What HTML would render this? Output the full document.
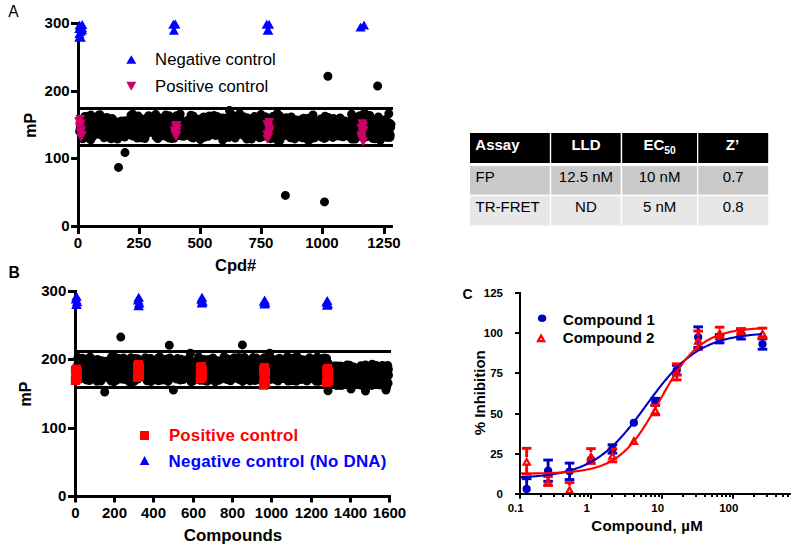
<!DOCTYPE html>
<html><head><meta charset="utf-8"><title>Figure</title>
<style>
html,body{margin:0;padding:0;background:#fff;}
svg{display:block;font-family:'Liberation Sans',Arial,sans-serif;}
</style></head>
<body>
<svg width="798" height="549" viewBox="0 0 798 549">
<rect width="798" height="549" fill="#fff"/>
<text x="8.20" y="16.80" font-size="15.6" font-weight="normal" fill="#000" text-anchor="start" >A</text>
<line x1="78.50" y1="22.00" x2="78.50" y2="228.00" stroke="#000" stroke-width="3"/>
<line x1="77.00" y1="226.50" x2="393.00" y2="226.50" stroke="#000" stroke-width="3"/>
<line x1="71.00" y1="226.50" x2="78.50" y2="226.50" stroke="#000" stroke-width="3"/>
<text x="69.60" y="231.00" font-size="15" font-weight="bold" fill="#000" text-anchor="end" >0</text>
<line x1="71.00" y1="158.50" x2="78.50" y2="158.50" stroke="#000" stroke-width="3"/>
<text x="69.60" y="163.00" font-size="15" font-weight="bold" fill="#000" text-anchor="end" >100</text>
<line x1="71.00" y1="91.50" x2="78.50" y2="91.50" stroke="#000" stroke-width="3"/>
<text x="69.60" y="96.00" font-size="15" font-weight="bold" fill="#000" text-anchor="end" >200</text>
<line x1="71.00" y1="23.50" x2="78.50" y2="23.50" stroke="#000" stroke-width="3"/>
<text x="69.60" y="28.00" font-size="15" font-weight="bold" fill="#000" text-anchor="end" >300</text>
<line x1="78.50" y1="226.50" x2="78.50" y2="234.00" stroke="#000" stroke-width="3"/>
<text x="77.90" y="248.10" font-size="15" font-weight="bold" fill="#000" text-anchor="middle" >0</text>
<line x1="139.50" y1="226.50" x2="139.50" y2="234.00" stroke="#000" stroke-width="3"/>
<text x="138.90" y="248.10" font-size="15" font-weight="bold" fill="#000" text-anchor="middle" >250</text>
<line x1="200.50" y1="226.50" x2="200.50" y2="234.00" stroke="#000" stroke-width="3"/>
<text x="199.90" y="248.10" font-size="15" font-weight="bold" fill="#000" text-anchor="middle" >500</text>
<line x1="261.50" y1="226.50" x2="261.50" y2="234.00" stroke="#000" stroke-width="3"/>
<text x="260.90" y="248.10" font-size="15" font-weight="bold" fill="#000" text-anchor="middle" >750</text>
<line x1="322.50" y1="226.50" x2="322.50" y2="234.00" stroke="#000" stroke-width="3"/>
<text x="321.90" y="248.10" font-size="15" font-weight="bold" fill="#000" text-anchor="middle" >1000</text>
<line x1="384.50" y1="226.50" x2="384.50" y2="234.00" stroke="#000" stroke-width="3"/>
<text x="383.90" y="248.10" font-size="15" font-weight="bold" fill="#000" text-anchor="middle" >1250</text>
<text x="235.60" y="270.60" font-size="16.5" font-weight="bold" fill="#000" text-anchor="middle" >Cpd#</text>
<text x="36.00" y="125.20" font-size="16" font-weight="bold" fill="#000" text-anchor="middle" transform="rotate(-90 36.0 125.2)">mP</text>
<path d="M76.8,130.3a4.5,4.5 0 1,0 9.0,0a4.5,4.5 0 1,0 -9.0,0M77.0,130.3a4.5,4.5 0 1,0 9.0,0a4.5,4.5 0 1,0 -9.0,0M77.3,120.6a4.5,4.5 0 1,0 9.0,0a4.5,4.5 0 1,0 -9.0,0M77.5,123.5a4.5,4.5 0 1,0 9.0,0a4.5,4.5 0 1,0 -9.0,0M77.6,130.4a4.5,4.5 0 1,0 9.0,0a4.5,4.5 0 1,0 -9.0,0M77.8,122.3a4.5,4.5 0 1,0 9.0,0a4.5,4.5 0 1,0 -9.0,0M78.1,122.2a4.5,4.5 0 1,0 9.0,0a4.5,4.5 0 1,0 -9.0,0M78.3,138.8a4.5,4.5 0 1,0 9.0,0a4.5,4.5 0 1,0 -9.0,0M78.7,122.5a4.5,4.5 0 1,0 9.0,0a4.5,4.5 0 1,0 -9.0,0M78.9,121.6a4.5,4.5 0 1,0 9.0,0a4.5,4.5 0 1,0 -9.0,0M79.0,131.2a4.5,4.5 0 1,0 9.0,0a4.5,4.5 0 1,0 -9.0,0M79.4,128.5a4.5,4.5 0 1,0 9.0,0a4.5,4.5 0 1,0 -9.0,0M79.6,123.2a4.5,4.5 0 1,0 9.0,0a4.5,4.5 0 1,0 -9.0,0M79.9,135.3a4.5,4.5 0 1,0 9.0,0a4.5,4.5 0 1,0 -9.0,0M80.1,129.8a4.5,4.5 0 1,0 9.0,0a4.5,4.5 0 1,0 -9.0,0M80.3,116.4a4.5,4.5 0 1,0 9.0,0a4.5,4.5 0 1,0 -9.0,0M80.6,124.5a4.5,4.5 0 1,0 9.0,0a4.5,4.5 0 1,0 -9.0,0M80.9,122.2a4.5,4.5 0 1,0 9.0,0a4.5,4.5 0 1,0 -9.0,0M81.0,116.5a4.5,4.5 0 1,0 9.0,0a4.5,4.5 0 1,0 -9.0,0M81.3,132.6a4.5,4.5 0 1,0 9.0,0a4.5,4.5 0 1,0 -9.0,0M81.6,136.9a4.5,4.5 0 1,0 9.0,0a4.5,4.5 0 1,0 -9.0,0M81.9,129.3a4.5,4.5 0 1,0 9.0,0a4.5,4.5 0 1,0 -9.0,0M82.1,131.1a4.5,4.5 0 1,0 9.0,0a4.5,4.5 0 1,0 -9.0,0M82.4,122.5a4.5,4.5 0 1,0 9.0,0a4.5,4.5 0 1,0 -9.0,0M82.6,120.0a4.5,4.5 0 1,0 9.0,0a4.5,4.5 0 1,0 -9.0,0M82.9,123.1a4.5,4.5 0 1,0 9.0,0a4.5,4.5 0 1,0 -9.0,0M83.2,116.6a4.5,4.5 0 1,0 9.0,0a4.5,4.5 0 1,0 -9.0,0M83.2,128.5a4.5,4.5 0 1,0 9.0,0a4.5,4.5 0 1,0 -9.0,0M83.6,129.3a4.5,4.5 0 1,0 9.0,0a4.5,4.5 0 1,0 -9.0,0M83.8,121.6a4.5,4.5 0 1,0 9.0,0a4.5,4.5 0 1,0 -9.0,0M84.1,134.5a4.5,4.5 0 1,0 9.0,0a4.5,4.5 0 1,0 -9.0,0M84.2,127.9a4.5,4.5 0 1,0 9.0,0a4.5,4.5 0 1,0 -9.0,0M84.4,138.0a4.5,4.5 0 1,0 9.0,0a4.5,4.5 0 1,0 -9.0,0M84.7,131.1a4.5,4.5 0 1,0 9.0,0a4.5,4.5 0 1,0 -9.0,0M85.0,115.8a4.5,4.5 0 1,0 9.0,0a4.5,4.5 0 1,0 -9.0,0M85.2,135.8a4.5,4.5 0 1,0 9.0,0a4.5,4.5 0 1,0 -9.0,0M85.5,122.4a4.5,4.5 0 1,0 9.0,0a4.5,4.5 0 1,0 -9.0,0M85.8,130.5a4.5,4.5 0 1,0 9.0,0a4.5,4.5 0 1,0 -9.0,0M86.0,122.5a4.5,4.5 0 1,0 9.0,0a4.5,4.5 0 1,0 -9.0,0M86.2,139.9a4.5,4.5 0 1,0 9.0,0a4.5,4.5 0 1,0 -9.0,0M86.4,115.1a4.5,4.5 0 1,0 9.0,0a4.5,4.5 0 1,0 -9.0,0M86.7,127.4a4.5,4.5 0 1,0 9.0,0a4.5,4.5 0 1,0 -9.0,0M87.0,131.9a4.5,4.5 0 1,0 9.0,0a4.5,4.5 0 1,0 -9.0,0M87.3,126.7a4.5,4.5 0 1,0 9.0,0a4.5,4.5 0 1,0 -9.0,0M87.5,127.4a4.5,4.5 0 1,0 9.0,0a4.5,4.5 0 1,0 -9.0,0M87.7,119.8a4.5,4.5 0 1,0 9.0,0a4.5,4.5 0 1,0 -9.0,0M88.0,117.1a4.5,4.5 0 1,0 9.0,0a4.5,4.5 0 1,0 -9.0,0M88.3,125.9a4.5,4.5 0 1,0 9.0,0a4.5,4.5 0 1,0 -9.0,0M88.4,136.6a4.5,4.5 0 1,0 9.0,0a4.5,4.5 0 1,0 -9.0,0M88.8,119.6a4.5,4.5 0 1,0 9.0,0a4.5,4.5 0 1,0 -9.0,0M89.0,121.3a4.5,4.5 0 1,0 9.0,0a4.5,4.5 0 1,0 -9.0,0M89.1,131.2a4.5,4.5 0 1,0 9.0,0a4.5,4.5 0 1,0 -9.0,0M89.5,129.2a4.5,4.5 0 1,0 9.0,0a4.5,4.5 0 1,0 -9.0,0M89.6,127.8a4.5,4.5 0 1,0 9.0,0a4.5,4.5 0 1,0 -9.0,0M89.9,125.6a4.5,4.5 0 1,0 9.0,0a4.5,4.5 0 1,0 -9.0,0M90.1,128.7a4.5,4.5 0 1,0 9.0,0a4.5,4.5 0 1,0 -9.0,0M90.3,132.1a4.5,4.5 0 1,0 9.0,0a4.5,4.5 0 1,0 -9.0,0M90.6,130.8a4.5,4.5 0 1,0 9.0,0a4.5,4.5 0 1,0 -9.0,0M91.0,123.8a4.5,4.5 0 1,0 9.0,0a4.5,4.5 0 1,0 -9.0,0M91.1,124.2a4.5,4.5 0 1,0 9.0,0a4.5,4.5 0 1,0 -9.0,0M91.4,124.4a4.5,4.5 0 1,0 9.0,0a4.5,4.5 0 1,0 -9.0,0M91.7,129.5a4.5,4.5 0 1,0 9.0,0a4.5,4.5 0 1,0 -9.0,0M92.0,118.9a4.5,4.5 0 1,0 9.0,0a4.5,4.5 0 1,0 -9.0,0M92.0,128.5a4.5,4.5 0 1,0 9.0,0a4.5,4.5 0 1,0 -9.0,0M92.3,123.8a4.5,4.5 0 1,0 9.0,0a4.5,4.5 0 1,0 -9.0,0M92.7,131.4a4.5,4.5 0 1,0 9.0,0a4.5,4.5 0 1,0 -9.0,0M92.8,129.3a4.5,4.5 0 1,0 9.0,0a4.5,4.5 0 1,0 -9.0,0M93.1,132.1a4.5,4.5 0 1,0 9.0,0a4.5,4.5 0 1,0 -9.0,0M93.3,133.8a4.5,4.5 0 1,0 9.0,0a4.5,4.5 0 1,0 -9.0,0M93.6,124.9a4.5,4.5 0 1,0 9.0,0a4.5,4.5 0 1,0 -9.0,0M93.9,126.3a4.5,4.5 0 1,0 9.0,0a4.5,4.5 0 1,0 -9.0,0M94.0,133.5a4.5,4.5 0 1,0 9.0,0a4.5,4.5 0 1,0 -9.0,0M94.4,114.9a4.5,4.5 0 1,0 9.0,0a4.5,4.5 0 1,0 -9.0,0M94.6,124.3a4.5,4.5 0 1,0 9.0,0a4.5,4.5 0 1,0 -9.0,0M94.8,134.4a4.5,4.5 0 1,0 9.0,0a4.5,4.5 0 1,0 -9.0,0M95.2,131.3a4.5,4.5 0 1,0 9.0,0a4.5,4.5 0 1,0 -9.0,0M95.4,114.7a4.5,4.5 0 1,0 9.0,0a4.5,4.5 0 1,0 -9.0,0M95.5,120.3a4.5,4.5 0 1,0 9.0,0a4.5,4.5 0 1,0 -9.0,0M95.7,126.1a4.5,4.5 0 1,0 9.0,0a4.5,4.5 0 1,0 -9.0,0M96.0,125.8a4.5,4.5 0 1,0 9.0,0a4.5,4.5 0 1,0 -9.0,0M96.4,132.1a4.5,4.5 0 1,0 9.0,0a4.5,4.5 0 1,0 -9.0,0M96.7,132.2a4.5,4.5 0 1,0 9.0,0a4.5,4.5 0 1,0 -9.0,0M96.9,133.2a4.5,4.5 0 1,0 9.0,0a4.5,4.5 0 1,0 -9.0,0M97.0,124.9a4.5,4.5 0 1,0 9.0,0a4.5,4.5 0 1,0 -9.0,0M97.2,128.4a4.5,4.5 0 1,0 9.0,0a4.5,4.5 0 1,0 -9.0,0M97.6,131.3a4.5,4.5 0 1,0 9.0,0a4.5,4.5 0 1,0 -9.0,0M97.9,131.1a4.5,4.5 0 1,0 9.0,0a4.5,4.5 0 1,0 -9.0,0M98.1,120.1a4.5,4.5 0 1,0 9.0,0a4.5,4.5 0 1,0 -9.0,0M98.4,135.7a4.5,4.5 0 1,0 9.0,0a4.5,4.5 0 1,0 -9.0,0M98.6,132.0a4.5,4.5 0 1,0 9.0,0a4.5,4.5 0 1,0 -9.0,0M98.8,126.8a4.5,4.5 0 1,0 9.0,0a4.5,4.5 0 1,0 -9.0,0M98.9,118.8a4.5,4.5 0 1,0 9.0,0a4.5,4.5 0 1,0 -9.0,0M99.3,120.6a4.5,4.5 0 1,0 9.0,0a4.5,4.5 0 1,0 -9.0,0M99.6,137.7a4.5,4.5 0 1,0 9.0,0a4.5,4.5 0 1,0 -9.0,0M99.7,136.6a4.5,4.5 0 1,0 9.0,0a4.5,4.5 0 1,0 -9.0,0M100.1,128.6a4.5,4.5 0 1,0 9.0,0a4.5,4.5 0 1,0 -9.0,0M100.2,130.0a4.5,4.5 0 1,0 9.0,0a4.5,4.5 0 1,0 -9.0,0M100.6,128.2a4.5,4.5 0 1,0 9.0,0a4.5,4.5 0 1,0 -9.0,0M100.8,123.1a4.5,4.5 0 1,0 9.0,0a4.5,4.5 0 1,0 -9.0,0M101.1,123.2a4.5,4.5 0 1,0 9.0,0a4.5,4.5 0 1,0 -9.0,0M101.2,121.4a4.5,4.5 0 1,0 9.0,0a4.5,4.5 0 1,0 -9.0,0M101.4,128.5a4.5,4.5 0 1,0 9.0,0a4.5,4.5 0 1,0 -9.0,0M101.8,124.1a4.5,4.5 0 1,0 9.0,0a4.5,4.5 0 1,0 -9.0,0M101.9,135.9a4.5,4.5 0 1,0 9.0,0a4.5,4.5 0 1,0 -9.0,0M102.1,117.4a4.5,4.5 0 1,0 9.0,0a4.5,4.5 0 1,0 -9.0,0M102.4,125.4a4.5,4.5 0 1,0 9.0,0a4.5,4.5 0 1,0 -9.0,0M102.7,131.8a4.5,4.5 0 1,0 9.0,0a4.5,4.5 0 1,0 -9.0,0M102.9,123.6a4.5,4.5 0 1,0 9.0,0a4.5,4.5 0 1,0 -9.0,0M103.3,128.6a4.5,4.5 0 1,0 9.0,0a4.5,4.5 0 1,0 -9.0,0M103.4,117.9a4.5,4.5 0 1,0 9.0,0a4.5,4.5 0 1,0 -9.0,0M103.8,129.2a4.5,4.5 0 1,0 9.0,0a4.5,4.5 0 1,0 -9.0,0M103.9,134.0a4.5,4.5 0 1,0 9.0,0a4.5,4.5 0 1,0 -9.0,0M104.2,122.7a4.5,4.5 0 1,0 9.0,0a4.5,4.5 0 1,0 -9.0,0M104.4,134.3a4.5,4.5 0 1,0 9.0,0a4.5,4.5 0 1,0 -9.0,0M104.6,127.7a4.5,4.5 0 1,0 9.0,0a4.5,4.5 0 1,0 -9.0,0M104.8,128.1a4.5,4.5 0 1,0 9.0,0a4.5,4.5 0 1,0 -9.0,0M105.1,122.7a4.5,4.5 0 1,0 9.0,0a4.5,4.5 0 1,0 -9.0,0M105.5,121.0a4.5,4.5 0 1,0 9.0,0a4.5,4.5 0 1,0 -9.0,0M105.6,124.6a4.5,4.5 0 1,0 9.0,0a4.5,4.5 0 1,0 -9.0,0M105.9,127.5a4.5,4.5 0 1,0 9.0,0a4.5,4.5 0 1,0 -9.0,0M106.1,123.6a4.5,4.5 0 1,0 9.0,0a4.5,4.5 0 1,0 -9.0,0M106.3,124.8a4.5,4.5 0 1,0 9.0,0a4.5,4.5 0 1,0 -9.0,0M106.6,138.7a4.5,4.5 0 1,0 9.0,0a4.5,4.5 0 1,0 -9.0,0M106.9,127.8a4.5,4.5 0 1,0 9.0,0a4.5,4.5 0 1,0 -9.0,0M107.1,120.5a4.5,4.5 0 1,0 9.0,0a4.5,4.5 0 1,0 -9.0,0M107.4,121.4a4.5,4.5 0 1,0 9.0,0a4.5,4.5 0 1,0 -9.0,0M107.7,118.5a4.5,4.5 0 1,0 9.0,0a4.5,4.5 0 1,0 -9.0,0M107.8,129.3a4.5,4.5 0 1,0 9.0,0a4.5,4.5 0 1,0 -9.0,0M108.2,122.3a4.5,4.5 0 1,0 9.0,0a4.5,4.5 0 1,0 -9.0,0M108.4,126.3a4.5,4.5 0 1,0 9.0,0a4.5,4.5 0 1,0 -9.0,0M108.7,135.7a4.5,4.5 0 1,0 9.0,0a4.5,4.5 0 1,0 -9.0,0M108.9,129.1a4.5,4.5 0 1,0 9.0,0a4.5,4.5 0 1,0 -9.0,0M109.1,129.5a4.5,4.5 0 1,0 9.0,0a4.5,4.5 0 1,0 -9.0,0M109.2,127.0a4.5,4.5 0 1,0 9.0,0a4.5,4.5 0 1,0 -9.0,0M109.6,129.5a4.5,4.5 0 1,0 9.0,0a4.5,4.5 0 1,0 -9.0,0M109.9,130.0a4.5,4.5 0 1,0 9.0,0a4.5,4.5 0 1,0 -9.0,0M110.1,124.4a4.5,4.5 0 1,0 9.0,0a4.5,4.5 0 1,0 -9.0,0M110.3,135.8a4.5,4.5 0 1,0 9.0,0a4.5,4.5 0 1,0 -9.0,0M110.7,138.1a4.5,4.5 0 1,0 9.0,0a4.5,4.5 0 1,0 -9.0,0M110.7,133.5a4.5,4.5 0 1,0 9.0,0a4.5,4.5 0 1,0 -9.0,0M111.0,124.7a4.5,4.5 0 1,0 9.0,0a4.5,4.5 0 1,0 -9.0,0M111.4,128.9a4.5,4.5 0 1,0 9.0,0a4.5,4.5 0 1,0 -9.0,0M111.5,123.2a4.5,4.5 0 1,0 9.0,0a4.5,4.5 0 1,0 -9.0,0M111.8,124.3a4.5,4.5 0 1,0 9.0,0a4.5,4.5 0 1,0 -9.0,0M112.0,130.7a4.5,4.5 0 1,0 9.0,0a4.5,4.5 0 1,0 -9.0,0M112.3,135.6a4.5,4.5 0 1,0 9.0,0a4.5,4.5 0 1,0 -9.0,0M112.5,127.9a4.5,4.5 0 1,0 9.0,0a4.5,4.5 0 1,0 -9.0,0M112.6,122.0a4.5,4.5 0 1,0 9.0,0a4.5,4.5 0 1,0 -9.0,0M113.0,135.3a4.5,4.5 0 1,0 9.0,0a4.5,4.5 0 1,0 -9.0,0M113.1,139.1a4.5,4.5 0 1,0 9.0,0a4.5,4.5 0 1,0 -9.0,0M113.6,125.6a4.5,4.5 0 1,0 9.0,0a4.5,4.5 0 1,0 -9.0,0M113.6,126.6a4.5,4.5 0 1,0 9.0,0a4.5,4.5 0 1,0 -9.0,0M114.1,128.8a4.5,4.5 0 1,0 9.0,0a4.5,4.5 0 1,0 -9.0,0M114.2,131.8a4.5,4.5 0 1,0 9.0,0a4.5,4.5 0 1,0 -9.0,0M114.6,132.1a4.5,4.5 0 1,0 9.0,0a4.5,4.5 0 1,0 -9.0,0M114.8,126.6a4.5,4.5 0 1,0 9.0,0a4.5,4.5 0 1,0 -9.0,0M115.1,130.8a4.5,4.5 0 1,0 9.0,0a4.5,4.5 0 1,0 -9.0,0M115.2,125.9a4.5,4.5 0 1,0 9.0,0a4.5,4.5 0 1,0 -9.0,0M115.3,123.9a4.5,4.5 0 1,0 9.0,0a4.5,4.5 0 1,0 -9.0,0M115.7,124.4a4.5,4.5 0 1,0 9.0,0a4.5,4.5 0 1,0 -9.0,0M116.1,128.0a4.5,4.5 0 1,0 9.0,0a4.5,4.5 0 1,0 -9.0,0M116.2,127.7a4.5,4.5 0 1,0 9.0,0a4.5,4.5 0 1,0 -9.0,0M116.5,124.0a4.5,4.5 0 1,0 9.0,0a4.5,4.5 0 1,0 -9.0,0M116.6,131.8a4.5,4.5 0 1,0 9.0,0a4.5,4.5 0 1,0 -9.0,0M116.9,121.0a4.5,4.5 0 1,0 9.0,0a4.5,4.5 0 1,0 -9.0,0M117.2,131.8a4.5,4.5 0 1,0 9.0,0a4.5,4.5 0 1,0 -9.0,0M117.3,124.3a4.5,4.5 0 1,0 9.0,0a4.5,4.5 0 1,0 -9.0,0M117.7,127.0a4.5,4.5 0 1,0 9.0,0a4.5,4.5 0 1,0 -9.0,0M117.8,130.2a4.5,4.5 0 1,0 9.0,0a4.5,4.5 0 1,0 -9.0,0M118.0,128.6a4.5,4.5 0 1,0 9.0,0a4.5,4.5 0 1,0 -9.0,0M118.4,132.6a4.5,4.5 0 1,0 9.0,0a4.5,4.5 0 1,0 -9.0,0M118.7,124.8a4.5,4.5 0 1,0 9.0,0a4.5,4.5 0 1,0 -9.0,0M118.8,134.8a4.5,4.5 0 1,0 9.0,0a4.5,4.5 0 1,0 -9.0,0M119.1,132.1a4.5,4.5 0 1,0 9.0,0a4.5,4.5 0 1,0 -9.0,0M119.3,127.4a4.5,4.5 0 1,0 9.0,0a4.5,4.5 0 1,0 -9.0,0M119.7,122.5a4.5,4.5 0 1,0 9.0,0a4.5,4.5 0 1,0 -9.0,0M119.9,125.4a4.5,4.5 0 1,0 9.0,0a4.5,4.5 0 1,0 -9.0,0M120.2,137.0a4.5,4.5 0 1,0 9.0,0a4.5,4.5 0 1,0 -9.0,0M120.3,134.8a4.5,4.5 0 1,0 9.0,0a4.5,4.5 0 1,0 -9.0,0M120.6,130.3a4.5,4.5 0 1,0 9.0,0a4.5,4.5 0 1,0 -9.0,0M120.9,120.8a4.5,4.5 0 1,0 9.0,0a4.5,4.5 0 1,0 -9.0,0M121.1,133.2a4.5,4.5 0 1,0 9.0,0a4.5,4.5 0 1,0 -9.0,0M121.4,126.1a4.5,4.5 0 1,0 9.0,0a4.5,4.5 0 1,0 -9.0,0M121.6,122.1a4.5,4.5 0 1,0 9.0,0a4.5,4.5 0 1,0 -9.0,0M121.8,121.4a4.5,4.5 0 1,0 9.0,0a4.5,4.5 0 1,0 -9.0,0M122.0,128.6a4.5,4.5 0 1,0 9.0,0a4.5,4.5 0 1,0 -9.0,0M122.4,128.8a4.5,4.5 0 1,0 9.0,0a4.5,4.5 0 1,0 -9.0,0M122.5,128.3a4.5,4.5 0 1,0 9.0,0a4.5,4.5 0 1,0 -9.0,0M122.9,129.3a4.5,4.5 0 1,0 9.0,0a4.5,4.5 0 1,0 -9.0,0M123.2,124.1a4.5,4.5 0 1,0 9.0,0a4.5,4.5 0 1,0 -9.0,0M123.2,121.8a4.5,4.5 0 1,0 9.0,0a4.5,4.5 0 1,0 -9.0,0M123.5,122.8a4.5,4.5 0 1,0 9.0,0a4.5,4.5 0 1,0 -9.0,0M123.8,127.8a4.5,4.5 0 1,0 9.0,0a4.5,4.5 0 1,0 -9.0,0M124.0,122.3a4.5,4.5 0 1,0 9.0,0a4.5,4.5 0 1,0 -9.0,0M124.3,127.4a4.5,4.5 0 1,0 9.0,0a4.5,4.5 0 1,0 -9.0,0M124.5,126.6a4.5,4.5 0 1,0 9.0,0a4.5,4.5 0 1,0 -9.0,0M124.8,127.1a4.5,4.5 0 1,0 9.0,0a4.5,4.5 0 1,0 -9.0,0M125.0,122.1a4.5,4.5 0 1,0 9.0,0a4.5,4.5 0 1,0 -9.0,0M125.3,126.7a4.5,4.5 0 1,0 9.0,0a4.5,4.5 0 1,0 -9.0,0M125.4,126.5a4.5,4.5 0 1,0 9.0,0a4.5,4.5 0 1,0 -9.0,0M125.7,129.8a4.5,4.5 0 1,0 9.0,0a4.5,4.5 0 1,0 -9.0,0M125.9,132.7a4.5,4.5 0 1,0 9.0,0a4.5,4.5 0 1,0 -9.0,0M126.2,127.6a4.5,4.5 0 1,0 9.0,0a4.5,4.5 0 1,0 -9.0,0M126.5,115.3a4.5,4.5 0 1,0 9.0,0a4.5,4.5 0 1,0 -9.0,0M126.8,124.7a4.5,4.5 0 1,0 9.0,0a4.5,4.5 0 1,0 -9.0,0M127.0,131.8a4.5,4.5 0 1,0 9.0,0a4.5,4.5 0 1,0 -9.0,0M127.2,122.0a4.5,4.5 0 1,0 9.0,0a4.5,4.5 0 1,0 -9.0,0M127.6,133.4a4.5,4.5 0 1,0 9.0,0a4.5,4.5 0 1,0 -9.0,0M127.8,135.9a4.5,4.5 0 1,0 9.0,0a4.5,4.5 0 1,0 -9.0,0M127.9,134.3a4.5,4.5 0 1,0 9.0,0a4.5,4.5 0 1,0 -9.0,0M128.2,114.1a4.5,4.5 0 1,0 9.0,0a4.5,4.5 0 1,0 -9.0,0M128.5,128.3a4.5,4.5 0 1,0 9.0,0a4.5,4.5 0 1,0 -9.0,0M128.7,123.3a4.5,4.5 0 1,0 9.0,0a4.5,4.5 0 1,0 -9.0,0M129.0,133.2a4.5,4.5 0 1,0 9.0,0a4.5,4.5 0 1,0 -9.0,0M129.3,115.9a4.5,4.5 0 1,0 9.0,0a4.5,4.5 0 1,0 -9.0,0M129.5,135.1a4.5,4.5 0 1,0 9.0,0a4.5,4.5 0 1,0 -9.0,0M129.7,120.2a4.5,4.5 0 1,0 9.0,0a4.5,4.5 0 1,0 -9.0,0M129.9,130.5a4.5,4.5 0 1,0 9.0,0a4.5,4.5 0 1,0 -9.0,0M130.1,127.5a4.5,4.5 0 1,0 9.0,0a4.5,4.5 0 1,0 -9.0,0M130.3,131.4a4.5,4.5 0 1,0 9.0,0a4.5,4.5 0 1,0 -9.0,0M130.7,119.1a4.5,4.5 0 1,0 9.0,0a4.5,4.5 0 1,0 -9.0,0M130.9,123.4a4.5,4.5 0 1,0 9.0,0a4.5,4.5 0 1,0 -9.0,0M131.0,119.4a4.5,4.5 0 1,0 9.0,0a4.5,4.5 0 1,0 -9.0,0M131.5,126.7a4.5,4.5 0 1,0 9.0,0a4.5,4.5 0 1,0 -9.0,0M131.7,118.5a4.5,4.5 0 1,0 9.0,0a4.5,4.5 0 1,0 -9.0,0M131.9,137.3a4.5,4.5 0 1,0 9.0,0a4.5,4.5 0 1,0 -9.0,0M132.1,131.4a4.5,4.5 0 1,0 9.0,0a4.5,4.5 0 1,0 -9.0,0M132.3,125.7a4.5,4.5 0 1,0 9.0,0a4.5,4.5 0 1,0 -9.0,0M132.6,138.1a4.5,4.5 0 1,0 9.0,0a4.5,4.5 0 1,0 -9.0,0M132.9,134.9a4.5,4.5 0 1,0 9.0,0a4.5,4.5 0 1,0 -9.0,0M133.1,125.6a4.5,4.5 0 1,0 9.0,0a4.5,4.5 0 1,0 -9.0,0M133.4,122.0a4.5,4.5 0 1,0 9.0,0a4.5,4.5 0 1,0 -9.0,0M133.6,115.9a4.5,4.5 0 1,0 9.0,0a4.5,4.5 0 1,0 -9.0,0M133.9,130.3a4.5,4.5 0 1,0 9.0,0a4.5,4.5 0 1,0 -9.0,0M134.0,128.6a4.5,4.5 0 1,0 9.0,0a4.5,4.5 0 1,0 -9.0,0M134.4,123.8a4.5,4.5 0 1,0 9.0,0a4.5,4.5 0 1,0 -9.0,0M134.5,135.3a4.5,4.5 0 1,0 9.0,0a4.5,4.5 0 1,0 -9.0,0M134.7,125.6a4.5,4.5 0 1,0 9.0,0a4.5,4.5 0 1,0 -9.0,0M135.1,137.2a4.5,4.5 0 1,0 9.0,0a4.5,4.5 0 1,0 -9.0,0M135.4,124.7a4.5,4.5 0 1,0 9.0,0a4.5,4.5 0 1,0 -9.0,0M135.6,135.0a4.5,4.5 0 1,0 9.0,0a4.5,4.5 0 1,0 -9.0,0M135.8,137.7a4.5,4.5 0 1,0 9.0,0a4.5,4.5 0 1,0 -9.0,0M136.0,136.8a4.5,4.5 0 1,0 9.0,0a4.5,4.5 0 1,0 -9.0,0M136.4,128.0a4.5,4.5 0 1,0 9.0,0a4.5,4.5 0 1,0 -9.0,0M136.5,126.3a4.5,4.5 0 1,0 9.0,0a4.5,4.5 0 1,0 -9.0,0M136.9,134.3a4.5,4.5 0 1,0 9.0,0a4.5,4.5 0 1,0 -9.0,0M137.0,125.3a4.5,4.5 0 1,0 9.0,0a4.5,4.5 0 1,0 -9.0,0M137.2,131.3a4.5,4.5 0 1,0 9.0,0a4.5,4.5 0 1,0 -9.0,0M137.6,125.2a4.5,4.5 0 1,0 9.0,0a4.5,4.5 0 1,0 -9.0,0M137.7,124.2a4.5,4.5 0 1,0 9.0,0a4.5,4.5 0 1,0 -9.0,0M137.9,130.4a4.5,4.5 0 1,0 9.0,0a4.5,4.5 0 1,0 -9.0,0M138.4,119.3a4.5,4.5 0 1,0 9.0,0a4.5,4.5 0 1,0 -9.0,0M138.6,128.5a4.5,4.5 0 1,0 9.0,0a4.5,4.5 0 1,0 -9.0,0M138.8,127.4a4.5,4.5 0 1,0 9.0,0a4.5,4.5 0 1,0 -9.0,0M139.0,126.9a4.5,4.5 0 1,0 9.0,0a4.5,4.5 0 1,0 -9.0,0M139.2,125.6a4.5,4.5 0 1,0 9.0,0a4.5,4.5 0 1,0 -9.0,0M139.5,130.5a4.5,4.5 0 1,0 9.0,0a4.5,4.5 0 1,0 -9.0,0M139.7,127.0a4.5,4.5 0 1,0 9.0,0a4.5,4.5 0 1,0 -9.0,0M140.1,126.5a4.5,4.5 0 1,0 9.0,0a4.5,4.5 0 1,0 -9.0,0M140.3,138.5a4.5,4.5 0 1,0 9.0,0a4.5,4.5 0 1,0 -9.0,0M140.5,137.7a4.5,4.5 0 1,0 9.0,0a4.5,4.5 0 1,0 -9.0,0M140.8,125.1a4.5,4.5 0 1,0 9.0,0a4.5,4.5 0 1,0 -9.0,0M140.9,133.3a4.5,4.5 0 1,0 9.0,0a4.5,4.5 0 1,0 -9.0,0M141.3,121.2a4.5,4.5 0 1,0 9.0,0a4.5,4.5 0 1,0 -9.0,0M141.4,123.3a4.5,4.5 0 1,0 9.0,0a4.5,4.5 0 1,0 -9.0,0M141.7,129.9a4.5,4.5 0 1,0 9.0,0a4.5,4.5 0 1,0 -9.0,0M142.0,127.8a4.5,4.5 0 1,0 9.0,0a4.5,4.5 0 1,0 -9.0,0M142.1,131.7a4.5,4.5 0 1,0 9.0,0a4.5,4.5 0 1,0 -9.0,0M142.4,124.7a4.5,4.5 0 1,0 9.0,0a4.5,4.5 0 1,0 -9.0,0M142.7,129.3a4.5,4.5 0 1,0 9.0,0a4.5,4.5 0 1,0 -9.0,0M143.0,133.1a4.5,4.5 0 1,0 9.0,0a4.5,4.5 0 1,0 -9.0,0M143.3,130.6a4.5,4.5 0 1,0 9.0,0a4.5,4.5 0 1,0 -9.0,0M143.5,117.7a4.5,4.5 0 1,0 9.0,0a4.5,4.5 0 1,0 -9.0,0M143.8,116.2a4.5,4.5 0 1,0 9.0,0a4.5,4.5 0 1,0 -9.0,0M143.8,123.4a4.5,4.5 0 1,0 9.0,0a4.5,4.5 0 1,0 -9.0,0M144.2,115.7a4.5,4.5 0 1,0 9.0,0a4.5,4.5 0 1,0 -9.0,0M144.4,130.4a4.5,4.5 0 1,0 9.0,0a4.5,4.5 0 1,0 -9.0,0M144.6,131.6a4.5,4.5 0 1,0 9.0,0a4.5,4.5 0 1,0 -9.0,0M144.8,120.5a4.5,4.5 0 1,0 9.0,0a4.5,4.5 0 1,0 -9.0,0M145.1,127.9a4.5,4.5 0 1,0 9.0,0a4.5,4.5 0 1,0 -9.0,0M145.4,132.2a4.5,4.5 0 1,0 9.0,0a4.5,4.5 0 1,0 -9.0,0M145.7,126.0a4.5,4.5 0 1,0 9.0,0a4.5,4.5 0 1,0 -9.0,0M145.8,120.2a4.5,4.5 0 1,0 9.0,0a4.5,4.5 0 1,0 -9.0,0M146.0,124.3a4.5,4.5 0 1,0 9.0,0a4.5,4.5 0 1,0 -9.0,0M146.3,130.8a4.5,4.5 0 1,0 9.0,0a4.5,4.5 0 1,0 -9.0,0M146.6,129.7a4.5,4.5 0 1,0 9.0,0a4.5,4.5 0 1,0 -9.0,0M147.0,123.1a4.5,4.5 0 1,0 9.0,0a4.5,4.5 0 1,0 -9.0,0M147.0,128.0a4.5,4.5 0 1,0 9.0,0a4.5,4.5 0 1,0 -9.0,0M147.3,125.1a4.5,4.5 0 1,0 9.0,0a4.5,4.5 0 1,0 -9.0,0M147.5,129.4a4.5,4.5 0 1,0 9.0,0a4.5,4.5 0 1,0 -9.0,0M147.8,120.6a4.5,4.5 0 1,0 9.0,0a4.5,4.5 0 1,0 -9.0,0M148.2,120.6a4.5,4.5 0 1,0 9.0,0a4.5,4.5 0 1,0 -9.0,0M148.3,130.6a4.5,4.5 0 1,0 9.0,0a4.5,4.5 0 1,0 -9.0,0M148.5,125.5a4.5,4.5 0 1,0 9.0,0a4.5,4.5 0 1,0 -9.0,0M148.8,128.9a4.5,4.5 0 1,0 9.0,0a4.5,4.5 0 1,0 -9.0,0M149.2,132.6a4.5,4.5 0 1,0 9.0,0a4.5,4.5 0 1,0 -9.0,0M149.3,132.7a4.5,4.5 0 1,0 9.0,0a4.5,4.5 0 1,0 -9.0,0M149.7,128.0a4.5,4.5 0 1,0 9.0,0a4.5,4.5 0 1,0 -9.0,0M149.7,132.2a4.5,4.5 0 1,0 9.0,0a4.5,4.5 0 1,0 -9.0,0M150.0,132.6a4.5,4.5 0 1,0 9.0,0a4.5,4.5 0 1,0 -9.0,0M150.4,127.8a4.5,4.5 0 1,0 9.0,0a4.5,4.5 0 1,0 -9.0,0M150.4,125.7a4.5,4.5 0 1,0 9.0,0a4.5,4.5 0 1,0 -9.0,0M150.8,133.1a4.5,4.5 0 1,0 9.0,0a4.5,4.5 0 1,0 -9.0,0M151.1,122.0a4.5,4.5 0 1,0 9.0,0a4.5,4.5 0 1,0 -9.0,0M151.2,114.4a4.5,4.5 0 1,0 9.0,0a4.5,4.5 0 1,0 -9.0,0M151.6,136.9a4.5,4.5 0 1,0 9.0,0a4.5,4.5 0 1,0 -9.0,0M151.9,132.0a4.5,4.5 0 1,0 9.0,0a4.5,4.5 0 1,0 -9.0,0M151.9,125.9a4.5,4.5 0 1,0 9.0,0a4.5,4.5 0 1,0 -9.0,0M152.2,116.3a4.5,4.5 0 1,0 9.0,0a4.5,4.5 0 1,0 -9.0,0M152.6,125.3a4.5,4.5 0 1,0 9.0,0a4.5,4.5 0 1,0 -9.0,0M152.8,119.6a4.5,4.5 0 1,0 9.0,0a4.5,4.5 0 1,0 -9.0,0M153.0,117.3a4.5,4.5 0 1,0 9.0,0a4.5,4.5 0 1,0 -9.0,0M153.3,138.6a4.5,4.5 0 1,0 9.0,0a4.5,4.5 0 1,0 -9.0,0M153.4,129.8a4.5,4.5 0 1,0 9.0,0a4.5,4.5 0 1,0 -9.0,0M153.8,123.2a4.5,4.5 0 1,0 9.0,0a4.5,4.5 0 1,0 -9.0,0M153.9,122.1a4.5,4.5 0 1,0 9.0,0a4.5,4.5 0 1,0 -9.0,0M154.2,119.7a4.5,4.5 0 1,0 9.0,0a4.5,4.5 0 1,0 -9.0,0M154.4,118.6a4.5,4.5 0 1,0 9.0,0a4.5,4.5 0 1,0 -9.0,0M154.6,117.7a4.5,4.5 0 1,0 9.0,0a4.5,4.5 0 1,0 -9.0,0M154.9,125.4a4.5,4.5 0 1,0 9.0,0a4.5,4.5 0 1,0 -9.0,0M155.1,126.0a4.5,4.5 0 1,0 9.0,0a4.5,4.5 0 1,0 -9.0,0M155.4,126.2a4.5,4.5 0 1,0 9.0,0a4.5,4.5 0 1,0 -9.0,0M155.7,136.5a4.5,4.5 0 1,0 9.0,0a4.5,4.5 0 1,0 -9.0,0M156.0,124.2a4.5,4.5 0 1,0 9.0,0a4.5,4.5 0 1,0 -9.0,0M156.2,127.3a4.5,4.5 0 1,0 9.0,0a4.5,4.5 0 1,0 -9.0,0M156.5,132.0a4.5,4.5 0 1,0 9.0,0a4.5,4.5 0 1,0 -9.0,0M156.7,126.3a4.5,4.5 0 1,0 9.0,0a4.5,4.5 0 1,0 -9.0,0M156.9,128.2a4.5,4.5 0 1,0 9.0,0a4.5,4.5 0 1,0 -9.0,0M157.2,122.1a4.5,4.5 0 1,0 9.0,0a4.5,4.5 0 1,0 -9.0,0M157.5,129.4a4.5,4.5 0 1,0 9.0,0a4.5,4.5 0 1,0 -9.0,0M157.8,127.1a4.5,4.5 0 1,0 9.0,0a4.5,4.5 0 1,0 -9.0,0M157.9,128.6a4.5,4.5 0 1,0 9.0,0a4.5,4.5 0 1,0 -9.0,0M158.1,124.9a4.5,4.5 0 1,0 9.0,0a4.5,4.5 0 1,0 -9.0,0M158.5,122.6a4.5,4.5 0 1,0 9.0,0a4.5,4.5 0 1,0 -9.0,0M158.7,122.1a4.5,4.5 0 1,0 9.0,0a4.5,4.5 0 1,0 -9.0,0M159.0,126.7a4.5,4.5 0 1,0 9.0,0a4.5,4.5 0 1,0 -9.0,0M159.1,129.0a4.5,4.5 0 1,0 9.0,0a4.5,4.5 0 1,0 -9.0,0M159.3,122.2a4.5,4.5 0 1,0 9.0,0a4.5,4.5 0 1,0 -9.0,0M159.7,122.0a4.5,4.5 0 1,0 9.0,0a4.5,4.5 0 1,0 -9.0,0M159.9,128.7a4.5,4.5 0 1,0 9.0,0a4.5,4.5 0 1,0 -9.0,0M160.1,131.4a4.5,4.5 0 1,0 9.0,0a4.5,4.5 0 1,0 -9.0,0M160.4,130.5a4.5,4.5 0 1,0 9.0,0a4.5,4.5 0 1,0 -9.0,0M160.6,125.6a4.5,4.5 0 1,0 9.0,0a4.5,4.5 0 1,0 -9.0,0M160.8,130.6a4.5,4.5 0 1,0 9.0,0a4.5,4.5 0 1,0 -9.0,0M161.0,126.2a4.5,4.5 0 1,0 9.0,0a4.5,4.5 0 1,0 -9.0,0M161.2,115.1a4.5,4.5 0 1,0 9.0,0a4.5,4.5 0 1,0 -9.0,0M161.7,136.1a4.5,4.5 0 1,0 9.0,0a4.5,4.5 0 1,0 -9.0,0M161.9,126.5a4.5,4.5 0 1,0 9.0,0a4.5,4.5 0 1,0 -9.0,0M162.0,133.3a4.5,4.5 0 1,0 9.0,0a4.5,4.5 0 1,0 -9.0,0M162.4,136.9a4.5,4.5 0 1,0 9.0,0a4.5,4.5 0 1,0 -9.0,0M162.5,128.9a4.5,4.5 0 1,0 9.0,0a4.5,4.5 0 1,0 -9.0,0M162.8,124.7a4.5,4.5 0 1,0 9.0,0a4.5,4.5 0 1,0 -9.0,0M162.9,130.5a4.5,4.5 0 1,0 9.0,0a4.5,4.5 0 1,0 -9.0,0M163.2,116.4a4.5,4.5 0 1,0 9.0,0a4.5,4.5 0 1,0 -9.0,0M163.5,131.5a4.5,4.5 0 1,0 9.0,0a4.5,4.5 0 1,0 -9.0,0M163.8,125.7a4.5,4.5 0 1,0 9.0,0a4.5,4.5 0 1,0 -9.0,0M164.1,130.1a4.5,4.5 0 1,0 9.0,0a4.5,4.5 0 1,0 -9.0,0M164.2,120.1a4.5,4.5 0 1,0 9.0,0a4.5,4.5 0 1,0 -9.0,0M164.5,115.8a4.5,4.5 0 1,0 9.0,0a4.5,4.5 0 1,0 -9.0,0M164.7,138.1a4.5,4.5 0 1,0 9.0,0a4.5,4.5 0 1,0 -9.0,0M165.0,128.2a4.5,4.5 0 1,0 9.0,0a4.5,4.5 0 1,0 -9.0,0M165.2,125.8a4.5,4.5 0 1,0 9.0,0a4.5,4.5 0 1,0 -9.0,0M165.6,127.0a4.5,4.5 0 1,0 9.0,0a4.5,4.5 0 1,0 -9.0,0M165.6,124.8a4.5,4.5 0 1,0 9.0,0a4.5,4.5 0 1,0 -9.0,0M165.9,131.5a4.5,4.5 0 1,0 9.0,0a4.5,4.5 0 1,0 -9.0,0M166.3,124.2a4.5,4.5 0 1,0 9.0,0a4.5,4.5 0 1,0 -9.0,0M166.6,123.8a4.5,4.5 0 1,0 9.0,0a4.5,4.5 0 1,0 -9.0,0M166.8,131.5a4.5,4.5 0 1,0 9.0,0a4.5,4.5 0 1,0 -9.0,0M167.0,126.0a4.5,4.5 0 1,0 9.0,0a4.5,4.5 0 1,0 -9.0,0M167.2,137.9a4.5,4.5 0 1,0 9.0,0a4.5,4.5 0 1,0 -9.0,0M167.4,138.5a4.5,4.5 0 1,0 9.0,0a4.5,4.5 0 1,0 -9.0,0M167.8,127.1a4.5,4.5 0 1,0 9.0,0a4.5,4.5 0 1,0 -9.0,0M168.0,128.3a4.5,4.5 0 1,0 9.0,0a4.5,4.5 0 1,0 -9.0,0M168.1,126.3a4.5,4.5 0 1,0 9.0,0a4.5,4.5 0 1,0 -9.0,0M168.4,122.1a4.5,4.5 0 1,0 9.0,0a4.5,4.5 0 1,0 -9.0,0M168.7,126.8a4.5,4.5 0 1,0 9.0,0a4.5,4.5 0 1,0 -9.0,0M168.9,134.2a4.5,4.5 0 1,0 9.0,0a4.5,4.5 0 1,0 -9.0,0M169.3,132.0a4.5,4.5 0 1,0 9.0,0a4.5,4.5 0 1,0 -9.0,0M169.5,138.3a4.5,4.5 0 1,0 9.0,0a4.5,4.5 0 1,0 -9.0,0M169.8,128.2a4.5,4.5 0 1,0 9.0,0a4.5,4.5 0 1,0 -9.0,0M169.9,117.3a4.5,4.5 0 1,0 9.0,0a4.5,4.5 0 1,0 -9.0,0M170.1,118.9a4.5,4.5 0 1,0 9.0,0a4.5,4.5 0 1,0 -9.0,0M170.3,136.1a4.5,4.5 0 1,0 9.0,0a4.5,4.5 0 1,0 -9.0,0M170.6,126.9a4.5,4.5 0 1,0 9.0,0a4.5,4.5 0 1,0 -9.0,0M170.8,121.5a4.5,4.5 0 1,0 9.0,0a4.5,4.5 0 1,0 -9.0,0M171.0,120.9a4.5,4.5 0 1,0 9.0,0a4.5,4.5 0 1,0 -9.0,0M171.5,124.8a4.5,4.5 0 1,0 9.0,0a4.5,4.5 0 1,0 -9.0,0M171.7,132.3a4.5,4.5 0 1,0 9.0,0a4.5,4.5 0 1,0 -9.0,0M171.8,126.4a4.5,4.5 0 1,0 9.0,0a4.5,4.5 0 1,0 -9.0,0M172.0,115.8a4.5,4.5 0 1,0 9.0,0a4.5,4.5 0 1,0 -9.0,0M172.4,126.9a4.5,4.5 0 1,0 9.0,0a4.5,4.5 0 1,0 -9.0,0M172.6,118.4a4.5,4.5 0 1,0 9.0,0a4.5,4.5 0 1,0 -9.0,0M172.9,131.7a4.5,4.5 0 1,0 9.0,0a4.5,4.5 0 1,0 -9.0,0M173.2,132.7a4.5,4.5 0 1,0 9.0,0a4.5,4.5 0 1,0 -9.0,0M173.3,118.3a4.5,4.5 0 1,0 9.0,0a4.5,4.5 0 1,0 -9.0,0M173.7,124.3a4.5,4.5 0 1,0 9.0,0a4.5,4.5 0 1,0 -9.0,0M173.8,135.5a4.5,4.5 0 1,0 9.0,0a4.5,4.5 0 1,0 -9.0,0M174.2,128.5a4.5,4.5 0 1,0 9.0,0a4.5,4.5 0 1,0 -9.0,0M174.3,131.8a4.5,4.5 0 1,0 9.0,0a4.5,4.5 0 1,0 -9.0,0M174.5,133.7a4.5,4.5 0 1,0 9.0,0a4.5,4.5 0 1,0 -9.0,0M174.8,120.7a4.5,4.5 0 1,0 9.0,0a4.5,4.5 0 1,0 -9.0,0M175.1,135.1a4.5,4.5 0 1,0 9.0,0a4.5,4.5 0 1,0 -9.0,0M175.3,126.4a4.5,4.5 0 1,0 9.0,0a4.5,4.5 0 1,0 -9.0,0M175.6,114.5a4.5,4.5 0 1,0 9.0,0a4.5,4.5 0 1,0 -9.0,0M175.7,114.0a4.5,4.5 0 1,0 9.0,0a4.5,4.5 0 1,0 -9.0,0M176.1,128.8a4.5,4.5 0 1,0 9.0,0a4.5,4.5 0 1,0 -9.0,0M176.4,132.5a4.5,4.5 0 1,0 9.0,0a4.5,4.5 0 1,0 -9.0,0M176.5,128.3a4.5,4.5 0 1,0 9.0,0a4.5,4.5 0 1,0 -9.0,0M176.7,135.9a4.5,4.5 0 1,0 9.0,0a4.5,4.5 0 1,0 -9.0,0M177.1,125.2a4.5,4.5 0 1,0 9.0,0a4.5,4.5 0 1,0 -9.0,0M177.3,131.9a4.5,4.5 0 1,0 9.0,0a4.5,4.5 0 1,0 -9.0,0M177.5,121.1a4.5,4.5 0 1,0 9.0,0a4.5,4.5 0 1,0 -9.0,0M177.8,129.9a4.5,4.5 0 1,0 9.0,0a4.5,4.5 0 1,0 -9.0,0M178.0,125.7a4.5,4.5 0 1,0 9.0,0a4.5,4.5 0 1,0 -9.0,0M178.3,128.2a4.5,4.5 0 1,0 9.0,0a4.5,4.5 0 1,0 -9.0,0M178.4,133.4a4.5,4.5 0 1,0 9.0,0a4.5,4.5 0 1,0 -9.0,0M178.7,126.5a4.5,4.5 0 1,0 9.0,0a4.5,4.5 0 1,0 -9.0,0M179.0,136.3a4.5,4.5 0 1,0 9.0,0a4.5,4.5 0 1,0 -9.0,0M179.2,133.0a4.5,4.5 0 1,0 9.0,0a4.5,4.5 0 1,0 -9.0,0M179.5,127.2a4.5,4.5 0 1,0 9.0,0a4.5,4.5 0 1,0 -9.0,0M179.7,125.0a4.5,4.5 0 1,0 9.0,0a4.5,4.5 0 1,0 -9.0,0M180.1,131.2a4.5,4.5 0 1,0 9.0,0a4.5,4.5 0 1,0 -9.0,0M180.2,129.8a4.5,4.5 0 1,0 9.0,0a4.5,4.5 0 1,0 -9.0,0M180.5,128.1a4.5,4.5 0 1,0 9.0,0a4.5,4.5 0 1,0 -9.0,0M180.7,124.8a4.5,4.5 0 1,0 9.0,0a4.5,4.5 0 1,0 -9.0,0M180.9,124.5a4.5,4.5 0 1,0 9.0,0a4.5,4.5 0 1,0 -9.0,0M181.3,122.0a4.5,4.5 0 1,0 9.0,0a4.5,4.5 0 1,0 -9.0,0M181.4,129.9a4.5,4.5 0 1,0 9.0,0a4.5,4.5 0 1,0 -9.0,0M181.8,123.3a4.5,4.5 0 1,0 9.0,0a4.5,4.5 0 1,0 -9.0,0M181.9,135.2a4.5,4.5 0 1,0 9.0,0a4.5,4.5 0 1,0 -9.0,0M182.2,123.8a4.5,4.5 0 1,0 9.0,0a4.5,4.5 0 1,0 -9.0,0M182.5,130.3a4.5,4.5 0 1,0 9.0,0a4.5,4.5 0 1,0 -9.0,0M182.6,127.4a4.5,4.5 0 1,0 9.0,0a4.5,4.5 0 1,0 -9.0,0M182.9,129.9a4.5,4.5 0 1,0 9.0,0a4.5,4.5 0 1,0 -9.0,0M183.3,120.3a4.5,4.5 0 1,0 9.0,0a4.5,4.5 0 1,0 -9.0,0M183.4,127.4a4.5,4.5 0 1,0 9.0,0a4.5,4.5 0 1,0 -9.0,0M183.7,127.8a4.5,4.5 0 1,0 9.0,0a4.5,4.5 0 1,0 -9.0,0M183.9,129.4a4.5,4.5 0 1,0 9.0,0a4.5,4.5 0 1,0 -9.0,0M184.2,125.2a4.5,4.5 0 1,0 9.0,0a4.5,4.5 0 1,0 -9.0,0M184.4,122.9a4.5,4.5 0 1,0 9.0,0a4.5,4.5 0 1,0 -9.0,0M184.6,126.7a4.5,4.5 0 1,0 9.0,0a4.5,4.5 0 1,0 -9.0,0M184.9,129.8a4.5,4.5 0 1,0 9.0,0a4.5,4.5 0 1,0 -9.0,0M185.1,125.3a4.5,4.5 0 1,0 9.0,0a4.5,4.5 0 1,0 -9.0,0M185.5,131.3a4.5,4.5 0 1,0 9.0,0a4.5,4.5 0 1,0 -9.0,0M185.5,125.8a4.5,4.5 0 1,0 9.0,0a4.5,4.5 0 1,0 -9.0,0M186.0,134.7a4.5,4.5 0 1,0 9.0,0a4.5,4.5 0 1,0 -9.0,0M186.0,125.6a4.5,4.5 0 1,0 9.0,0a4.5,4.5 0 1,0 -9.0,0M186.5,115.2a4.5,4.5 0 1,0 9.0,0a4.5,4.5 0 1,0 -9.0,0M186.6,136.6a4.5,4.5 0 1,0 9.0,0a4.5,4.5 0 1,0 -9.0,0M186.9,133.4a4.5,4.5 0 1,0 9.0,0a4.5,4.5 0 1,0 -9.0,0M187.0,137.2a4.5,4.5 0 1,0 9.0,0a4.5,4.5 0 1,0 -9.0,0M187.3,134.3a4.5,4.5 0 1,0 9.0,0a4.5,4.5 0 1,0 -9.0,0M187.5,116.0a4.5,4.5 0 1,0 9.0,0a4.5,4.5 0 1,0 -9.0,0M187.8,120.0a4.5,4.5 0 1,0 9.0,0a4.5,4.5 0 1,0 -9.0,0M188.1,131.8a4.5,4.5 0 1,0 9.0,0a4.5,4.5 0 1,0 -9.0,0M188.2,127.0a4.5,4.5 0 1,0 9.0,0a4.5,4.5 0 1,0 -9.0,0M188.7,138.0a4.5,4.5 0 1,0 9.0,0a4.5,4.5 0 1,0 -9.0,0M188.7,115.9a4.5,4.5 0 1,0 9.0,0a4.5,4.5 0 1,0 -9.0,0M189.0,122.3a4.5,4.5 0 1,0 9.0,0a4.5,4.5 0 1,0 -9.0,0M189.4,133.8a4.5,4.5 0 1,0 9.0,0a4.5,4.5 0 1,0 -9.0,0M189.6,133.2a4.5,4.5 0 1,0 9.0,0a4.5,4.5 0 1,0 -9.0,0M189.8,124.3a4.5,4.5 0 1,0 9.0,0a4.5,4.5 0 1,0 -9.0,0M190.1,133.7a4.5,4.5 0 1,0 9.0,0a4.5,4.5 0 1,0 -9.0,0M190.3,122.7a4.5,4.5 0 1,0 9.0,0a4.5,4.5 0 1,0 -9.0,0M190.5,120.4a4.5,4.5 0 1,0 9.0,0a4.5,4.5 0 1,0 -9.0,0M190.7,120.8a4.5,4.5 0 1,0 9.0,0a4.5,4.5 0 1,0 -9.0,0M191.0,121.3a4.5,4.5 0 1,0 9.0,0a4.5,4.5 0 1,0 -9.0,0M191.3,128.3a4.5,4.5 0 1,0 9.0,0a4.5,4.5 0 1,0 -9.0,0M191.4,119.2a4.5,4.5 0 1,0 9.0,0a4.5,4.5 0 1,0 -9.0,0M191.8,129.7a4.5,4.5 0 1,0 9.0,0a4.5,4.5 0 1,0 -9.0,0M192.0,129.1a4.5,4.5 0 1,0 9.0,0a4.5,4.5 0 1,0 -9.0,0M192.2,119.0a4.5,4.5 0 1,0 9.0,0a4.5,4.5 0 1,0 -9.0,0M192.4,129.8a4.5,4.5 0 1,0 9.0,0a4.5,4.5 0 1,0 -9.0,0M192.8,136.7a4.5,4.5 0 1,0 9.0,0a4.5,4.5 0 1,0 -9.0,0M193.1,132.4a4.5,4.5 0 1,0 9.0,0a4.5,4.5 0 1,0 -9.0,0M193.2,134.6a4.5,4.5 0 1,0 9.0,0a4.5,4.5 0 1,0 -9.0,0M193.5,129.6a4.5,4.5 0 1,0 9.0,0a4.5,4.5 0 1,0 -9.0,0M193.8,135.9a4.5,4.5 0 1,0 9.0,0a4.5,4.5 0 1,0 -9.0,0M194.1,137.2a4.5,4.5 0 1,0 9.0,0a4.5,4.5 0 1,0 -9.0,0M194.3,128.6a4.5,4.5 0 1,0 9.0,0a4.5,4.5 0 1,0 -9.0,0M194.6,122.6a4.5,4.5 0 1,0 9.0,0a4.5,4.5 0 1,0 -9.0,0M194.7,122.6a4.5,4.5 0 1,0 9.0,0a4.5,4.5 0 1,0 -9.0,0M194.9,130.7a4.5,4.5 0 1,0 9.0,0a4.5,4.5 0 1,0 -9.0,0M195.1,119.8a4.5,4.5 0 1,0 9.0,0a4.5,4.5 0 1,0 -9.0,0M195.4,136.3a4.5,4.5 0 1,0 9.0,0a4.5,4.5 0 1,0 -9.0,0M195.8,124.8a4.5,4.5 0 1,0 9.0,0a4.5,4.5 0 1,0 -9.0,0M195.8,139.5a4.5,4.5 0 1,0 9.0,0a4.5,4.5 0 1,0 -9.0,0M196.2,131.0a4.5,4.5 0 1,0 9.0,0a4.5,4.5 0 1,0 -9.0,0M196.4,124.5a4.5,4.5 0 1,0 9.0,0a4.5,4.5 0 1,0 -9.0,0M196.7,126.0a4.5,4.5 0 1,0 9.0,0a4.5,4.5 0 1,0 -9.0,0M196.8,128.5a4.5,4.5 0 1,0 9.0,0a4.5,4.5 0 1,0 -9.0,0M197.1,136.5a4.5,4.5 0 1,0 9.0,0a4.5,4.5 0 1,0 -9.0,0M197.5,122.7a4.5,4.5 0 1,0 9.0,0a4.5,4.5 0 1,0 -9.0,0M197.6,127.6a4.5,4.5 0 1,0 9.0,0a4.5,4.5 0 1,0 -9.0,0M197.9,123.4a4.5,4.5 0 1,0 9.0,0a4.5,4.5 0 1,0 -9.0,0M198.2,117.8a4.5,4.5 0 1,0 9.0,0a4.5,4.5 0 1,0 -9.0,0M198.4,137.8a4.5,4.5 0 1,0 9.0,0a4.5,4.5 0 1,0 -9.0,0M198.7,129.2a4.5,4.5 0 1,0 9.0,0a4.5,4.5 0 1,0 -9.0,0M199.0,124.6a4.5,4.5 0 1,0 9.0,0a4.5,4.5 0 1,0 -9.0,0M199.2,116.9a4.5,4.5 0 1,0 9.0,0a4.5,4.5 0 1,0 -9.0,0M199.3,134.5a4.5,4.5 0 1,0 9.0,0a4.5,4.5 0 1,0 -9.0,0M199.7,121.0a4.5,4.5 0 1,0 9.0,0a4.5,4.5 0 1,0 -9.0,0M199.9,123.7a4.5,4.5 0 1,0 9.0,0a4.5,4.5 0 1,0 -9.0,0M200.1,131.9a4.5,4.5 0 1,0 9.0,0a4.5,4.5 0 1,0 -9.0,0M200.2,137.1a4.5,4.5 0 1,0 9.0,0a4.5,4.5 0 1,0 -9.0,0M200.7,126.6a4.5,4.5 0 1,0 9.0,0a4.5,4.5 0 1,0 -9.0,0M201.0,136.8a4.5,4.5 0 1,0 9.0,0a4.5,4.5 0 1,0 -9.0,0M201.1,123.7a4.5,4.5 0 1,0 9.0,0a4.5,4.5 0 1,0 -9.0,0M201.2,121.6a4.5,4.5 0 1,0 9.0,0a4.5,4.5 0 1,0 -9.0,0M201.5,132.5a4.5,4.5 0 1,0 9.0,0a4.5,4.5 0 1,0 -9.0,0M201.8,134.6a4.5,4.5 0 1,0 9.0,0a4.5,4.5 0 1,0 -9.0,0M202.1,129.8a4.5,4.5 0 1,0 9.0,0a4.5,4.5 0 1,0 -9.0,0M202.2,124.5a4.5,4.5 0 1,0 9.0,0a4.5,4.5 0 1,0 -9.0,0M202.6,127.3a4.5,4.5 0 1,0 9.0,0a4.5,4.5 0 1,0 -9.0,0M202.8,126.9a4.5,4.5 0 1,0 9.0,0a4.5,4.5 0 1,0 -9.0,0M203.0,123.7a4.5,4.5 0 1,0 9.0,0a4.5,4.5 0 1,0 -9.0,0M203.3,130.7a4.5,4.5 0 1,0 9.0,0a4.5,4.5 0 1,0 -9.0,0M203.6,129.6a4.5,4.5 0 1,0 9.0,0a4.5,4.5 0 1,0 -9.0,0M203.8,136.2a4.5,4.5 0 1,0 9.0,0a4.5,4.5 0 1,0 -9.0,0M203.9,131.6a4.5,4.5 0 1,0 9.0,0a4.5,4.5 0 1,0 -9.0,0M204.2,124.8a4.5,4.5 0 1,0 9.0,0a4.5,4.5 0 1,0 -9.0,0M204.4,117.6a4.5,4.5 0 1,0 9.0,0a4.5,4.5 0 1,0 -9.0,0M204.8,116.0a4.5,4.5 0 1,0 9.0,0a4.5,4.5 0 1,0 -9.0,0M205.0,126.7a4.5,4.5 0 1,0 9.0,0a4.5,4.5 0 1,0 -9.0,0M205.3,127.9a4.5,4.5 0 1,0 9.0,0a4.5,4.5 0 1,0 -9.0,0M205.5,120.9a4.5,4.5 0 1,0 9.0,0a4.5,4.5 0 1,0 -9.0,0M205.7,134.9a4.5,4.5 0 1,0 9.0,0a4.5,4.5 0 1,0 -9.0,0M206.1,126.3a4.5,4.5 0 1,0 9.0,0a4.5,4.5 0 1,0 -9.0,0M206.3,121.5a4.5,4.5 0 1,0 9.0,0a4.5,4.5 0 1,0 -9.0,0M206.4,119.8a4.5,4.5 0 1,0 9.0,0a4.5,4.5 0 1,0 -9.0,0M206.7,125.4a4.5,4.5 0 1,0 9.0,0a4.5,4.5 0 1,0 -9.0,0M206.9,127.0a4.5,4.5 0 1,0 9.0,0a4.5,4.5 0 1,0 -9.0,0M207.2,125.7a4.5,4.5 0 1,0 9.0,0a4.5,4.5 0 1,0 -9.0,0M207.6,129.7a4.5,4.5 0 1,0 9.0,0a4.5,4.5 0 1,0 -9.0,0M207.7,130.4a4.5,4.5 0 1,0 9.0,0a4.5,4.5 0 1,0 -9.0,0M208.0,118.7a4.5,4.5 0 1,0 9.0,0a4.5,4.5 0 1,0 -9.0,0M208.1,116.8a4.5,4.5 0 1,0 9.0,0a4.5,4.5 0 1,0 -9.0,0M208.4,126.1a4.5,4.5 0 1,0 9.0,0a4.5,4.5 0 1,0 -9.0,0M208.8,128.9a4.5,4.5 0 1,0 9.0,0a4.5,4.5 0 1,0 -9.0,0M209.0,126.6a4.5,4.5 0 1,0 9.0,0a4.5,4.5 0 1,0 -9.0,0M209.3,126.0a4.5,4.5 0 1,0 9.0,0a4.5,4.5 0 1,0 -9.0,0M209.5,115.6a4.5,4.5 0 1,0 9.0,0a4.5,4.5 0 1,0 -9.0,0M209.7,129.3a4.5,4.5 0 1,0 9.0,0a4.5,4.5 0 1,0 -9.0,0M209.9,130.8a4.5,4.5 0 1,0 9.0,0a4.5,4.5 0 1,0 -9.0,0M210.1,129.9a4.5,4.5 0 1,0 9.0,0a4.5,4.5 0 1,0 -9.0,0M210.4,126.8a4.5,4.5 0 1,0 9.0,0a4.5,4.5 0 1,0 -9.0,0M210.7,116.0a4.5,4.5 0 1,0 9.0,0a4.5,4.5 0 1,0 -9.0,0M211.0,125.9a4.5,4.5 0 1,0 9.0,0a4.5,4.5 0 1,0 -9.0,0M211.1,135.6a4.5,4.5 0 1,0 9.0,0a4.5,4.5 0 1,0 -9.0,0M211.5,121.4a4.5,4.5 0 1,0 9.0,0a4.5,4.5 0 1,0 -9.0,0M211.7,126.0a4.5,4.5 0 1,0 9.0,0a4.5,4.5 0 1,0 -9.0,0M212.0,129.8a4.5,4.5 0 1,0 9.0,0a4.5,4.5 0 1,0 -9.0,0M212.0,126.5a4.5,4.5 0 1,0 9.0,0a4.5,4.5 0 1,0 -9.0,0M212.4,131.9a4.5,4.5 0 1,0 9.0,0a4.5,4.5 0 1,0 -9.0,0M212.7,126.6a4.5,4.5 0 1,0 9.0,0a4.5,4.5 0 1,0 -9.0,0M213.0,120.6a4.5,4.5 0 1,0 9.0,0a4.5,4.5 0 1,0 -9.0,0M213.1,127.8a4.5,4.5 0 1,0 9.0,0a4.5,4.5 0 1,0 -9.0,0M213.4,123.2a4.5,4.5 0 1,0 9.0,0a4.5,4.5 0 1,0 -9.0,0M213.7,117.1a4.5,4.5 0 1,0 9.0,0a4.5,4.5 0 1,0 -9.0,0M213.8,132.6a4.5,4.5 0 1,0 9.0,0a4.5,4.5 0 1,0 -9.0,0M214.2,117.6a4.5,4.5 0 1,0 9.0,0a4.5,4.5 0 1,0 -9.0,0M214.3,125.4a4.5,4.5 0 1,0 9.0,0a4.5,4.5 0 1,0 -9.0,0M214.5,117.8a4.5,4.5 0 1,0 9.0,0a4.5,4.5 0 1,0 -9.0,0M214.8,124.8a4.5,4.5 0 1,0 9.0,0a4.5,4.5 0 1,0 -9.0,0M215.2,124.8a4.5,4.5 0 1,0 9.0,0a4.5,4.5 0 1,0 -9.0,0M215.2,130.1a4.5,4.5 0 1,0 9.0,0a4.5,4.5 0 1,0 -9.0,0M215.7,127.4a4.5,4.5 0 1,0 9.0,0a4.5,4.5 0 1,0 -9.0,0M215.8,127.9a4.5,4.5 0 1,0 9.0,0a4.5,4.5 0 1,0 -9.0,0M215.9,128.1a4.5,4.5 0 1,0 9.0,0a4.5,4.5 0 1,0 -9.0,0M216.3,119.6a4.5,4.5 0 1,0 9.0,0a4.5,4.5 0 1,0 -9.0,0M216.6,118.7a4.5,4.5 0 1,0 9.0,0a4.5,4.5 0 1,0 -9.0,0M216.7,121.2a4.5,4.5 0 1,0 9.0,0a4.5,4.5 0 1,0 -9.0,0M217.1,123.2a4.5,4.5 0 1,0 9.0,0a4.5,4.5 0 1,0 -9.0,0M217.4,128.8a4.5,4.5 0 1,0 9.0,0a4.5,4.5 0 1,0 -9.0,0M217.6,125.2a4.5,4.5 0 1,0 9.0,0a4.5,4.5 0 1,0 -9.0,0M217.9,129.9a4.5,4.5 0 1,0 9.0,0a4.5,4.5 0 1,0 -9.0,0M217.9,125.7a4.5,4.5 0 1,0 9.0,0a4.5,4.5 0 1,0 -9.0,0M218.2,140.1a4.5,4.5 0 1,0 9.0,0a4.5,4.5 0 1,0 -9.0,0M218.6,129.7a4.5,4.5 0 1,0 9.0,0a4.5,4.5 0 1,0 -9.0,0M218.8,131.3a4.5,4.5 0 1,0 9.0,0a4.5,4.5 0 1,0 -9.0,0M218.9,118.0a4.5,4.5 0 1,0 9.0,0a4.5,4.5 0 1,0 -9.0,0M219.1,136.4a4.5,4.5 0 1,0 9.0,0a4.5,4.5 0 1,0 -9.0,0M219.4,133.6a4.5,4.5 0 1,0 9.0,0a4.5,4.5 0 1,0 -9.0,0M219.7,125.5a4.5,4.5 0 1,0 9.0,0a4.5,4.5 0 1,0 -9.0,0M219.9,127.5a4.5,4.5 0 1,0 9.0,0a4.5,4.5 0 1,0 -9.0,0M220.2,125.4a4.5,4.5 0 1,0 9.0,0a4.5,4.5 0 1,0 -9.0,0M220.4,120.2a4.5,4.5 0 1,0 9.0,0a4.5,4.5 0 1,0 -9.0,0M220.8,126.5a4.5,4.5 0 1,0 9.0,0a4.5,4.5 0 1,0 -9.0,0M221.0,133.9a4.5,4.5 0 1,0 9.0,0a4.5,4.5 0 1,0 -9.0,0M221.2,128.2a4.5,4.5 0 1,0 9.0,0a4.5,4.5 0 1,0 -9.0,0M221.5,120.6a4.5,4.5 0 1,0 9.0,0a4.5,4.5 0 1,0 -9.0,0M221.7,135.8a4.5,4.5 0 1,0 9.0,0a4.5,4.5 0 1,0 -9.0,0M221.9,128.8a4.5,4.5 0 1,0 9.0,0a4.5,4.5 0 1,0 -9.0,0M222.3,124.5a4.5,4.5 0 1,0 9.0,0a4.5,4.5 0 1,0 -9.0,0M222.4,131.5a4.5,4.5 0 1,0 9.0,0a4.5,4.5 0 1,0 -9.0,0M222.7,126.8a4.5,4.5 0 1,0 9.0,0a4.5,4.5 0 1,0 -9.0,0M223.0,134.9a4.5,4.5 0 1,0 9.0,0a4.5,4.5 0 1,0 -9.0,0M223.2,127.0a4.5,4.5 0 1,0 9.0,0a4.5,4.5 0 1,0 -9.0,0M223.5,130.1a4.5,4.5 0 1,0 9.0,0a4.5,4.5 0 1,0 -9.0,0M223.6,134.3a4.5,4.5 0 1,0 9.0,0a4.5,4.5 0 1,0 -9.0,0M224.0,125.7a4.5,4.5 0 1,0 9.0,0a4.5,4.5 0 1,0 -9.0,0M224.1,129.2a4.5,4.5 0 1,0 9.0,0a4.5,4.5 0 1,0 -9.0,0M224.4,137.4a4.5,4.5 0 1,0 9.0,0a4.5,4.5 0 1,0 -9.0,0M224.5,124.9a4.5,4.5 0 1,0 9.0,0a4.5,4.5 0 1,0 -9.0,0M225.0,124.6a4.5,4.5 0 1,0 9.0,0a4.5,4.5 0 1,0 -9.0,0M225.2,129.1a4.5,4.5 0 1,0 9.0,0a4.5,4.5 0 1,0 -9.0,0M225.3,117.2a4.5,4.5 0 1,0 9.0,0a4.5,4.5 0 1,0 -9.0,0M225.6,115.2a4.5,4.5 0 1,0 9.0,0a4.5,4.5 0 1,0 -9.0,0M225.8,135.9a4.5,4.5 0 1,0 9.0,0a4.5,4.5 0 1,0 -9.0,0M226.2,131.5a4.5,4.5 0 1,0 9.0,0a4.5,4.5 0 1,0 -9.0,0M226.3,127.5a4.5,4.5 0 1,0 9.0,0a4.5,4.5 0 1,0 -9.0,0M226.7,120.0a4.5,4.5 0 1,0 9.0,0a4.5,4.5 0 1,0 -9.0,0M226.9,126.7a4.5,4.5 0 1,0 9.0,0a4.5,4.5 0 1,0 -9.0,0M227.0,118.4a4.5,4.5 0 1,0 9.0,0a4.5,4.5 0 1,0 -9.0,0M227.4,128.9a4.5,4.5 0 1,0 9.0,0a4.5,4.5 0 1,0 -9.0,0M227.6,122.9a4.5,4.5 0 1,0 9.0,0a4.5,4.5 0 1,0 -9.0,0M227.8,121.6a4.5,4.5 0 1,0 9.0,0a4.5,4.5 0 1,0 -9.0,0M228.0,132.5a4.5,4.5 0 1,0 9.0,0a4.5,4.5 0 1,0 -9.0,0M228.4,118.2a4.5,4.5 0 1,0 9.0,0a4.5,4.5 0 1,0 -9.0,0M228.5,115.6a4.5,4.5 0 1,0 9.0,0a4.5,4.5 0 1,0 -9.0,0M228.8,131.3a4.5,4.5 0 1,0 9.0,0a4.5,4.5 0 1,0 -9.0,0M229.0,130.2a4.5,4.5 0 1,0 9.0,0a4.5,4.5 0 1,0 -9.0,0M229.2,128.9a4.5,4.5 0 1,0 9.0,0a4.5,4.5 0 1,0 -9.0,0M229.6,132.3a4.5,4.5 0 1,0 9.0,0a4.5,4.5 0 1,0 -9.0,0M229.9,129.1a4.5,4.5 0 1,0 9.0,0a4.5,4.5 0 1,0 -9.0,0M230.0,130.2a4.5,4.5 0 1,0 9.0,0a4.5,4.5 0 1,0 -9.0,0M230.2,122.7a4.5,4.5 0 1,0 9.0,0a4.5,4.5 0 1,0 -9.0,0M230.5,126.2a4.5,4.5 0 1,0 9.0,0a4.5,4.5 0 1,0 -9.0,0M230.7,138.0a4.5,4.5 0 1,0 9.0,0a4.5,4.5 0 1,0 -9.0,0M230.9,125.0a4.5,4.5 0 1,0 9.0,0a4.5,4.5 0 1,0 -9.0,0M231.4,132.3a4.5,4.5 0 1,0 9.0,0a4.5,4.5 0 1,0 -9.0,0M231.6,130.9a4.5,4.5 0 1,0 9.0,0a4.5,4.5 0 1,0 -9.0,0M231.8,126.0a4.5,4.5 0 1,0 9.0,0a4.5,4.5 0 1,0 -9.0,0M231.9,119.4a4.5,4.5 0 1,0 9.0,0a4.5,4.5 0 1,0 -9.0,0M232.3,130.5a4.5,4.5 0 1,0 9.0,0a4.5,4.5 0 1,0 -9.0,0M232.5,129.8a4.5,4.5 0 1,0 9.0,0a4.5,4.5 0 1,0 -9.0,0M232.6,116.8a4.5,4.5 0 1,0 9.0,0a4.5,4.5 0 1,0 -9.0,0M233.0,134.1a4.5,4.5 0 1,0 9.0,0a4.5,4.5 0 1,0 -9.0,0M233.2,121.5a4.5,4.5 0 1,0 9.0,0a4.5,4.5 0 1,0 -9.0,0M233.4,121.0a4.5,4.5 0 1,0 9.0,0a4.5,4.5 0 1,0 -9.0,0M233.7,117.3a4.5,4.5 0 1,0 9.0,0a4.5,4.5 0 1,0 -9.0,0M234.1,133.3a4.5,4.5 0 1,0 9.0,0a4.5,4.5 0 1,0 -9.0,0M234.2,116.4a4.5,4.5 0 1,0 9.0,0a4.5,4.5 0 1,0 -9.0,0M234.4,121.6a4.5,4.5 0 1,0 9.0,0a4.5,4.5 0 1,0 -9.0,0M234.6,124.3a4.5,4.5 0 1,0 9.0,0a4.5,4.5 0 1,0 -9.0,0M235.0,122.6a4.5,4.5 0 1,0 9.0,0a4.5,4.5 0 1,0 -9.0,0M235.2,113.8a4.5,4.5 0 1,0 9.0,0a4.5,4.5 0 1,0 -9.0,0M235.5,121.0a4.5,4.5 0 1,0 9.0,0a4.5,4.5 0 1,0 -9.0,0M235.7,128.5a4.5,4.5 0 1,0 9.0,0a4.5,4.5 0 1,0 -9.0,0M235.8,116.1a4.5,4.5 0 1,0 9.0,0a4.5,4.5 0 1,0 -9.0,0M236.2,132.7a4.5,4.5 0 1,0 9.0,0a4.5,4.5 0 1,0 -9.0,0M236.5,126.8a4.5,4.5 0 1,0 9.0,0a4.5,4.5 0 1,0 -9.0,0M236.7,134.1a4.5,4.5 0 1,0 9.0,0a4.5,4.5 0 1,0 -9.0,0M236.9,118.0a4.5,4.5 0 1,0 9.0,0a4.5,4.5 0 1,0 -9.0,0M237.3,132.5a4.5,4.5 0 1,0 9.0,0a4.5,4.5 0 1,0 -9.0,0M237.3,119.9a4.5,4.5 0 1,0 9.0,0a4.5,4.5 0 1,0 -9.0,0M237.6,116.8a4.5,4.5 0 1,0 9.0,0a4.5,4.5 0 1,0 -9.0,0M237.9,128.7a4.5,4.5 0 1,0 9.0,0a4.5,4.5 0 1,0 -9.0,0M238.1,126.5a4.5,4.5 0 1,0 9.0,0a4.5,4.5 0 1,0 -9.0,0M238.3,130.1a4.5,4.5 0 1,0 9.0,0a4.5,4.5 0 1,0 -9.0,0M238.6,134.2a4.5,4.5 0 1,0 9.0,0a4.5,4.5 0 1,0 -9.0,0M238.9,132.2a4.5,4.5 0 1,0 9.0,0a4.5,4.5 0 1,0 -9.0,0M239.2,116.8a4.5,4.5 0 1,0 9.0,0a4.5,4.5 0 1,0 -9.0,0M239.4,126.0a4.5,4.5 0 1,0 9.0,0a4.5,4.5 0 1,0 -9.0,0M239.6,135.9a4.5,4.5 0 1,0 9.0,0a4.5,4.5 0 1,0 -9.0,0M239.8,124.0a4.5,4.5 0 1,0 9.0,0a4.5,4.5 0 1,0 -9.0,0M240.2,120.4a4.5,4.5 0 1,0 9.0,0a4.5,4.5 0 1,0 -9.0,0M240.3,133.3a4.5,4.5 0 1,0 9.0,0a4.5,4.5 0 1,0 -9.0,0M240.5,126.2a4.5,4.5 0 1,0 9.0,0a4.5,4.5 0 1,0 -9.0,0M240.8,125.9a4.5,4.5 0 1,0 9.0,0a4.5,4.5 0 1,0 -9.0,0M241.1,127.5a4.5,4.5 0 1,0 9.0,0a4.5,4.5 0 1,0 -9.0,0M241.3,124.7a4.5,4.5 0 1,0 9.0,0a4.5,4.5 0 1,0 -9.0,0M241.5,120.6a4.5,4.5 0 1,0 9.0,0a4.5,4.5 0 1,0 -9.0,0M241.7,125.9a4.5,4.5 0 1,0 9.0,0a4.5,4.5 0 1,0 -9.0,0M242.1,129.2a4.5,4.5 0 1,0 9.0,0a4.5,4.5 0 1,0 -9.0,0M242.3,139.1a4.5,4.5 0 1,0 9.0,0a4.5,4.5 0 1,0 -9.0,0M242.5,135.1a4.5,4.5 0 1,0 9.0,0a4.5,4.5 0 1,0 -9.0,0M242.9,135.6a4.5,4.5 0 1,0 9.0,0a4.5,4.5 0 1,0 -9.0,0M243.1,118.0a4.5,4.5 0 1,0 9.0,0a4.5,4.5 0 1,0 -9.0,0M243.2,128.5a4.5,4.5 0 1,0 9.0,0a4.5,4.5 0 1,0 -9.0,0M243.6,120.8a4.5,4.5 0 1,0 9.0,0a4.5,4.5 0 1,0 -9.0,0M243.9,134.8a4.5,4.5 0 1,0 9.0,0a4.5,4.5 0 1,0 -9.0,0M244.1,121.1a4.5,4.5 0 1,0 9.0,0a4.5,4.5 0 1,0 -9.0,0M244.3,128.0a4.5,4.5 0 1,0 9.0,0a4.5,4.5 0 1,0 -9.0,0M244.4,130.1a4.5,4.5 0 1,0 9.0,0a4.5,4.5 0 1,0 -9.0,0M244.8,121.1a4.5,4.5 0 1,0 9.0,0a4.5,4.5 0 1,0 -9.0,0M244.9,123.0a4.5,4.5 0 1,0 9.0,0a4.5,4.5 0 1,0 -9.0,0M245.2,130.6a4.5,4.5 0 1,0 9.0,0a4.5,4.5 0 1,0 -9.0,0M245.4,138.0a4.5,4.5 0 1,0 9.0,0a4.5,4.5 0 1,0 -9.0,0M245.7,127.0a4.5,4.5 0 1,0 9.0,0a4.5,4.5 0 1,0 -9.0,0M245.9,124.2a4.5,4.5 0 1,0 9.0,0a4.5,4.5 0 1,0 -9.0,0M246.2,134.4a4.5,4.5 0 1,0 9.0,0a4.5,4.5 0 1,0 -9.0,0M246.5,123.2a4.5,4.5 0 1,0 9.0,0a4.5,4.5 0 1,0 -9.0,0M246.8,121.2a4.5,4.5 0 1,0 9.0,0a4.5,4.5 0 1,0 -9.0,0M247.1,139.1a4.5,4.5 0 1,0 9.0,0a4.5,4.5 0 1,0 -9.0,0M247.3,131.4a4.5,4.5 0 1,0 9.0,0a4.5,4.5 0 1,0 -9.0,0M247.5,135.2a4.5,4.5 0 1,0 9.0,0a4.5,4.5 0 1,0 -9.0,0M247.7,137.0a4.5,4.5 0 1,0 9.0,0a4.5,4.5 0 1,0 -9.0,0M247.8,128.0a4.5,4.5 0 1,0 9.0,0a4.5,4.5 0 1,0 -9.0,0M248.2,126.8a4.5,4.5 0 1,0 9.0,0a4.5,4.5 0 1,0 -9.0,0M248.4,130.0a4.5,4.5 0 1,0 9.0,0a4.5,4.5 0 1,0 -9.0,0M248.6,127.9a4.5,4.5 0 1,0 9.0,0a4.5,4.5 0 1,0 -9.0,0M248.8,120.4a4.5,4.5 0 1,0 9.0,0a4.5,4.5 0 1,0 -9.0,0M249.3,127.9a4.5,4.5 0 1,0 9.0,0a4.5,4.5 0 1,0 -9.0,0M249.5,122.7a4.5,4.5 0 1,0 9.0,0a4.5,4.5 0 1,0 -9.0,0M249.7,128.8a4.5,4.5 0 1,0 9.0,0a4.5,4.5 0 1,0 -9.0,0M250.0,116.6a4.5,4.5 0 1,0 9.0,0a4.5,4.5 0 1,0 -9.0,0M250.2,129.3a4.5,4.5 0 1,0 9.0,0a4.5,4.5 0 1,0 -9.0,0M250.5,122.9a4.5,4.5 0 1,0 9.0,0a4.5,4.5 0 1,0 -9.0,0M250.7,126.4a4.5,4.5 0 1,0 9.0,0a4.5,4.5 0 1,0 -9.0,0M251.0,119.3a4.5,4.5 0 1,0 9.0,0a4.5,4.5 0 1,0 -9.0,0M251.2,126.3a4.5,4.5 0 1,0 9.0,0a4.5,4.5 0 1,0 -9.0,0M251.3,131.9a4.5,4.5 0 1,0 9.0,0a4.5,4.5 0 1,0 -9.0,0M251.6,134.1a4.5,4.5 0 1,0 9.0,0a4.5,4.5 0 1,0 -9.0,0M251.8,129.6a4.5,4.5 0 1,0 9.0,0a4.5,4.5 0 1,0 -9.0,0M252.1,118.1a4.5,4.5 0 1,0 9.0,0a4.5,4.5 0 1,0 -9.0,0M252.5,126.9a4.5,4.5 0 1,0 9.0,0a4.5,4.5 0 1,0 -9.0,0M252.5,131.0a4.5,4.5 0 1,0 9.0,0a4.5,4.5 0 1,0 -9.0,0M252.9,120.2a4.5,4.5 0 1,0 9.0,0a4.5,4.5 0 1,0 -9.0,0M253.1,130.5a4.5,4.5 0 1,0 9.0,0a4.5,4.5 0 1,0 -9.0,0M253.3,121.1a4.5,4.5 0 1,0 9.0,0a4.5,4.5 0 1,0 -9.0,0M253.7,135.7a4.5,4.5 0 1,0 9.0,0a4.5,4.5 0 1,0 -9.0,0M253.9,131.3a4.5,4.5 0 1,0 9.0,0a4.5,4.5 0 1,0 -9.0,0M254.0,118.6a4.5,4.5 0 1,0 9.0,0a4.5,4.5 0 1,0 -9.0,0M254.4,120.1a4.5,4.5 0 1,0 9.0,0a4.5,4.5 0 1,0 -9.0,0M254.5,135.1a4.5,4.5 0 1,0 9.0,0a4.5,4.5 0 1,0 -9.0,0M254.8,125.8a4.5,4.5 0 1,0 9.0,0a4.5,4.5 0 1,0 -9.0,0M255.2,137.7a4.5,4.5 0 1,0 9.0,0a4.5,4.5 0 1,0 -9.0,0M255.3,129.2a4.5,4.5 0 1,0 9.0,0a4.5,4.5 0 1,0 -9.0,0M255.5,131.1a4.5,4.5 0 1,0 9.0,0a4.5,4.5 0 1,0 -9.0,0M255.8,121.7a4.5,4.5 0 1,0 9.0,0a4.5,4.5 0 1,0 -9.0,0M256.1,127.4a4.5,4.5 0 1,0 9.0,0a4.5,4.5 0 1,0 -9.0,0M256.3,122.0a4.5,4.5 0 1,0 9.0,0a4.5,4.5 0 1,0 -9.0,0M256.5,114.4a4.5,4.5 0 1,0 9.0,0a4.5,4.5 0 1,0 -9.0,0M256.7,122.4a4.5,4.5 0 1,0 9.0,0a4.5,4.5 0 1,0 -9.0,0M257.1,120.0a4.5,4.5 0 1,0 9.0,0a4.5,4.5 0 1,0 -9.0,0M257.2,131.5a4.5,4.5 0 1,0 9.0,0a4.5,4.5 0 1,0 -9.0,0M257.5,136.9a4.5,4.5 0 1,0 9.0,0a4.5,4.5 0 1,0 -9.0,0M257.8,125.2a4.5,4.5 0 1,0 9.0,0a4.5,4.5 0 1,0 -9.0,0M258.0,124.4a4.5,4.5 0 1,0 9.0,0a4.5,4.5 0 1,0 -9.0,0M258.3,132.2a4.5,4.5 0 1,0 9.0,0a4.5,4.5 0 1,0 -9.0,0M258.5,127.2a4.5,4.5 0 1,0 9.0,0a4.5,4.5 0 1,0 -9.0,0M258.8,124.8a4.5,4.5 0 1,0 9.0,0a4.5,4.5 0 1,0 -9.0,0M259.1,124.7a4.5,4.5 0 1,0 9.0,0a4.5,4.5 0 1,0 -9.0,0M259.2,126.2a4.5,4.5 0 1,0 9.0,0a4.5,4.5 0 1,0 -9.0,0M259.4,132.6a4.5,4.5 0 1,0 9.0,0a4.5,4.5 0 1,0 -9.0,0M259.8,120.1a4.5,4.5 0 1,0 9.0,0a4.5,4.5 0 1,0 -9.0,0M260.1,116.5a4.5,4.5 0 1,0 9.0,0a4.5,4.5 0 1,0 -9.0,0M260.2,119.5a4.5,4.5 0 1,0 9.0,0a4.5,4.5 0 1,0 -9.0,0M260.5,120.2a4.5,4.5 0 1,0 9.0,0a4.5,4.5 0 1,0 -9.0,0M260.7,124.8a4.5,4.5 0 1,0 9.0,0a4.5,4.5 0 1,0 -9.0,0M261.0,122.4a4.5,4.5 0 1,0 9.0,0a4.5,4.5 0 1,0 -9.0,0M261.2,127.1a4.5,4.5 0 1,0 9.0,0a4.5,4.5 0 1,0 -9.0,0M261.4,123.6a4.5,4.5 0 1,0 9.0,0a4.5,4.5 0 1,0 -9.0,0M261.6,129.2a4.5,4.5 0 1,0 9.0,0a4.5,4.5 0 1,0 -9.0,0M262.0,118.0a4.5,4.5 0 1,0 9.0,0a4.5,4.5 0 1,0 -9.0,0M262.3,136.4a4.5,4.5 0 1,0 9.0,0a4.5,4.5 0 1,0 -9.0,0M262.4,126.5a4.5,4.5 0 1,0 9.0,0a4.5,4.5 0 1,0 -9.0,0M262.7,132.7a4.5,4.5 0 1,0 9.0,0a4.5,4.5 0 1,0 -9.0,0M262.9,117.7a4.5,4.5 0 1,0 9.0,0a4.5,4.5 0 1,0 -9.0,0M263.3,131.0a4.5,4.5 0 1,0 9.0,0a4.5,4.5 0 1,0 -9.0,0M263.3,125.0a4.5,4.5 0 1,0 9.0,0a4.5,4.5 0 1,0 -9.0,0M263.6,126.0a4.5,4.5 0 1,0 9.0,0a4.5,4.5 0 1,0 -9.0,0M264.0,119.7a4.5,4.5 0 1,0 9.0,0a4.5,4.5 0 1,0 -9.0,0M264.1,133.7a4.5,4.5 0 1,0 9.0,0a4.5,4.5 0 1,0 -9.0,0M264.4,127.4a4.5,4.5 0 1,0 9.0,0a4.5,4.5 0 1,0 -9.0,0M264.7,134.7a4.5,4.5 0 1,0 9.0,0a4.5,4.5 0 1,0 -9.0,0M264.9,125.8a4.5,4.5 0 1,0 9.0,0a4.5,4.5 0 1,0 -9.0,0M265.0,123.8a4.5,4.5 0 1,0 9.0,0a4.5,4.5 0 1,0 -9.0,0M265.3,123.0a4.5,4.5 0 1,0 9.0,0a4.5,4.5 0 1,0 -9.0,0M265.5,137.4a4.5,4.5 0 1,0 9.0,0a4.5,4.5 0 1,0 -9.0,0M265.8,127.1a4.5,4.5 0 1,0 9.0,0a4.5,4.5 0 1,0 -9.0,0M266.2,138.8a4.5,4.5 0 1,0 9.0,0a4.5,4.5 0 1,0 -9.0,0M266.3,134.2a4.5,4.5 0 1,0 9.0,0a4.5,4.5 0 1,0 -9.0,0M266.5,125.8a4.5,4.5 0 1,0 9.0,0a4.5,4.5 0 1,0 -9.0,0M266.9,121.7a4.5,4.5 0 1,0 9.0,0a4.5,4.5 0 1,0 -9.0,0M267.0,138.3a4.5,4.5 0 1,0 9.0,0a4.5,4.5 0 1,0 -9.0,0M267.4,130.5a4.5,4.5 0 1,0 9.0,0a4.5,4.5 0 1,0 -9.0,0M267.7,126.4a4.5,4.5 0 1,0 9.0,0a4.5,4.5 0 1,0 -9.0,0M267.9,123.9a4.5,4.5 0 1,0 9.0,0a4.5,4.5 0 1,0 -9.0,0M268.1,130.8a4.5,4.5 0 1,0 9.0,0a4.5,4.5 0 1,0 -9.0,0M268.3,137.6a4.5,4.5 0 1,0 9.0,0a4.5,4.5 0 1,0 -9.0,0M268.4,124.3a4.5,4.5 0 1,0 9.0,0a4.5,4.5 0 1,0 -9.0,0M268.7,119.3a4.5,4.5 0 1,0 9.0,0a4.5,4.5 0 1,0 -9.0,0M268.9,116.3a4.5,4.5 0 1,0 9.0,0a4.5,4.5 0 1,0 -9.0,0M269.3,126.3a4.5,4.5 0 1,0 9.0,0a4.5,4.5 0 1,0 -9.0,0M269.6,122.6a4.5,4.5 0 1,0 9.0,0a4.5,4.5 0 1,0 -9.0,0M269.8,133.0a4.5,4.5 0 1,0 9.0,0a4.5,4.5 0 1,0 -9.0,0M270.1,129.3a4.5,4.5 0 1,0 9.0,0a4.5,4.5 0 1,0 -9.0,0M270.3,125.1a4.5,4.5 0 1,0 9.0,0a4.5,4.5 0 1,0 -9.0,0M270.6,123.3a4.5,4.5 0 1,0 9.0,0a4.5,4.5 0 1,0 -9.0,0M270.7,120.7a4.5,4.5 0 1,0 9.0,0a4.5,4.5 0 1,0 -9.0,0M271.0,119.0a4.5,4.5 0 1,0 9.0,0a4.5,4.5 0 1,0 -9.0,0M271.2,130.6a4.5,4.5 0 1,0 9.0,0a4.5,4.5 0 1,0 -9.0,0M271.6,121.5a4.5,4.5 0 1,0 9.0,0a4.5,4.5 0 1,0 -9.0,0M271.6,124.4a4.5,4.5 0 1,0 9.0,0a4.5,4.5 0 1,0 -9.0,0M272.1,123.0a4.5,4.5 0 1,0 9.0,0a4.5,4.5 0 1,0 -9.0,0M272.2,114.2a4.5,4.5 0 1,0 9.0,0a4.5,4.5 0 1,0 -9.0,0M272.5,139.9a4.5,4.5 0 1,0 9.0,0a4.5,4.5 0 1,0 -9.0,0M272.8,124.9a4.5,4.5 0 1,0 9.0,0a4.5,4.5 0 1,0 -9.0,0M272.9,113.6a4.5,4.5 0 1,0 9.0,0a4.5,4.5 0 1,0 -9.0,0M273.2,133.2a4.5,4.5 0 1,0 9.0,0a4.5,4.5 0 1,0 -9.0,0M273.5,114.8a4.5,4.5 0 1,0 9.0,0a4.5,4.5 0 1,0 -9.0,0M273.8,117.9a4.5,4.5 0 1,0 9.0,0a4.5,4.5 0 1,0 -9.0,0M273.9,132.3a4.5,4.5 0 1,0 9.0,0a4.5,4.5 0 1,0 -9.0,0M274.2,126.9a4.5,4.5 0 1,0 9.0,0a4.5,4.5 0 1,0 -9.0,0M274.5,132.7a4.5,4.5 0 1,0 9.0,0a4.5,4.5 0 1,0 -9.0,0M274.6,133.2a4.5,4.5 0 1,0 9.0,0a4.5,4.5 0 1,0 -9.0,0M275.0,115.7a4.5,4.5 0 1,0 9.0,0a4.5,4.5 0 1,0 -9.0,0M275.2,124.8a4.5,4.5 0 1,0 9.0,0a4.5,4.5 0 1,0 -9.0,0M275.5,140.3a4.5,4.5 0 1,0 9.0,0a4.5,4.5 0 1,0 -9.0,0M275.7,132.3a4.5,4.5 0 1,0 9.0,0a4.5,4.5 0 1,0 -9.0,0M275.8,123.5a4.5,4.5 0 1,0 9.0,0a4.5,4.5 0 1,0 -9.0,0M276.2,128.2a4.5,4.5 0 1,0 9.0,0a4.5,4.5 0 1,0 -9.0,0M276.5,122.3a4.5,4.5 0 1,0 9.0,0a4.5,4.5 0 1,0 -9.0,0M276.8,127.8a4.5,4.5 0 1,0 9.0,0a4.5,4.5 0 1,0 -9.0,0M276.9,136.3a4.5,4.5 0 1,0 9.0,0a4.5,4.5 0 1,0 -9.0,0M277.1,128.2a4.5,4.5 0 1,0 9.0,0a4.5,4.5 0 1,0 -9.0,0M277.5,132.0a4.5,4.5 0 1,0 9.0,0a4.5,4.5 0 1,0 -9.0,0M277.7,123.9a4.5,4.5 0 1,0 9.0,0a4.5,4.5 0 1,0 -9.0,0M278.0,127.6a4.5,4.5 0 1,0 9.0,0a4.5,4.5 0 1,0 -9.0,0M278.2,127.8a4.5,4.5 0 1,0 9.0,0a4.5,4.5 0 1,0 -9.0,0M278.5,136.0a4.5,4.5 0 1,0 9.0,0a4.5,4.5 0 1,0 -9.0,0M278.7,118.9a4.5,4.5 0 1,0 9.0,0a4.5,4.5 0 1,0 -9.0,0M278.9,125.7a4.5,4.5 0 1,0 9.0,0a4.5,4.5 0 1,0 -9.0,0M279.0,128.4a4.5,4.5 0 1,0 9.0,0a4.5,4.5 0 1,0 -9.0,0M279.4,130.9a4.5,4.5 0 1,0 9.0,0a4.5,4.5 0 1,0 -9.0,0M279.6,120.3a4.5,4.5 0 1,0 9.0,0a4.5,4.5 0 1,0 -9.0,0M279.9,124.0a4.5,4.5 0 1,0 9.0,0a4.5,4.5 0 1,0 -9.0,0M280.0,133.4a4.5,4.5 0 1,0 9.0,0a4.5,4.5 0 1,0 -9.0,0M280.3,134.6a4.5,4.5 0 1,0 9.0,0a4.5,4.5 0 1,0 -9.0,0M280.7,132.9a4.5,4.5 0 1,0 9.0,0a4.5,4.5 0 1,0 -9.0,0M280.7,121.5a4.5,4.5 0 1,0 9.0,0a4.5,4.5 0 1,0 -9.0,0M281.1,123.1a4.5,4.5 0 1,0 9.0,0a4.5,4.5 0 1,0 -9.0,0M281.2,131.3a4.5,4.5 0 1,0 9.0,0a4.5,4.5 0 1,0 -9.0,0M281.7,117.8a4.5,4.5 0 1,0 9.0,0a4.5,4.5 0 1,0 -9.0,0M281.8,127.6a4.5,4.5 0 1,0 9.0,0a4.5,4.5 0 1,0 -9.0,0M282.1,134.4a4.5,4.5 0 1,0 9.0,0a4.5,4.5 0 1,0 -9.0,0M282.4,134.3a4.5,4.5 0 1,0 9.0,0a4.5,4.5 0 1,0 -9.0,0M282.5,131.4a4.5,4.5 0 1,0 9.0,0a4.5,4.5 0 1,0 -9.0,0M282.7,127.9a4.5,4.5 0 1,0 9.0,0a4.5,4.5 0 1,0 -9.0,0M282.9,135.3a4.5,4.5 0 1,0 9.0,0a4.5,4.5 0 1,0 -9.0,0M283.4,129.6a4.5,4.5 0 1,0 9.0,0a4.5,4.5 0 1,0 -9.0,0M283.5,121.8a4.5,4.5 0 1,0 9.0,0a4.5,4.5 0 1,0 -9.0,0M283.7,121.1a4.5,4.5 0 1,0 9.0,0a4.5,4.5 0 1,0 -9.0,0M283.9,122.7a4.5,4.5 0 1,0 9.0,0a4.5,4.5 0 1,0 -9.0,0M284.4,126.4a4.5,4.5 0 1,0 9.0,0a4.5,4.5 0 1,0 -9.0,0M284.5,135.8a4.5,4.5 0 1,0 9.0,0a4.5,4.5 0 1,0 -9.0,0M284.9,123.4a4.5,4.5 0 1,0 9.0,0a4.5,4.5 0 1,0 -9.0,0M285.0,120.7a4.5,4.5 0 1,0 9.0,0a4.5,4.5 0 1,0 -9.0,0M285.2,122.2a4.5,4.5 0 1,0 9.0,0a4.5,4.5 0 1,0 -9.0,0M285.4,132.0a4.5,4.5 0 1,0 9.0,0a4.5,4.5 0 1,0 -9.0,0M285.7,128.1a4.5,4.5 0 1,0 9.0,0a4.5,4.5 0 1,0 -9.0,0M286.1,137.8a4.5,4.5 0 1,0 9.0,0a4.5,4.5 0 1,0 -9.0,0M286.1,119.3a4.5,4.5 0 1,0 9.0,0a4.5,4.5 0 1,0 -9.0,0M286.5,124.3a4.5,4.5 0 1,0 9.0,0a4.5,4.5 0 1,0 -9.0,0M286.8,117.0a4.5,4.5 0 1,0 9.0,0a4.5,4.5 0 1,0 -9.0,0M286.9,134.0a4.5,4.5 0 1,0 9.0,0a4.5,4.5 0 1,0 -9.0,0M287.3,136.1a4.5,4.5 0 1,0 9.0,0a4.5,4.5 0 1,0 -9.0,0M287.5,124.0a4.5,4.5 0 1,0 9.0,0a4.5,4.5 0 1,0 -9.0,0M287.8,135.7a4.5,4.5 0 1,0 9.0,0a4.5,4.5 0 1,0 -9.0,0M287.8,124.4a4.5,4.5 0 1,0 9.0,0a4.5,4.5 0 1,0 -9.0,0M288.1,131.6a4.5,4.5 0 1,0 9.0,0a4.5,4.5 0 1,0 -9.0,0M288.4,129.3a4.5,4.5 0 1,0 9.0,0a4.5,4.5 0 1,0 -9.0,0M288.6,131.3a4.5,4.5 0 1,0 9.0,0a4.5,4.5 0 1,0 -9.0,0M289.0,137.9a4.5,4.5 0 1,0 9.0,0a4.5,4.5 0 1,0 -9.0,0M289.1,127.7a4.5,4.5 0 1,0 9.0,0a4.5,4.5 0 1,0 -9.0,0M289.3,131.2a4.5,4.5 0 1,0 9.0,0a4.5,4.5 0 1,0 -9.0,0M289.8,124.6a4.5,4.5 0 1,0 9.0,0a4.5,4.5 0 1,0 -9.0,0M290.0,129.7a4.5,4.5 0 1,0 9.0,0a4.5,4.5 0 1,0 -9.0,0M290.1,124.3a4.5,4.5 0 1,0 9.0,0a4.5,4.5 0 1,0 -9.0,0M290.3,138.9a4.5,4.5 0 1,0 9.0,0a4.5,4.5 0 1,0 -9.0,0M290.7,121.0a4.5,4.5 0 1,0 9.0,0a4.5,4.5 0 1,0 -9.0,0M290.9,119.8a4.5,4.5 0 1,0 9.0,0a4.5,4.5 0 1,0 -9.0,0M291.1,137.8a4.5,4.5 0 1,0 9.0,0a4.5,4.5 0 1,0 -9.0,0M291.4,129.9a4.5,4.5 0 1,0 9.0,0a4.5,4.5 0 1,0 -9.0,0M291.5,130.7a4.5,4.5 0 1,0 9.0,0a4.5,4.5 0 1,0 -9.0,0M291.9,123.1a4.5,4.5 0 1,0 9.0,0a4.5,4.5 0 1,0 -9.0,0M292.2,125.5a4.5,4.5 0 1,0 9.0,0a4.5,4.5 0 1,0 -9.0,0M292.3,123.3a4.5,4.5 0 1,0 9.0,0a4.5,4.5 0 1,0 -9.0,0M292.6,128.9a4.5,4.5 0 1,0 9.0,0a4.5,4.5 0 1,0 -9.0,0M292.9,124.7a4.5,4.5 0 1,0 9.0,0a4.5,4.5 0 1,0 -9.0,0M293.1,130.5a4.5,4.5 0 1,0 9.0,0a4.5,4.5 0 1,0 -9.0,0M293.3,129.6a4.5,4.5 0 1,0 9.0,0a4.5,4.5 0 1,0 -9.0,0M293.7,124.8a4.5,4.5 0 1,0 9.0,0a4.5,4.5 0 1,0 -9.0,0M293.7,135.0a4.5,4.5 0 1,0 9.0,0a4.5,4.5 0 1,0 -9.0,0M294.0,120.4a4.5,4.5 0 1,0 9.0,0a4.5,4.5 0 1,0 -9.0,0M294.3,125.6a4.5,4.5 0 1,0 9.0,0a4.5,4.5 0 1,0 -9.0,0M294.5,132.1a4.5,4.5 0 1,0 9.0,0a4.5,4.5 0 1,0 -9.0,0M294.8,125.4a4.5,4.5 0 1,0 9.0,0a4.5,4.5 0 1,0 -9.0,0M295.2,131.5a4.5,4.5 0 1,0 9.0,0a4.5,4.5 0 1,0 -9.0,0M295.4,130.1a4.5,4.5 0 1,0 9.0,0a4.5,4.5 0 1,0 -9.0,0M295.4,125.9a4.5,4.5 0 1,0 9.0,0a4.5,4.5 0 1,0 -9.0,0M295.9,121.0a4.5,4.5 0 1,0 9.0,0a4.5,4.5 0 1,0 -9.0,0M295.9,129.0a4.5,4.5 0 1,0 9.0,0a4.5,4.5 0 1,0 -9.0,0M296.2,120.8a4.5,4.5 0 1,0 9.0,0a4.5,4.5 0 1,0 -9.0,0M296.4,131.0a4.5,4.5 0 1,0 9.0,0a4.5,4.5 0 1,0 -9.0,0M296.7,119.4a4.5,4.5 0 1,0 9.0,0a4.5,4.5 0 1,0 -9.0,0M297.0,131.0a4.5,4.5 0 1,0 9.0,0a4.5,4.5 0 1,0 -9.0,0M297.3,124.2a4.5,4.5 0 1,0 9.0,0a4.5,4.5 0 1,0 -9.0,0M297.4,131.9a4.5,4.5 0 1,0 9.0,0a4.5,4.5 0 1,0 -9.0,0M297.8,137.7a4.5,4.5 0 1,0 9.0,0a4.5,4.5 0 1,0 -9.0,0M297.9,129.4a4.5,4.5 0 1,0 9.0,0a4.5,4.5 0 1,0 -9.0,0M298.3,128.2a4.5,4.5 0 1,0 9.0,0a4.5,4.5 0 1,0 -9.0,0M298.5,126.1a4.5,4.5 0 1,0 9.0,0a4.5,4.5 0 1,0 -9.0,0M298.8,131.5a4.5,4.5 0 1,0 9.0,0a4.5,4.5 0 1,0 -9.0,0M299.0,130.3a4.5,4.5 0 1,0 9.0,0a4.5,4.5 0 1,0 -9.0,0M299.2,118.2a4.5,4.5 0 1,0 9.0,0a4.5,4.5 0 1,0 -9.0,0M299.4,126.0a4.5,4.5 0 1,0 9.0,0a4.5,4.5 0 1,0 -9.0,0M299.8,119.7a4.5,4.5 0 1,0 9.0,0a4.5,4.5 0 1,0 -9.0,0M299.9,129.2a4.5,4.5 0 1,0 9.0,0a4.5,4.5 0 1,0 -9.0,0M300.3,120.9a4.5,4.5 0 1,0 9.0,0a4.5,4.5 0 1,0 -9.0,0M300.5,125.6a4.5,4.5 0 1,0 9.0,0a4.5,4.5 0 1,0 -9.0,0M300.8,126.9a4.5,4.5 0 1,0 9.0,0a4.5,4.5 0 1,0 -9.0,0M300.9,130.6a4.5,4.5 0 1,0 9.0,0a4.5,4.5 0 1,0 -9.0,0M301.1,122.8a4.5,4.5 0 1,0 9.0,0a4.5,4.5 0 1,0 -9.0,0M301.5,124.0a4.5,4.5 0 1,0 9.0,0a4.5,4.5 0 1,0 -9.0,0M301.7,129.9a4.5,4.5 0 1,0 9.0,0a4.5,4.5 0 1,0 -9.0,0M302.0,135.3a4.5,4.5 0 1,0 9.0,0a4.5,4.5 0 1,0 -9.0,0M302.2,127.0a4.5,4.5 0 1,0 9.0,0a4.5,4.5 0 1,0 -9.0,0M302.4,134.8a4.5,4.5 0 1,0 9.0,0a4.5,4.5 0 1,0 -9.0,0M302.7,134.4a4.5,4.5 0 1,0 9.0,0a4.5,4.5 0 1,0 -9.0,0M303.0,122.0a4.5,4.5 0 1,0 9.0,0a4.5,4.5 0 1,0 -9.0,0M303.1,136.8a4.5,4.5 0 1,0 9.0,0a4.5,4.5 0 1,0 -9.0,0M303.5,140.0a4.5,4.5 0 1,0 9.0,0a4.5,4.5 0 1,0 -9.0,0M303.8,132.1a4.5,4.5 0 1,0 9.0,0a4.5,4.5 0 1,0 -9.0,0M303.9,118.2a4.5,4.5 0 1,0 9.0,0a4.5,4.5 0 1,0 -9.0,0M304.1,126.1a4.5,4.5 0 1,0 9.0,0a4.5,4.5 0 1,0 -9.0,0M304.3,131.7a4.5,4.5 0 1,0 9.0,0a4.5,4.5 0 1,0 -9.0,0M304.6,125.8a4.5,4.5 0 1,0 9.0,0a4.5,4.5 0 1,0 -9.0,0M304.8,126.8a4.5,4.5 0 1,0 9.0,0a4.5,4.5 0 1,0 -9.0,0M305.0,139.7a4.5,4.5 0 1,0 9.0,0a4.5,4.5 0 1,0 -9.0,0M305.3,125.3a4.5,4.5 0 1,0 9.0,0a4.5,4.5 0 1,0 -9.0,0M305.5,122.4a4.5,4.5 0 1,0 9.0,0a4.5,4.5 0 1,0 -9.0,0M305.9,119.2a4.5,4.5 0 1,0 9.0,0a4.5,4.5 0 1,0 -9.0,0M306.2,122.9a4.5,4.5 0 1,0 9.0,0a4.5,4.5 0 1,0 -9.0,0M306.2,134.4a4.5,4.5 0 1,0 9.0,0a4.5,4.5 0 1,0 -9.0,0M306.5,118.7a4.5,4.5 0 1,0 9.0,0a4.5,4.5 0 1,0 -9.0,0M306.7,118.6a4.5,4.5 0 1,0 9.0,0a4.5,4.5 0 1,0 -9.0,0M307.0,127.1a4.5,4.5 0 1,0 9.0,0a4.5,4.5 0 1,0 -9.0,0M307.2,123.6a4.5,4.5 0 1,0 9.0,0a4.5,4.5 0 1,0 -9.0,0M307.6,128.9a4.5,4.5 0 1,0 9.0,0a4.5,4.5 0 1,0 -9.0,0M307.9,132.3a4.5,4.5 0 1,0 9.0,0a4.5,4.5 0 1,0 -9.0,0M308.1,134.1a4.5,4.5 0 1,0 9.0,0a4.5,4.5 0 1,0 -9.0,0M308.2,134.4a4.5,4.5 0 1,0 9.0,0a4.5,4.5 0 1,0 -9.0,0M308.5,115.0a4.5,4.5 0 1,0 9.0,0a4.5,4.5 0 1,0 -9.0,0M308.8,133.2a4.5,4.5 0 1,0 9.0,0a4.5,4.5 0 1,0 -9.0,0M309.0,138.1a4.5,4.5 0 1,0 9.0,0a4.5,4.5 0 1,0 -9.0,0M309.3,122.4a4.5,4.5 0 1,0 9.0,0a4.5,4.5 0 1,0 -9.0,0M309.5,123.0a4.5,4.5 0 1,0 9.0,0a4.5,4.5 0 1,0 -9.0,0M309.9,133.2a4.5,4.5 0 1,0 9.0,0a4.5,4.5 0 1,0 -9.0,0M310.1,137.8a4.5,4.5 0 1,0 9.0,0a4.5,4.5 0 1,0 -9.0,0M310.4,120.1a4.5,4.5 0 1,0 9.0,0a4.5,4.5 0 1,0 -9.0,0M310.4,124.9a4.5,4.5 0 1,0 9.0,0a4.5,4.5 0 1,0 -9.0,0M310.9,126.8a4.5,4.5 0 1,0 9.0,0a4.5,4.5 0 1,0 -9.0,0M311.0,134.1a4.5,4.5 0 1,0 9.0,0a4.5,4.5 0 1,0 -9.0,0M311.2,124.2a4.5,4.5 0 1,0 9.0,0a4.5,4.5 0 1,0 -9.0,0M311.5,126.3a4.5,4.5 0 1,0 9.0,0a4.5,4.5 0 1,0 -9.0,0M311.7,130.6a4.5,4.5 0 1,0 9.0,0a4.5,4.5 0 1,0 -9.0,0M312.1,127.3a4.5,4.5 0 1,0 9.0,0a4.5,4.5 0 1,0 -9.0,0M312.3,135.9a4.5,4.5 0 1,0 9.0,0a4.5,4.5 0 1,0 -9.0,0M312.6,123.0a4.5,4.5 0 1,0 9.0,0a4.5,4.5 0 1,0 -9.0,0M312.8,128.2a4.5,4.5 0 1,0 9.0,0a4.5,4.5 0 1,0 -9.0,0M313.0,125.6a4.5,4.5 0 1,0 9.0,0a4.5,4.5 0 1,0 -9.0,0M313.2,124.4a4.5,4.5 0 1,0 9.0,0a4.5,4.5 0 1,0 -9.0,0M313.5,121.8a4.5,4.5 0 1,0 9.0,0a4.5,4.5 0 1,0 -9.0,0M313.8,123.0a4.5,4.5 0 1,0 9.0,0a4.5,4.5 0 1,0 -9.0,0M314.0,123.1a4.5,4.5 0 1,0 9.0,0a4.5,4.5 0 1,0 -9.0,0M314.2,132.3a4.5,4.5 0 1,0 9.0,0a4.5,4.5 0 1,0 -9.0,0M314.4,125.0a4.5,4.5 0 1,0 9.0,0a4.5,4.5 0 1,0 -9.0,0M314.7,133.6a4.5,4.5 0 1,0 9.0,0a4.5,4.5 0 1,0 -9.0,0M315.0,133.3a4.5,4.5 0 1,0 9.0,0a4.5,4.5 0 1,0 -9.0,0M315.2,125.9a4.5,4.5 0 1,0 9.0,0a4.5,4.5 0 1,0 -9.0,0M315.4,134.6a4.5,4.5 0 1,0 9.0,0a4.5,4.5 0 1,0 -9.0,0M315.6,129.4a4.5,4.5 0 1,0 9.0,0a4.5,4.5 0 1,0 -9.0,0M315.9,129.4a4.5,4.5 0 1,0 9.0,0a4.5,4.5 0 1,0 -9.0,0M316.1,125.6a4.5,4.5 0 1,0 9.0,0a4.5,4.5 0 1,0 -9.0,0M316.3,131.9a4.5,4.5 0 1,0 9.0,0a4.5,4.5 0 1,0 -9.0,0M316.7,131.9a4.5,4.5 0 1,0 9.0,0a4.5,4.5 0 1,0 -9.0,0M316.9,118.7a4.5,4.5 0 1,0 9.0,0a4.5,4.5 0 1,0 -9.0,0M317.2,130.1a4.5,4.5 0 1,0 9.0,0a4.5,4.5 0 1,0 -9.0,0M317.4,137.3a4.5,4.5 0 1,0 9.0,0a4.5,4.5 0 1,0 -9.0,0M317.6,120.8a4.5,4.5 0 1,0 9.0,0a4.5,4.5 0 1,0 -9.0,0M317.8,121.7a4.5,4.5 0 1,0 9.0,0a4.5,4.5 0 1,0 -9.0,0M318.1,128.3a4.5,4.5 0 1,0 9.0,0a4.5,4.5 0 1,0 -9.0,0M318.3,135.1a4.5,4.5 0 1,0 9.0,0a4.5,4.5 0 1,0 -9.0,0M318.6,133.3a4.5,4.5 0 1,0 9.0,0a4.5,4.5 0 1,0 -9.0,0M318.9,127.3a4.5,4.5 0 1,0 9.0,0a4.5,4.5 0 1,0 -9.0,0M319.0,119.2a4.5,4.5 0 1,0 9.0,0a4.5,4.5 0 1,0 -9.0,0M319.3,124.0a4.5,4.5 0 1,0 9.0,0a4.5,4.5 0 1,0 -9.0,0M319.7,123.4a4.5,4.5 0 1,0 9.0,0a4.5,4.5 0 1,0 -9.0,0M319.8,138.4a4.5,4.5 0 1,0 9.0,0a4.5,4.5 0 1,0 -9.0,0M320.0,132.0a4.5,4.5 0 1,0 9.0,0a4.5,4.5 0 1,0 -9.0,0M320.2,121.3a4.5,4.5 0 1,0 9.0,0a4.5,4.5 0 1,0 -9.0,0M320.6,116.2a4.5,4.5 0 1,0 9.0,0a4.5,4.5 0 1,0 -9.0,0M320.7,131.0a4.5,4.5 0 1,0 9.0,0a4.5,4.5 0 1,0 -9.0,0M321.0,137.9a4.5,4.5 0 1,0 9.0,0a4.5,4.5 0 1,0 -9.0,0M321.2,123.9a4.5,4.5 0 1,0 9.0,0a4.5,4.5 0 1,0 -9.0,0M321.5,120.5a4.5,4.5 0 1,0 9.0,0a4.5,4.5 0 1,0 -9.0,0M321.8,135.2a4.5,4.5 0 1,0 9.0,0a4.5,4.5 0 1,0 -9.0,0M322.1,130.5a4.5,4.5 0 1,0 9.0,0a4.5,4.5 0 1,0 -9.0,0M322.4,119.2a4.5,4.5 0 1,0 9.0,0a4.5,4.5 0 1,0 -9.0,0M322.6,127.3a4.5,4.5 0 1,0 9.0,0a4.5,4.5 0 1,0 -9.0,0M322.9,118.9a4.5,4.5 0 1,0 9.0,0a4.5,4.5 0 1,0 -9.0,0M323.1,129.9a4.5,4.5 0 1,0 9.0,0a4.5,4.5 0 1,0 -9.0,0M323.4,124.9a4.5,4.5 0 1,0 9.0,0a4.5,4.5 0 1,0 -9.0,0M323.4,127.7a4.5,4.5 0 1,0 9.0,0a4.5,4.5 0 1,0 -9.0,0M323.8,117.6a4.5,4.5 0 1,0 9.0,0a4.5,4.5 0 1,0 -9.0,0M324.1,120.2a4.5,4.5 0 1,0 9.0,0a4.5,4.5 0 1,0 -9.0,0M324.3,123.6a4.5,4.5 0 1,0 9.0,0a4.5,4.5 0 1,0 -9.0,0M324.6,121.5a4.5,4.5 0 1,0 9.0,0a4.5,4.5 0 1,0 -9.0,0M324.7,122.5a4.5,4.5 0 1,0 9.0,0a4.5,4.5 0 1,0 -9.0,0M325.0,125.8a4.5,4.5 0 1,0 9.0,0a4.5,4.5 0 1,0 -9.0,0M325.2,121.1a4.5,4.5 0 1,0 9.0,0a4.5,4.5 0 1,0 -9.0,0M325.5,122.2a4.5,4.5 0 1,0 9.0,0a4.5,4.5 0 1,0 -9.0,0M325.8,130.9a4.5,4.5 0 1,0 9.0,0a4.5,4.5 0 1,0 -9.0,0M326.1,119.2a4.5,4.5 0 1,0 9.0,0a4.5,4.5 0 1,0 -9.0,0M326.1,126.8a4.5,4.5 0 1,0 9.0,0a4.5,4.5 0 1,0 -9.0,0M326.4,132.4a4.5,4.5 0 1,0 9.0,0a4.5,4.5 0 1,0 -9.0,0M326.7,134.0a4.5,4.5 0 1,0 9.0,0a4.5,4.5 0 1,0 -9.0,0M326.9,132.2a4.5,4.5 0 1,0 9.0,0a4.5,4.5 0 1,0 -9.0,0M327.3,123.8a4.5,4.5 0 1,0 9.0,0a4.5,4.5 0 1,0 -9.0,0M327.5,131.4a4.5,4.5 0 1,0 9.0,0a4.5,4.5 0 1,0 -9.0,0M327.7,125.6a4.5,4.5 0 1,0 9.0,0a4.5,4.5 0 1,0 -9.0,0M328.0,129.0a4.5,4.5 0 1,0 9.0,0a4.5,4.5 0 1,0 -9.0,0M328.2,126.9a4.5,4.5 0 1,0 9.0,0a4.5,4.5 0 1,0 -9.0,0M328.4,137.4a4.5,4.5 0 1,0 9.0,0a4.5,4.5 0 1,0 -9.0,0M328.7,121.0a4.5,4.5 0 1,0 9.0,0a4.5,4.5 0 1,0 -9.0,0M329.0,118.4a4.5,4.5 0 1,0 9.0,0a4.5,4.5 0 1,0 -9.0,0M329.2,125.9a4.5,4.5 0 1,0 9.0,0a4.5,4.5 0 1,0 -9.0,0M329.4,120.9a4.5,4.5 0 1,0 9.0,0a4.5,4.5 0 1,0 -9.0,0M329.6,134.1a4.5,4.5 0 1,0 9.0,0a4.5,4.5 0 1,0 -9.0,0M330.0,123.0a4.5,4.5 0 1,0 9.0,0a4.5,4.5 0 1,0 -9.0,0M330.0,119.2a4.5,4.5 0 1,0 9.0,0a4.5,4.5 0 1,0 -9.0,0M330.4,119.5a4.5,4.5 0 1,0 9.0,0a4.5,4.5 0 1,0 -9.0,0M330.7,132.0a4.5,4.5 0 1,0 9.0,0a4.5,4.5 0 1,0 -9.0,0M331.0,134.7a4.5,4.5 0 1,0 9.0,0a4.5,4.5 0 1,0 -9.0,0M331.1,125.0a4.5,4.5 0 1,0 9.0,0a4.5,4.5 0 1,0 -9.0,0M331.4,133.2a4.5,4.5 0 1,0 9.0,0a4.5,4.5 0 1,0 -9.0,0M331.6,126.6a4.5,4.5 0 1,0 9.0,0a4.5,4.5 0 1,0 -9.0,0M331.9,129.7a4.5,4.5 0 1,0 9.0,0a4.5,4.5 0 1,0 -9.0,0M332.2,132.2a4.5,4.5 0 1,0 9.0,0a4.5,4.5 0 1,0 -9.0,0M332.4,123.4a4.5,4.5 0 1,0 9.0,0a4.5,4.5 0 1,0 -9.0,0M332.7,126.5a4.5,4.5 0 1,0 9.0,0a4.5,4.5 0 1,0 -9.0,0M332.9,135.9a4.5,4.5 0 1,0 9.0,0a4.5,4.5 0 1,0 -9.0,0M333.2,123.2a4.5,4.5 0 1,0 9.0,0a4.5,4.5 0 1,0 -9.0,0M333.3,128.7a4.5,4.5 0 1,0 9.0,0a4.5,4.5 0 1,0 -9.0,0M333.6,122.3a4.5,4.5 0 1,0 9.0,0a4.5,4.5 0 1,0 -9.0,0M333.7,126.7a4.5,4.5 0 1,0 9.0,0a4.5,4.5 0 1,0 -9.0,0M334.1,121.6a4.5,4.5 0 1,0 9.0,0a4.5,4.5 0 1,0 -9.0,0M334.4,122.9a4.5,4.5 0 1,0 9.0,0a4.5,4.5 0 1,0 -9.0,0M334.6,133.8a4.5,4.5 0 1,0 9.0,0a4.5,4.5 0 1,0 -9.0,0M334.9,128.7a4.5,4.5 0 1,0 9.0,0a4.5,4.5 0 1,0 -9.0,0M335.0,126.6a4.5,4.5 0 1,0 9.0,0a4.5,4.5 0 1,0 -9.0,0M335.3,126.2a4.5,4.5 0 1,0 9.0,0a4.5,4.5 0 1,0 -9.0,0M335.6,117.9a4.5,4.5 0 1,0 9.0,0a4.5,4.5 0 1,0 -9.0,0M335.7,121.4a4.5,4.5 0 1,0 9.0,0a4.5,4.5 0 1,0 -9.0,0M336.0,121.6a4.5,4.5 0 1,0 9.0,0a4.5,4.5 0 1,0 -9.0,0M336.3,125.0a4.5,4.5 0 1,0 9.0,0a4.5,4.5 0 1,0 -9.0,0M336.5,135.9a4.5,4.5 0 1,0 9.0,0a4.5,4.5 0 1,0 -9.0,0M336.7,126.6a4.5,4.5 0 1,0 9.0,0a4.5,4.5 0 1,0 -9.0,0M336.9,133.3a4.5,4.5 0 1,0 9.0,0a4.5,4.5 0 1,0 -9.0,0M337.2,136.6a4.5,4.5 0 1,0 9.0,0a4.5,4.5 0 1,0 -9.0,0M337.4,130.9a4.5,4.5 0 1,0 9.0,0a4.5,4.5 0 1,0 -9.0,0M337.8,134.3a4.5,4.5 0 1,0 9.0,0a4.5,4.5 0 1,0 -9.0,0M338.0,127.7a4.5,4.5 0 1,0 9.0,0a4.5,4.5 0 1,0 -9.0,0M338.1,124.4a4.5,4.5 0 1,0 9.0,0a4.5,4.5 0 1,0 -9.0,0M338.6,121.9a4.5,4.5 0 1,0 9.0,0a4.5,4.5 0 1,0 -9.0,0M338.7,136.8a4.5,4.5 0 1,0 9.0,0a4.5,4.5 0 1,0 -9.0,0M338.9,126.5a4.5,4.5 0 1,0 9.0,0a4.5,4.5 0 1,0 -9.0,0M339.3,130.0a4.5,4.5 0 1,0 9.0,0a4.5,4.5 0 1,0 -9.0,0M339.5,122.3a4.5,4.5 0 1,0 9.0,0a4.5,4.5 0 1,0 -9.0,0M339.7,133.0a4.5,4.5 0 1,0 9.0,0a4.5,4.5 0 1,0 -9.0,0M339.9,134.0a4.5,4.5 0 1,0 9.0,0a4.5,4.5 0 1,0 -9.0,0M340.3,120.9a4.5,4.5 0 1,0 9.0,0a4.5,4.5 0 1,0 -9.0,0M340.4,122.9a4.5,4.5 0 1,0 9.0,0a4.5,4.5 0 1,0 -9.0,0M340.6,123.2a4.5,4.5 0 1,0 9.0,0a4.5,4.5 0 1,0 -9.0,0M341.0,130.5a4.5,4.5 0 1,0 9.0,0a4.5,4.5 0 1,0 -9.0,0M341.3,122.0a4.5,4.5 0 1,0 9.0,0a4.5,4.5 0 1,0 -9.0,0M341.5,123.7a4.5,4.5 0 1,0 9.0,0a4.5,4.5 0 1,0 -9.0,0M341.8,135.8a4.5,4.5 0 1,0 9.0,0a4.5,4.5 0 1,0 -9.0,0M341.9,131.8a4.5,4.5 0 1,0 9.0,0a4.5,4.5 0 1,0 -9.0,0M342.1,125.2a4.5,4.5 0 1,0 9.0,0a4.5,4.5 0 1,0 -9.0,0M342.5,127.9a4.5,4.5 0 1,0 9.0,0a4.5,4.5 0 1,0 -9.0,0M342.8,132.7a4.5,4.5 0 1,0 9.0,0a4.5,4.5 0 1,0 -9.0,0M342.9,128.2a4.5,4.5 0 1,0 9.0,0a4.5,4.5 0 1,0 -9.0,0M343.1,121.8a4.5,4.5 0 1,0 9.0,0a4.5,4.5 0 1,0 -9.0,0M343.4,134.0a4.5,4.5 0 1,0 9.0,0a4.5,4.5 0 1,0 -9.0,0M343.6,123.6a4.5,4.5 0 1,0 9.0,0a4.5,4.5 0 1,0 -9.0,0M343.9,125.5a4.5,4.5 0 1,0 9.0,0a4.5,4.5 0 1,0 -9.0,0M344.1,124.7a4.5,4.5 0 1,0 9.0,0a4.5,4.5 0 1,0 -9.0,0M344.3,128.3a4.5,4.5 0 1,0 9.0,0a4.5,4.5 0 1,0 -9.0,0M344.7,123.7a4.5,4.5 0 1,0 9.0,0a4.5,4.5 0 1,0 -9.0,0M344.8,131.0a4.5,4.5 0 1,0 9.0,0a4.5,4.5 0 1,0 -9.0,0M345.1,127.0a4.5,4.5 0 1,0 9.0,0a4.5,4.5 0 1,0 -9.0,0M345.4,128.7a4.5,4.5 0 1,0 9.0,0a4.5,4.5 0 1,0 -9.0,0M345.6,132.9a4.5,4.5 0 1,0 9.0,0a4.5,4.5 0 1,0 -9.0,0M345.7,135.9a4.5,4.5 0 1,0 9.0,0a4.5,4.5 0 1,0 -9.0,0M346.0,128.7a4.5,4.5 0 1,0 9.0,0a4.5,4.5 0 1,0 -9.0,0M346.3,123.6a4.5,4.5 0 1,0 9.0,0a4.5,4.5 0 1,0 -9.0,0M346.7,128.2a4.5,4.5 0 1,0 9.0,0a4.5,4.5 0 1,0 -9.0,0M346.8,122.9a4.5,4.5 0 1,0 9.0,0a4.5,4.5 0 1,0 -9.0,0M347.1,114.2a4.5,4.5 0 1,0 9.0,0a4.5,4.5 0 1,0 -9.0,0M347.3,139.1a4.5,4.5 0 1,0 9.0,0a4.5,4.5 0 1,0 -9.0,0M347.7,121.8a4.5,4.5 0 1,0 9.0,0a4.5,4.5 0 1,0 -9.0,0M347.8,126.6a4.5,4.5 0 1,0 9.0,0a4.5,4.5 0 1,0 -9.0,0M348.0,125.3a4.5,4.5 0 1,0 9.0,0a4.5,4.5 0 1,0 -9.0,0M348.4,121.6a4.5,4.5 0 1,0 9.0,0a4.5,4.5 0 1,0 -9.0,0M348.6,123.2a4.5,4.5 0 1,0 9.0,0a4.5,4.5 0 1,0 -9.0,0M348.8,130.7a4.5,4.5 0 1,0 9.0,0a4.5,4.5 0 1,0 -9.0,0M349.0,129.3a4.5,4.5 0 1,0 9.0,0a4.5,4.5 0 1,0 -9.0,0M349.3,124.2a4.5,4.5 0 1,0 9.0,0a4.5,4.5 0 1,0 -9.0,0M349.5,125.3a4.5,4.5 0 1,0 9.0,0a4.5,4.5 0 1,0 -9.0,0M349.7,138.7a4.5,4.5 0 1,0 9.0,0a4.5,4.5 0 1,0 -9.0,0M350.1,121.3a4.5,4.5 0 1,0 9.0,0a4.5,4.5 0 1,0 -9.0,0M350.2,124.3a4.5,4.5 0 1,0 9.0,0a4.5,4.5 0 1,0 -9.0,0M350.4,132.8a4.5,4.5 0 1,0 9.0,0a4.5,4.5 0 1,0 -9.0,0M350.7,139.0a4.5,4.5 0 1,0 9.0,0a4.5,4.5 0 1,0 -9.0,0M351.0,133.8a4.5,4.5 0 1,0 9.0,0a4.5,4.5 0 1,0 -9.0,0M351.2,132.5a4.5,4.5 0 1,0 9.0,0a4.5,4.5 0 1,0 -9.0,0M351.5,126.0a4.5,4.5 0 1,0 9.0,0a4.5,4.5 0 1,0 -9.0,0M351.7,129.3a4.5,4.5 0 1,0 9.0,0a4.5,4.5 0 1,0 -9.0,0M351.9,134.6a4.5,4.5 0 1,0 9.0,0a4.5,4.5 0 1,0 -9.0,0M352.2,134.7a4.5,4.5 0 1,0 9.0,0a4.5,4.5 0 1,0 -9.0,0M352.5,137.0a4.5,4.5 0 1,0 9.0,0a4.5,4.5 0 1,0 -9.0,0M352.8,120.3a4.5,4.5 0 1,0 9.0,0a4.5,4.5 0 1,0 -9.0,0M353.1,130.6a4.5,4.5 0 1,0 9.0,0a4.5,4.5 0 1,0 -9.0,0M353.1,131.0a4.5,4.5 0 1,0 9.0,0a4.5,4.5 0 1,0 -9.0,0M353.5,123.4a4.5,4.5 0 1,0 9.0,0a4.5,4.5 0 1,0 -9.0,0M353.7,121.2a4.5,4.5 0 1,0 9.0,0a4.5,4.5 0 1,0 -9.0,0M354.0,125.1a4.5,4.5 0 1,0 9.0,0a4.5,4.5 0 1,0 -9.0,0M354.3,121.8a4.5,4.5 0 1,0 9.0,0a4.5,4.5 0 1,0 -9.0,0M354.4,123.7a4.5,4.5 0 1,0 9.0,0a4.5,4.5 0 1,0 -9.0,0M354.6,123.6a4.5,4.5 0 1,0 9.0,0a4.5,4.5 0 1,0 -9.0,0M355.0,125.7a4.5,4.5 0 1,0 9.0,0a4.5,4.5 0 1,0 -9.0,0M355.1,115.8a4.5,4.5 0 1,0 9.0,0a4.5,4.5 0 1,0 -9.0,0M355.3,129.2a4.5,4.5 0 1,0 9.0,0a4.5,4.5 0 1,0 -9.0,0M355.6,130.8a4.5,4.5 0 1,0 9.0,0a4.5,4.5 0 1,0 -9.0,0M355.9,132.7a4.5,4.5 0 1,0 9.0,0a4.5,4.5 0 1,0 -9.0,0M356.2,128.3a4.5,4.5 0 1,0 9.0,0a4.5,4.5 0 1,0 -9.0,0M356.3,131.6a4.5,4.5 0 1,0 9.0,0a4.5,4.5 0 1,0 -9.0,0M356.7,119.1a4.5,4.5 0 1,0 9.0,0a4.5,4.5 0 1,0 -9.0,0M356.8,117.0a4.5,4.5 0 1,0 9.0,0a4.5,4.5 0 1,0 -9.0,0M357.1,131.0a4.5,4.5 0 1,0 9.0,0a4.5,4.5 0 1,0 -9.0,0M357.3,132.9a4.5,4.5 0 1,0 9.0,0a4.5,4.5 0 1,0 -9.0,0M357.6,116.3a4.5,4.5 0 1,0 9.0,0a4.5,4.5 0 1,0 -9.0,0M357.8,132.6a4.5,4.5 0 1,0 9.0,0a4.5,4.5 0 1,0 -9.0,0M358.0,119.2a4.5,4.5 0 1,0 9.0,0a4.5,4.5 0 1,0 -9.0,0M358.3,136.3a4.5,4.5 0 1,0 9.0,0a4.5,4.5 0 1,0 -9.0,0M358.5,134.8a4.5,4.5 0 1,0 9.0,0a4.5,4.5 0 1,0 -9.0,0M359.0,126.8a4.5,4.5 0 1,0 9.0,0a4.5,4.5 0 1,0 -9.0,0M359.1,123.8a4.5,4.5 0 1,0 9.0,0a4.5,4.5 0 1,0 -9.0,0M359.3,126.6a4.5,4.5 0 1,0 9.0,0a4.5,4.5 0 1,0 -9.0,0M359.5,113.7a4.5,4.5 0 1,0 9.0,0a4.5,4.5 0 1,0 -9.0,0M359.7,133.7a4.5,4.5 0 1,0 9.0,0a4.5,4.5 0 1,0 -9.0,0M360.2,124.4a4.5,4.5 0 1,0 9.0,0a4.5,4.5 0 1,0 -9.0,0M360.4,125.9a4.5,4.5 0 1,0 9.0,0a4.5,4.5 0 1,0 -9.0,0M360.6,113.7a4.5,4.5 0 1,0 9.0,0a4.5,4.5 0 1,0 -9.0,0M360.8,137.0a4.5,4.5 0 1,0 9.0,0a4.5,4.5 0 1,0 -9.0,0M361.0,130.4a4.5,4.5 0 1,0 9.0,0a4.5,4.5 0 1,0 -9.0,0M361.3,130.1a4.5,4.5 0 1,0 9.0,0a4.5,4.5 0 1,0 -9.0,0M361.6,125.2a4.5,4.5 0 1,0 9.0,0a4.5,4.5 0 1,0 -9.0,0M361.7,123.1a4.5,4.5 0 1,0 9.0,0a4.5,4.5 0 1,0 -9.0,0M362.0,114.7a4.5,4.5 0 1,0 9.0,0a4.5,4.5 0 1,0 -9.0,0M362.3,136.6a4.5,4.5 0 1,0 9.0,0a4.5,4.5 0 1,0 -9.0,0M362.5,124.9a4.5,4.5 0 1,0 9.0,0a4.5,4.5 0 1,0 -9.0,0M362.7,132.9a4.5,4.5 0 1,0 9.0,0a4.5,4.5 0 1,0 -9.0,0M363.0,129.2a4.5,4.5 0 1,0 9.0,0a4.5,4.5 0 1,0 -9.0,0M363.2,125.4a4.5,4.5 0 1,0 9.0,0a4.5,4.5 0 1,0 -9.0,0M363.6,130.3a4.5,4.5 0 1,0 9.0,0a4.5,4.5 0 1,0 -9.0,0M363.8,127.2a4.5,4.5 0 1,0 9.0,0a4.5,4.5 0 1,0 -9.0,0M364.0,132.0a4.5,4.5 0 1,0 9.0,0a4.5,4.5 0 1,0 -9.0,0M364.2,132.8a4.5,4.5 0 1,0 9.0,0a4.5,4.5 0 1,0 -9.0,0M364.4,124.2a4.5,4.5 0 1,0 9.0,0a4.5,4.5 0 1,0 -9.0,0M364.8,132.5a4.5,4.5 0 1,0 9.0,0a4.5,4.5 0 1,0 -9.0,0M364.9,133.8a4.5,4.5 0 1,0 9.0,0a4.5,4.5 0 1,0 -9.0,0M365.3,115.5a4.5,4.5 0 1,0 9.0,0a4.5,4.5 0 1,0 -9.0,0M365.4,123.3a4.5,4.5 0 1,0 9.0,0a4.5,4.5 0 1,0 -9.0,0M365.8,120.5a4.5,4.5 0 1,0 9.0,0a4.5,4.5 0 1,0 -9.0,0M366.0,122.3a4.5,4.5 0 1,0 9.0,0a4.5,4.5 0 1,0 -9.0,0M366.3,131.2a4.5,4.5 0 1,0 9.0,0a4.5,4.5 0 1,0 -9.0,0M366.4,130.6a4.5,4.5 0 1,0 9.0,0a4.5,4.5 0 1,0 -9.0,0M366.6,132.1a4.5,4.5 0 1,0 9.0,0a4.5,4.5 0 1,0 -9.0,0M366.9,128.9a4.5,4.5 0 1,0 9.0,0a4.5,4.5 0 1,0 -9.0,0M367.2,123.6a4.5,4.5 0 1,0 9.0,0a4.5,4.5 0 1,0 -9.0,0M367.4,127.9a4.5,4.5 0 1,0 9.0,0a4.5,4.5 0 1,0 -9.0,0M367.7,124.0a4.5,4.5 0 1,0 9.0,0a4.5,4.5 0 1,0 -9.0,0M367.8,130.0a4.5,4.5 0 1,0 9.0,0a4.5,4.5 0 1,0 -9.0,0M368.1,138.4a4.5,4.5 0 1,0 9.0,0a4.5,4.5 0 1,0 -9.0,0M368.3,126.2a4.5,4.5 0 1,0 9.0,0a4.5,4.5 0 1,0 -9.0,0M368.7,135.7a4.5,4.5 0 1,0 9.0,0a4.5,4.5 0 1,0 -9.0,0M368.8,125.7a4.5,4.5 0 1,0 9.0,0a4.5,4.5 0 1,0 -9.0,0M369.2,122.6a4.5,4.5 0 1,0 9.0,0a4.5,4.5 0 1,0 -9.0,0M369.4,128.6a4.5,4.5 0 1,0 9.0,0a4.5,4.5 0 1,0 -9.0,0M369.5,135.6a4.5,4.5 0 1,0 9.0,0a4.5,4.5 0 1,0 -9.0,0M369.9,121.9a4.5,4.5 0 1,0 9.0,0a4.5,4.5 0 1,0 -9.0,0M370.2,123.7a4.5,4.5 0 1,0 9.0,0a4.5,4.5 0 1,0 -9.0,0M370.3,122.4a4.5,4.5 0 1,0 9.0,0a4.5,4.5 0 1,0 -9.0,0M370.5,138.7a4.5,4.5 0 1,0 9.0,0a4.5,4.5 0 1,0 -9.0,0M371.0,128.9a4.5,4.5 0 1,0 9.0,0a4.5,4.5 0 1,0 -9.0,0M371.1,130.7a4.5,4.5 0 1,0 9.0,0a4.5,4.5 0 1,0 -9.0,0M371.5,136.0a4.5,4.5 0 1,0 9.0,0a4.5,4.5 0 1,0 -9.0,0M371.7,132.8a4.5,4.5 0 1,0 9.0,0a4.5,4.5 0 1,0 -9.0,0M371.9,137.5a4.5,4.5 0 1,0 9.0,0a4.5,4.5 0 1,0 -9.0,0M372.2,124.7a4.5,4.5 0 1,0 9.0,0a4.5,4.5 0 1,0 -9.0,0M372.4,130.8a4.5,4.5 0 1,0 9.0,0a4.5,4.5 0 1,0 -9.0,0M372.5,120.8a4.5,4.5 0 1,0 9.0,0a4.5,4.5 0 1,0 -9.0,0M372.8,133.3a4.5,4.5 0 1,0 9.0,0a4.5,4.5 0 1,0 -9.0,0M373.2,126.9a4.5,4.5 0 1,0 9.0,0a4.5,4.5 0 1,0 -9.0,0M373.3,128.8a4.5,4.5 0 1,0 9.0,0a4.5,4.5 0 1,0 -9.0,0M373.6,131.4a4.5,4.5 0 1,0 9.0,0a4.5,4.5 0 1,0 -9.0,0M373.9,116.9a4.5,4.5 0 1,0 9.0,0a4.5,4.5 0 1,0 -9.0,0M374.2,118.6a4.5,4.5 0 1,0 9.0,0a4.5,4.5 0 1,0 -9.0,0M374.2,127.1a4.5,4.5 0 1,0 9.0,0a4.5,4.5 0 1,0 -9.0,0M374.5,124.3a4.5,4.5 0 1,0 9.0,0a4.5,4.5 0 1,0 -9.0,0M374.8,125.4a4.5,4.5 0 1,0 9.0,0a4.5,4.5 0 1,0 -9.0,0M375.0,133.3a4.5,4.5 0 1,0 9.0,0a4.5,4.5 0 1,0 -9.0,0M375.2,134.1a4.5,4.5 0 1,0 9.0,0a4.5,4.5 0 1,0 -9.0,0M375.5,128.7a4.5,4.5 0 1,0 9.0,0a4.5,4.5 0 1,0 -9.0,0M375.8,140.2a4.5,4.5 0 1,0 9.0,0a4.5,4.5 0 1,0 -9.0,0M376.1,127.0a4.5,4.5 0 1,0 9.0,0a4.5,4.5 0 1,0 -9.0,0M376.3,121.7a4.5,4.5 0 1,0 9.0,0a4.5,4.5 0 1,0 -9.0,0M376.6,129.4a4.5,4.5 0 1,0 9.0,0a4.5,4.5 0 1,0 -9.0,0M376.8,121.2a4.5,4.5 0 1,0 9.0,0a4.5,4.5 0 1,0 -9.0,0M377.0,129.8a4.5,4.5 0 1,0 9.0,0a4.5,4.5 0 1,0 -9.0,0M377.3,133.8a4.5,4.5 0 1,0 9.0,0a4.5,4.5 0 1,0 -9.0,0M377.4,124.7a4.5,4.5 0 1,0 9.0,0a4.5,4.5 0 1,0 -9.0,0M377.8,134.1a4.5,4.5 0 1,0 9.0,0a4.5,4.5 0 1,0 -9.0,0M378.0,127.8a4.5,4.5 0 1,0 9.0,0a4.5,4.5 0 1,0 -9.0,0M378.2,129.6a4.5,4.5 0 1,0 9.0,0a4.5,4.5 0 1,0 -9.0,0M378.5,124.1a4.5,4.5 0 1,0 9.0,0a4.5,4.5 0 1,0 -9.0,0M378.8,123.9a4.5,4.5 0 1,0 9.0,0a4.5,4.5 0 1,0 -9.0,0M379.0,127.7a4.5,4.5 0 1,0 9.0,0a4.5,4.5 0 1,0 -9.0,0M379.3,124.5a4.5,4.5 0 1,0 9.0,0a4.5,4.5 0 1,0 -9.0,0M379.5,124.1a4.5,4.5 0 1,0 9.0,0a4.5,4.5 0 1,0 -9.0,0M379.8,135.5a4.5,4.5 0 1,0 9.0,0a4.5,4.5 0 1,0 -9.0,0M379.9,123.3a4.5,4.5 0 1,0 9.0,0a4.5,4.5 0 1,0 -9.0,0M380.2,122.1a4.5,4.5 0 1,0 9.0,0a4.5,4.5 0 1,0 -9.0,0M380.5,131.3a4.5,4.5 0 1,0 9.0,0a4.5,4.5 0 1,0 -9.0,0M380.7,127.6a4.5,4.5 0 1,0 9.0,0a4.5,4.5 0 1,0 -9.0,0M380.9,135.6a4.5,4.5 0 1,0 9.0,0a4.5,4.5 0 1,0 -9.0,0M381.2,132.0a4.5,4.5 0 1,0 9.0,0a4.5,4.5 0 1,0 -9.0,0M381.4,119.4a4.5,4.5 0 1,0 9.0,0a4.5,4.5 0 1,0 -9.0,0M381.7,131.1a4.5,4.5 0 1,0 9.0,0a4.5,4.5 0 1,0 -9.0,0M381.9,130.1a4.5,4.5 0 1,0 9.0,0a4.5,4.5 0 1,0 -9.0,0M382.3,129.7a4.5,4.5 0 1,0 9.0,0a4.5,4.5 0 1,0 -9.0,0M382.4,137.4a4.5,4.5 0 1,0 9.0,0a4.5,4.5 0 1,0 -9.0,0M382.6,135.8a4.5,4.5 0 1,0 9.0,0a4.5,4.5 0 1,0 -9.0,0M382.8,121.6a4.5,4.5 0 1,0 9.0,0a4.5,4.5 0 1,0 -9.0,0M383.1,125.8a4.5,4.5 0 1,0 9.0,0a4.5,4.5 0 1,0 -9.0,0M383.4,128.1a4.5,4.5 0 1,0 9.0,0a4.5,4.5 0 1,0 -9.0,0M383.5,135.8a4.5,4.5 0 1,0 9.0,0a4.5,4.5 0 1,0 -9.0,0M383.9,124.4a4.5,4.5 0 1,0 9.0,0a4.5,4.5 0 1,0 -9.0,0M384.1,125.3a4.5,4.5 0 1,0 9.0,0a4.5,4.5 0 1,0 -9.0,0M384.3,113.8a4.5,4.5 0 1,0 9.0,0a4.5,4.5 0 1,0 -9.0,0M384.6,132.0a4.5,4.5 0 1,0 9.0,0a4.5,4.5 0 1,0 -9.0,0M384.9,126.9a4.5,4.5 0 1,0 9.0,0a4.5,4.5 0 1,0 -9.0,0M385.2,123.3a4.5,4.5 0 1,0 9.0,0a4.5,4.5 0 1,0 -9.0,0M385.4,137.4a4.5,4.5 0 1,0 9.0,0a4.5,4.5 0 1,0 -9.0,0M385.6,134.7a4.5,4.5 0 1,0 9.0,0a4.5,4.5 0 1,0 -9.0,0M385.8,135.5a4.5,4.5 0 1,0 9.0,0a4.5,4.5 0 1,0 -9.0,0M386.2,124.6a4.5,4.5 0 1,0 9.0,0a4.5,4.5 0 1,0 -9.0,0M386.2,127.2a4.5,4.5 0 1,0 9.0,0a4.5,4.5 0 1,0 -9.0,0M386.5,124.4a4.5,4.5 0 1,0 9.0,0a4.5,4.5 0 1,0 -9.0,0M75.1,131.5a4.5,4.5 0 1,0 9.0,0a4.5,4.5 0 1,0 -9.0,0M75.7,128.0a4.5,4.5 0 1,0 9.0,0a4.5,4.5 0 1,0 -9.0,0M114.0,167.4a4.5,4.5 0 1,0 9.0,0a4.5,4.5 0 1,0 -9.0,0M120.5,152.6a4.5,4.5 0 1,0 9.0,0a4.5,4.5 0 1,0 -9.0,0M280.9,195.4a4.5,4.5 0 1,0 9.0,0a4.5,4.5 0 1,0 -9.0,0M320.0,201.9a4.5,4.5 0 1,0 9.0,0a4.5,4.5 0 1,0 -9.0,0M323.4,76.3a4.5,4.5 0 1,0 9.0,0a4.5,4.5 0 1,0 -9.0,0M373.1,86.0a4.5,4.5 0 1,0 9.0,0a4.5,4.5 0 1,0 -9.0,0M225.0,110.5a4.5,4.5 0 1,0 9.0,0a4.5,4.5 0 1,0 -9.0,0" fill="#000"/>
<line x1="78.00" y1="108.50" x2="393.00" y2="108.50" stroke="#000" stroke-width="3"/>
<line x1="78.00" y1="145.50" x2="393.00" y2="145.50" stroke="#000" stroke-width="3"/>
<path d="M75.23,115.00L80.23,124.00L85.23,115.00ZM74.05,117.24L79.05,126.24L84.05,117.24ZM75.96,119.47L80.96,128.47L85.96,119.47ZM74.70,121.71L79.70,130.71L84.70,121.71ZM74.99,123.95L79.99,132.95L84.99,123.95ZM76.33,126.19L81.33,135.19L86.33,126.19ZM75.41,128.43L80.41,137.43L85.41,128.43ZM76.93,130.66L81.93,139.66L86.93,130.66ZM76.05,132.90L81.05,141.90L86.05,132.90ZM171.62,120.90L176.62,129.90L181.62,120.90ZM170.69,122.33L175.69,131.32L180.69,122.33ZM171.75,123.75L176.75,132.75L181.75,123.75ZM171.61,125.18L176.61,134.18L181.61,125.18ZM169.50,126.60L174.50,135.60L179.50,126.60ZM171.24,128.03L176.24,137.03L181.24,128.03ZM170.02,129.45L175.02,138.45L180.02,129.45ZM171.29,130.88L176.29,139.88L181.29,130.88ZM171.04,132.30L176.04,141.30L181.04,132.30ZM264.31,118.10L269.31,127.10L274.31,118.10ZM262.34,120.17L267.34,129.18L272.34,120.17ZM263.04,122.25L268.04,131.25L273.04,122.25ZM264.06,124.32L269.06,133.32L274.06,124.32ZM264.65,126.40L269.65,135.40L274.65,126.40ZM264.02,128.47L269.02,137.47L274.02,128.47ZM262.12,130.55L267.12,139.55L272.12,130.55ZM263.69,132.62L268.69,141.62L273.69,132.62ZM262.28,134.70L267.28,143.70L272.28,134.70ZM357.34,119.20L362.34,128.20L367.34,119.20ZM358.05,121.49L363.05,130.49L368.05,121.49ZM356.12,123.78L361.12,132.78L366.12,123.78ZM358.39,126.06L363.39,135.06L368.39,126.06ZM357.69,128.35L362.69,137.35L367.69,128.35ZM356.51,130.64L361.51,139.64L366.51,130.64ZM356.34,132.93L361.34,141.93L366.34,132.93ZM357.05,135.21L362.05,144.21L367.05,135.21ZM358.15,137.50L363.15,146.50L368.15,137.50Z" fill="#CC0066"/>
<path d="M77.30,28.90L82.30,19.90L87.30,28.90ZM74.50,29.50L79.50,20.50L84.50,29.50ZM77.00,31.80L82.00,22.80L87.00,31.80ZM77.20,34.30L82.20,25.30L87.20,34.30ZM75.80,35.70L80.80,26.70L85.80,35.70ZM74.20,33.10L79.20,24.10L84.20,33.10ZM74.40,38.10L79.40,29.10L84.40,38.10ZM74.90,40.50L79.90,31.50L84.90,40.50ZM74.30,41.80L79.30,32.80L84.30,41.80ZM75.80,41.80L80.80,32.80L85.80,41.80ZM168.30,28.70L173.30,19.70L178.30,28.70ZM170.40,28.60L175.40,19.60L180.40,28.60ZM168.90,34.80L173.90,25.80L178.90,34.80ZM261.60,28.70L266.60,19.70L271.60,28.70ZM264.10,28.70L269.10,19.70L274.10,28.70ZM262.60,34.80L267.60,25.80L272.60,34.80ZM263.40,34.80L268.40,25.80L273.40,34.80ZM355.50,31.40L360.50,22.40L365.50,31.40ZM359.00,29.60L364.00,20.60L369.00,29.60Z" fill="#0000FF"/>
<path d="M126.30,63.80L131.30,55.20L136.30,63.80Z" fill="#0000FF"/>
<path d="M126.30,81.80L131.30,90.80L136.30,81.80Z" fill="#CC0066"/>
<text x="155.10" y="64.80" font-size="16.7" font-weight="normal" fill="#000" text-anchor="start" >Negative control</text>
<text x="155.10" y="91.90" font-size="16.7" font-weight="normal" fill="#000" text-anchor="start" >Positive control</text>
<text x="8.40" y="277.90" font-size="15.7" font-weight="bold" fill="#000" text-anchor="start" >B</text>
<line x1="75.50" y1="290.00" x2="75.50" y2="498.00" stroke="#000" stroke-width="3"/>
<line x1="74.00" y1="496.50" x2="391.00" y2="496.50" stroke="#000" stroke-width="3"/>
<line x1="68.00" y1="496.50" x2="75.50" y2="496.50" stroke="#000" stroke-width="3"/>
<text x="66.30" y="500.90" font-size="15" font-weight="bold" fill="#000" text-anchor="end" >0</text>
<line x1="68.00" y1="428.50" x2="75.50" y2="428.50" stroke="#000" stroke-width="3"/>
<text x="66.30" y="432.90" font-size="15" font-weight="bold" fill="#000" text-anchor="end" >100</text>
<line x1="68.00" y1="359.50" x2="75.50" y2="359.50" stroke="#000" stroke-width="3"/>
<text x="66.30" y="363.90" font-size="15" font-weight="bold" fill="#000" text-anchor="end" >200</text>
<line x1="68.00" y1="291.50" x2="75.50" y2="291.50" stroke="#000" stroke-width="3"/>
<text x="66.30" y="295.90" font-size="15" font-weight="bold" fill="#000" text-anchor="end" >300</text>
<line x1="75.50" y1="496.50" x2="75.50" y2="502.50" stroke="#000" stroke-width="3"/>
<text x="75.50" y="517.60" font-size="15" font-weight="bold" fill="#000" text-anchor="middle" >0</text>
<line x1="114.50" y1="496.50" x2="114.50" y2="502.50" stroke="#000" stroke-width="3"/>
<text x="114.50" y="517.60" font-size="15" font-weight="bold" fill="#000" text-anchor="middle" >200</text>
<line x1="153.50" y1="496.50" x2="153.50" y2="502.50" stroke="#000" stroke-width="3"/>
<text x="153.50" y="517.60" font-size="15" font-weight="bold" fill="#000" text-anchor="middle" >400</text>
<line x1="193.50" y1="496.50" x2="193.50" y2="502.50" stroke="#000" stroke-width="3"/>
<text x="193.50" y="517.60" font-size="15" font-weight="bold" fill="#000" text-anchor="middle" >600</text>
<line x1="232.50" y1="496.50" x2="232.50" y2="502.50" stroke="#000" stroke-width="3"/>
<text x="232.50" y="517.60" font-size="15" font-weight="bold" fill="#000" text-anchor="middle" >800</text>
<line x1="271.50" y1="496.50" x2="271.50" y2="502.50" stroke="#000" stroke-width="3"/>
<text x="271.50" y="517.60" font-size="15" font-weight="bold" fill="#000" text-anchor="middle" >1000</text>
<line x1="311.50" y1="496.50" x2="311.50" y2="502.50" stroke="#000" stroke-width="3"/>
<text x="311.50" y="517.60" font-size="15" font-weight="bold" fill="#000" text-anchor="middle" >1200</text>
<line x1="350.50" y1="496.50" x2="350.50" y2="502.50" stroke="#000" stroke-width="3"/>
<text x="350.50" y="517.60" font-size="15" font-weight="bold" fill="#000" text-anchor="middle" >1400</text>
<line x1="389.50" y1="496.50" x2="389.50" y2="502.50" stroke="#000" stroke-width="3"/>
<text x="389.50" y="517.60" font-size="15" font-weight="bold" fill="#000" text-anchor="middle" >1600</text>
<text x="233.00" y="540.50" font-size="16.9" font-weight="bold" fill="#000" text-anchor="middle" >Compounds</text>
<text x="31.50" y="394.10" font-size="16" font-weight="bold" fill="#000" text-anchor="middle" transform="rotate(-90 31.5 394.1)">mP</text>
<path d="M73.2,364.7a4.5,4.5 0 1,0 9.0,0a4.5,4.5 0 1,0 -9.0,0M73.4,357.6a4.5,4.5 0 1,0 9.0,0a4.5,4.5 0 1,0 -9.0,0M73.5,367.2a4.5,4.5 0 1,0 9.0,0a4.5,4.5 0 1,0 -9.0,0M73.7,372.7a4.5,4.5 0 1,0 9.0,0a4.5,4.5 0 1,0 -9.0,0M74.0,370.0a4.5,4.5 0 1,0 9.0,0a4.5,4.5 0 1,0 -9.0,0M74.1,367.6a4.5,4.5 0 1,0 9.0,0a4.5,4.5 0 1,0 -9.0,0M74.4,366.4a4.5,4.5 0 1,0 9.0,0a4.5,4.5 0 1,0 -9.0,0M74.5,363.1a4.5,4.5 0 1,0 9.0,0a4.5,4.5 0 1,0 -9.0,0M74.7,373.3a4.5,4.5 0 1,0 9.0,0a4.5,4.5 0 1,0 -9.0,0M75.0,363.6a4.5,4.5 0 1,0 9.0,0a4.5,4.5 0 1,0 -9.0,0M75.1,375.0a4.5,4.5 0 1,0 9.0,0a4.5,4.5 0 1,0 -9.0,0M75.3,372.3a4.5,4.5 0 1,0 9.0,0a4.5,4.5 0 1,0 -9.0,0M75.6,367.6a4.5,4.5 0 1,0 9.0,0a4.5,4.5 0 1,0 -9.0,0M75.6,368.3a4.5,4.5 0 1,0 9.0,0a4.5,4.5 0 1,0 -9.0,0M75.9,360.4a4.5,4.5 0 1,0 9.0,0a4.5,4.5 0 1,0 -9.0,0M76.1,371.2a4.5,4.5 0 1,0 9.0,0a4.5,4.5 0 1,0 -9.0,0M76.3,378.6a4.5,4.5 0 1,0 9.0,0a4.5,4.5 0 1,0 -9.0,0M76.5,369.7a4.5,4.5 0 1,0 9.0,0a4.5,4.5 0 1,0 -9.0,0M76.6,374.6a4.5,4.5 0 1,0 9.0,0a4.5,4.5 0 1,0 -9.0,0M76.8,375.8a4.5,4.5 0 1,0 9.0,0a4.5,4.5 0 1,0 -9.0,0M77.0,377.7a4.5,4.5 0 1,0 9.0,0a4.5,4.5 0 1,0 -9.0,0M77.2,363.9a4.5,4.5 0 1,0 9.0,0a4.5,4.5 0 1,0 -9.0,0M77.5,369.4a4.5,4.5 0 1,0 9.0,0a4.5,4.5 0 1,0 -9.0,0M77.7,363.6a4.5,4.5 0 1,0 9.0,0a4.5,4.5 0 1,0 -9.0,0M77.8,358.2a4.5,4.5 0 1,0 9.0,0a4.5,4.5 0 1,0 -9.0,0M78.1,364.9a4.5,4.5 0 1,0 9.0,0a4.5,4.5 0 1,0 -9.0,0M78.3,362.7a4.5,4.5 0 1,0 9.0,0a4.5,4.5 0 1,0 -9.0,0M78.4,362.0a4.5,4.5 0 1,0 9.0,0a4.5,4.5 0 1,0 -9.0,0M78.6,373.4a4.5,4.5 0 1,0 9.0,0a4.5,4.5 0 1,0 -9.0,0M78.9,366.9a4.5,4.5 0 1,0 9.0,0a4.5,4.5 0 1,0 -9.0,0M79.1,364.0a4.5,4.5 0 1,0 9.0,0a4.5,4.5 0 1,0 -9.0,0M79.3,359.5a4.5,4.5 0 1,0 9.0,0a4.5,4.5 0 1,0 -9.0,0M79.4,368.8a4.5,4.5 0 1,0 9.0,0a4.5,4.5 0 1,0 -9.0,0M79.7,367.3a4.5,4.5 0 1,0 9.0,0a4.5,4.5 0 1,0 -9.0,0M79.8,370.8a4.5,4.5 0 1,0 9.0,0a4.5,4.5 0 1,0 -9.0,0M80.0,377.4a4.5,4.5 0 1,0 9.0,0a4.5,4.5 0 1,0 -9.0,0M80.2,368.8a4.5,4.5 0 1,0 9.0,0a4.5,4.5 0 1,0 -9.0,0M80.4,370.0a4.5,4.5 0 1,0 9.0,0a4.5,4.5 0 1,0 -9.0,0M80.6,375.9a4.5,4.5 0 1,0 9.0,0a4.5,4.5 0 1,0 -9.0,0M80.7,374.7a4.5,4.5 0 1,0 9.0,0a4.5,4.5 0 1,0 -9.0,0M81.0,363.8a4.5,4.5 0 1,0 9.0,0a4.5,4.5 0 1,0 -9.0,0M81.2,368.0a4.5,4.5 0 1,0 9.0,0a4.5,4.5 0 1,0 -9.0,0M81.3,373.4a4.5,4.5 0 1,0 9.0,0a4.5,4.5 0 1,0 -9.0,0M81.6,365.3a4.5,4.5 0 1,0 9.0,0a4.5,4.5 0 1,0 -9.0,0M81.8,379.9a4.5,4.5 0 1,0 9.0,0a4.5,4.5 0 1,0 -9.0,0M82.1,360.9a4.5,4.5 0 1,0 9.0,0a4.5,4.5 0 1,0 -9.0,0M82.2,373.2a4.5,4.5 0 1,0 9.0,0a4.5,4.5 0 1,0 -9.0,0M82.4,371.5a4.5,4.5 0 1,0 9.0,0a4.5,4.5 0 1,0 -9.0,0M82.7,361.9a4.5,4.5 0 1,0 9.0,0a4.5,4.5 0 1,0 -9.0,0M82.8,378.9a4.5,4.5 0 1,0 9.0,0a4.5,4.5 0 1,0 -9.0,0M83.1,376.7a4.5,4.5 0 1,0 9.0,0a4.5,4.5 0 1,0 -9.0,0M83.3,372.7a4.5,4.5 0 1,0 9.0,0a4.5,4.5 0 1,0 -9.0,0M83.3,369.3a4.5,4.5 0 1,0 9.0,0a4.5,4.5 0 1,0 -9.0,0M83.5,370.9a4.5,4.5 0 1,0 9.0,0a4.5,4.5 0 1,0 -9.0,0M83.7,368.0a4.5,4.5 0 1,0 9.0,0a4.5,4.5 0 1,0 -9.0,0M83.9,364.7a4.5,4.5 0 1,0 9.0,0a4.5,4.5 0 1,0 -9.0,0M84.1,358.2a4.5,4.5 0 1,0 9.0,0a4.5,4.5 0 1,0 -9.0,0M84.4,361.0a4.5,4.5 0 1,0 9.0,0a4.5,4.5 0 1,0 -9.0,0M84.5,367.6a4.5,4.5 0 1,0 9.0,0a4.5,4.5 0 1,0 -9.0,0M84.8,380.6a4.5,4.5 0 1,0 9.0,0a4.5,4.5 0 1,0 -9.0,0M85.0,375.5a4.5,4.5 0 1,0 9.0,0a4.5,4.5 0 1,0 -9.0,0M85.1,372.4a4.5,4.5 0 1,0 9.0,0a4.5,4.5 0 1,0 -9.0,0M85.3,372.8a4.5,4.5 0 1,0 9.0,0a4.5,4.5 0 1,0 -9.0,0M85.6,359.3a4.5,4.5 0 1,0 9.0,0a4.5,4.5 0 1,0 -9.0,0M85.7,357.2a4.5,4.5 0 1,0 9.0,0a4.5,4.5 0 1,0 -9.0,0M85.9,369.4a4.5,4.5 0 1,0 9.0,0a4.5,4.5 0 1,0 -9.0,0M86.1,359.3a4.5,4.5 0 1,0 9.0,0a4.5,4.5 0 1,0 -9.0,0M86.4,368.1a4.5,4.5 0 1,0 9.0,0a4.5,4.5 0 1,0 -9.0,0M86.5,371.5a4.5,4.5 0 1,0 9.0,0a4.5,4.5 0 1,0 -9.0,0M86.6,365.0a4.5,4.5 0 1,0 9.0,0a4.5,4.5 0 1,0 -9.0,0M86.9,364.9a4.5,4.5 0 1,0 9.0,0a4.5,4.5 0 1,0 -9.0,0M87.1,369.1a4.5,4.5 0 1,0 9.0,0a4.5,4.5 0 1,0 -9.0,0M87.2,377.2a4.5,4.5 0 1,0 9.0,0a4.5,4.5 0 1,0 -9.0,0M87.6,361.3a4.5,4.5 0 1,0 9.0,0a4.5,4.5 0 1,0 -9.0,0M87.6,360.9a4.5,4.5 0 1,0 9.0,0a4.5,4.5 0 1,0 -9.0,0M87.9,362.0a4.5,4.5 0 1,0 9.0,0a4.5,4.5 0 1,0 -9.0,0M88.0,371.6a4.5,4.5 0 1,0 9.0,0a4.5,4.5 0 1,0 -9.0,0M88.3,372.6a4.5,4.5 0 1,0 9.0,0a4.5,4.5 0 1,0 -9.0,0M88.4,372.3a4.5,4.5 0 1,0 9.0,0a4.5,4.5 0 1,0 -9.0,0M88.7,362.6a4.5,4.5 0 1,0 9.0,0a4.5,4.5 0 1,0 -9.0,0M88.9,359.8a4.5,4.5 0 1,0 9.0,0a4.5,4.5 0 1,0 -9.0,0M89.1,365.9a4.5,4.5 0 1,0 9.0,0a4.5,4.5 0 1,0 -9.0,0M89.2,369.1a4.5,4.5 0 1,0 9.0,0a4.5,4.5 0 1,0 -9.0,0M89.5,364.0a4.5,4.5 0 1,0 9.0,0a4.5,4.5 0 1,0 -9.0,0M89.7,370.4a4.5,4.5 0 1,0 9.0,0a4.5,4.5 0 1,0 -9.0,0M89.9,363.5a4.5,4.5 0 1,0 9.0,0a4.5,4.5 0 1,0 -9.0,0M90.2,364.0a4.5,4.5 0 1,0 9.0,0a4.5,4.5 0 1,0 -9.0,0M90.3,371.0a4.5,4.5 0 1,0 9.0,0a4.5,4.5 0 1,0 -9.0,0M90.5,370.0a4.5,4.5 0 1,0 9.0,0a4.5,4.5 0 1,0 -9.0,0M90.6,370.1a4.5,4.5 0 1,0 9.0,0a4.5,4.5 0 1,0 -9.0,0M90.9,370.4a4.5,4.5 0 1,0 9.0,0a4.5,4.5 0 1,0 -9.0,0M91.1,362.8a4.5,4.5 0 1,0 9.0,0a4.5,4.5 0 1,0 -9.0,0M91.2,369.5a4.5,4.5 0 1,0 9.0,0a4.5,4.5 0 1,0 -9.0,0M91.3,366.4a4.5,4.5 0 1,0 9.0,0a4.5,4.5 0 1,0 -9.0,0M91.6,377.1a4.5,4.5 0 1,0 9.0,0a4.5,4.5 0 1,0 -9.0,0M91.8,372.5a4.5,4.5 0 1,0 9.0,0a4.5,4.5 0 1,0 -9.0,0M92.0,375.6a4.5,4.5 0 1,0 9.0,0a4.5,4.5 0 1,0 -9.0,0M92.1,366.9a4.5,4.5 0 1,0 9.0,0a4.5,4.5 0 1,0 -9.0,0M92.4,368.2a4.5,4.5 0 1,0 9.0,0a4.5,4.5 0 1,0 -9.0,0M92.5,381.3a4.5,4.5 0 1,0 9.0,0a4.5,4.5 0 1,0 -9.0,0M92.8,371.6a4.5,4.5 0 1,0 9.0,0a4.5,4.5 0 1,0 -9.0,0M93.1,359.4a4.5,4.5 0 1,0 9.0,0a4.5,4.5 0 1,0 -9.0,0M93.2,369.5a4.5,4.5 0 1,0 9.0,0a4.5,4.5 0 1,0 -9.0,0M93.5,363.4a4.5,4.5 0 1,0 9.0,0a4.5,4.5 0 1,0 -9.0,0M93.7,370.9a4.5,4.5 0 1,0 9.0,0a4.5,4.5 0 1,0 -9.0,0M93.7,369.1a4.5,4.5 0 1,0 9.0,0a4.5,4.5 0 1,0 -9.0,0M94.0,366.8a4.5,4.5 0 1,0 9.0,0a4.5,4.5 0 1,0 -9.0,0M94.2,371.0a4.5,4.5 0 1,0 9.0,0a4.5,4.5 0 1,0 -9.0,0M94.4,367.5a4.5,4.5 0 1,0 9.0,0a4.5,4.5 0 1,0 -9.0,0M94.6,361.2a4.5,4.5 0 1,0 9.0,0a4.5,4.5 0 1,0 -9.0,0M94.8,370.3a4.5,4.5 0 1,0 9.0,0a4.5,4.5 0 1,0 -9.0,0M94.9,374.7a4.5,4.5 0 1,0 9.0,0a4.5,4.5 0 1,0 -9.0,0M95.2,370.0a4.5,4.5 0 1,0 9.0,0a4.5,4.5 0 1,0 -9.0,0M95.4,374.1a4.5,4.5 0 1,0 9.0,0a4.5,4.5 0 1,0 -9.0,0M95.6,362.7a4.5,4.5 0 1,0 9.0,0a4.5,4.5 0 1,0 -9.0,0M95.7,365.7a4.5,4.5 0 1,0 9.0,0a4.5,4.5 0 1,0 -9.0,0M96.0,367.7a4.5,4.5 0 1,0 9.0,0a4.5,4.5 0 1,0 -9.0,0M96.2,368.1a4.5,4.5 0 1,0 9.0,0a4.5,4.5 0 1,0 -9.0,0M96.4,381.0a4.5,4.5 0 1,0 9.0,0a4.5,4.5 0 1,0 -9.0,0M96.5,365.4a4.5,4.5 0 1,0 9.0,0a4.5,4.5 0 1,0 -9.0,0M96.8,376.4a4.5,4.5 0 1,0 9.0,0a4.5,4.5 0 1,0 -9.0,0M96.9,365.5a4.5,4.5 0 1,0 9.0,0a4.5,4.5 0 1,0 -9.0,0M97.1,360.8a4.5,4.5 0 1,0 9.0,0a4.5,4.5 0 1,0 -9.0,0M97.3,373.0a4.5,4.5 0 1,0 9.0,0a4.5,4.5 0 1,0 -9.0,0M97.6,366.2a4.5,4.5 0 1,0 9.0,0a4.5,4.5 0 1,0 -9.0,0M97.7,372.0a4.5,4.5 0 1,0 9.0,0a4.5,4.5 0 1,0 -9.0,0M97.9,368.9a4.5,4.5 0 1,0 9.0,0a4.5,4.5 0 1,0 -9.0,0M98.0,370.9a4.5,4.5 0 1,0 9.0,0a4.5,4.5 0 1,0 -9.0,0M98.4,370.3a4.5,4.5 0 1,0 9.0,0a4.5,4.5 0 1,0 -9.0,0M98.4,369.1a4.5,4.5 0 1,0 9.0,0a4.5,4.5 0 1,0 -9.0,0M98.6,366.2a4.5,4.5 0 1,0 9.0,0a4.5,4.5 0 1,0 -9.0,0M98.9,374.8a4.5,4.5 0 1,0 9.0,0a4.5,4.5 0 1,0 -9.0,0M99.2,372.8a4.5,4.5 0 1,0 9.0,0a4.5,4.5 0 1,0 -9.0,0M99.3,374.4a4.5,4.5 0 1,0 9.0,0a4.5,4.5 0 1,0 -9.0,0M99.5,370.5a4.5,4.5 0 1,0 9.0,0a4.5,4.5 0 1,0 -9.0,0M99.7,377.5a4.5,4.5 0 1,0 9.0,0a4.5,4.5 0 1,0 -9.0,0M99.8,371.4a4.5,4.5 0 1,0 9.0,0a4.5,4.5 0 1,0 -9.0,0M100.1,370.5a4.5,4.5 0 1,0 9.0,0a4.5,4.5 0 1,0 -9.0,0M100.4,370.3a4.5,4.5 0 1,0 9.0,0a4.5,4.5 0 1,0 -9.0,0M100.4,372.0a4.5,4.5 0 1,0 9.0,0a4.5,4.5 0 1,0 -9.0,0M100.7,366.9a4.5,4.5 0 1,0 9.0,0a4.5,4.5 0 1,0 -9.0,0M100.8,365.4a4.5,4.5 0 1,0 9.0,0a4.5,4.5 0 1,0 -9.0,0M101.1,371.3a4.5,4.5 0 1,0 9.0,0a4.5,4.5 0 1,0 -9.0,0M101.2,368.8a4.5,4.5 0 1,0 9.0,0a4.5,4.5 0 1,0 -9.0,0M101.4,361.2a4.5,4.5 0 1,0 9.0,0a4.5,4.5 0 1,0 -9.0,0M101.6,369.8a4.5,4.5 0 1,0 9.0,0a4.5,4.5 0 1,0 -9.0,0M101.8,373.4a4.5,4.5 0 1,0 9.0,0a4.5,4.5 0 1,0 -9.0,0M102.1,368.7a4.5,4.5 0 1,0 9.0,0a4.5,4.5 0 1,0 -9.0,0M102.2,363.8a4.5,4.5 0 1,0 9.0,0a4.5,4.5 0 1,0 -9.0,0M102.4,371.3a4.5,4.5 0 1,0 9.0,0a4.5,4.5 0 1,0 -9.0,0M102.6,370.3a4.5,4.5 0 1,0 9.0,0a4.5,4.5 0 1,0 -9.0,0M102.8,363.2a4.5,4.5 0 1,0 9.0,0a4.5,4.5 0 1,0 -9.0,0M102.9,367.1a4.5,4.5 0 1,0 9.0,0a4.5,4.5 0 1,0 -9.0,0M103.3,364.4a4.5,4.5 0 1,0 9.0,0a4.5,4.5 0 1,0 -9.0,0M103.4,362.2a4.5,4.5 0 1,0 9.0,0a4.5,4.5 0 1,0 -9.0,0M103.7,367.8a4.5,4.5 0 1,0 9.0,0a4.5,4.5 0 1,0 -9.0,0M103.9,364.5a4.5,4.5 0 1,0 9.0,0a4.5,4.5 0 1,0 -9.0,0M104.0,373.0a4.5,4.5 0 1,0 9.0,0a4.5,4.5 0 1,0 -9.0,0M104.3,364.2a4.5,4.5 0 1,0 9.0,0a4.5,4.5 0 1,0 -9.0,0M104.4,373.9a4.5,4.5 0 1,0 9.0,0a4.5,4.5 0 1,0 -9.0,0M104.5,370.1a4.5,4.5 0 1,0 9.0,0a4.5,4.5 0 1,0 -9.0,0M104.8,369.4a4.5,4.5 0 1,0 9.0,0a4.5,4.5 0 1,0 -9.0,0M105.1,369.1a4.5,4.5 0 1,0 9.0,0a4.5,4.5 0 1,0 -9.0,0M105.2,379.0a4.5,4.5 0 1,0 9.0,0a4.5,4.5 0 1,0 -9.0,0M105.3,370.5a4.5,4.5 0 1,0 9.0,0a4.5,4.5 0 1,0 -9.0,0M105.6,372.7a4.5,4.5 0 1,0 9.0,0a4.5,4.5 0 1,0 -9.0,0M105.8,371.3a4.5,4.5 0 1,0 9.0,0a4.5,4.5 0 1,0 -9.0,0M106.0,368.2a4.5,4.5 0 1,0 9.0,0a4.5,4.5 0 1,0 -9.0,0M106.1,364.0a4.5,4.5 0 1,0 9.0,0a4.5,4.5 0 1,0 -9.0,0M106.3,362.4a4.5,4.5 0 1,0 9.0,0a4.5,4.5 0 1,0 -9.0,0M106.7,381.0a4.5,4.5 0 1,0 9.0,0a4.5,4.5 0 1,0 -9.0,0M106.8,369.5a4.5,4.5 0 1,0 9.0,0a4.5,4.5 0 1,0 -9.0,0M107.0,357.0a4.5,4.5 0 1,0 9.0,0a4.5,4.5 0 1,0 -9.0,0M107.1,361.5a4.5,4.5 0 1,0 9.0,0a4.5,4.5 0 1,0 -9.0,0M107.3,361.0a4.5,4.5 0 1,0 9.0,0a4.5,4.5 0 1,0 -9.0,0M107.6,362.7a4.5,4.5 0 1,0 9.0,0a4.5,4.5 0 1,0 -9.0,0M107.8,374.7a4.5,4.5 0 1,0 9.0,0a4.5,4.5 0 1,0 -9.0,0M108.0,365.1a4.5,4.5 0 1,0 9.0,0a4.5,4.5 0 1,0 -9.0,0M108.1,378.3a4.5,4.5 0 1,0 9.0,0a4.5,4.5 0 1,0 -9.0,0M108.3,365.2a4.5,4.5 0 1,0 9.0,0a4.5,4.5 0 1,0 -9.0,0M108.6,365.8a4.5,4.5 0 1,0 9.0,0a4.5,4.5 0 1,0 -9.0,0M108.7,367.9a4.5,4.5 0 1,0 9.0,0a4.5,4.5 0 1,0 -9.0,0M108.9,361.0a4.5,4.5 0 1,0 9.0,0a4.5,4.5 0 1,0 -9.0,0M109.1,379.5a4.5,4.5 0 1,0 9.0,0a4.5,4.5 0 1,0 -9.0,0M109.3,381.9a4.5,4.5 0 1,0 9.0,0a4.5,4.5 0 1,0 -9.0,0M109.5,356.8a4.5,4.5 0 1,0 9.0,0a4.5,4.5 0 1,0 -9.0,0M109.7,367.2a4.5,4.5 0 1,0 9.0,0a4.5,4.5 0 1,0 -9.0,0M109.8,372.8a4.5,4.5 0 1,0 9.0,0a4.5,4.5 0 1,0 -9.0,0M110.1,362.4a4.5,4.5 0 1,0 9.0,0a4.5,4.5 0 1,0 -9.0,0M110.4,380.5a4.5,4.5 0 1,0 9.0,0a4.5,4.5 0 1,0 -9.0,0M110.4,360.7a4.5,4.5 0 1,0 9.0,0a4.5,4.5 0 1,0 -9.0,0M110.7,375.8a4.5,4.5 0 1,0 9.0,0a4.5,4.5 0 1,0 -9.0,0M110.8,358.2a4.5,4.5 0 1,0 9.0,0a4.5,4.5 0 1,0 -9.0,0M111.0,369.4a4.5,4.5 0 1,0 9.0,0a4.5,4.5 0 1,0 -9.0,0M111.3,372.7a4.5,4.5 0 1,0 9.0,0a4.5,4.5 0 1,0 -9.0,0M111.5,361.8a4.5,4.5 0 1,0 9.0,0a4.5,4.5 0 1,0 -9.0,0M111.6,368.4a4.5,4.5 0 1,0 9.0,0a4.5,4.5 0 1,0 -9.0,0M111.8,380.2a4.5,4.5 0 1,0 9.0,0a4.5,4.5 0 1,0 -9.0,0M112.1,369.2a4.5,4.5 0 1,0 9.0,0a4.5,4.5 0 1,0 -9.0,0M112.3,372.9a4.5,4.5 0 1,0 9.0,0a4.5,4.5 0 1,0 -9.0,0M112.4,358.1a4.5,4.5 0 1,0 9.0,0a4.5,4.5 0 1,0 -9.0,0M112.7,363.7a4.5,4.5 0 1,0 9.0,0a4.5,4.5 0 1,0 -9.0,0M112.8,375.7a4.5,4.5 0 1,0 9.0,0a4.5,4.5 0 1,0 -9.0,0M113.0,365.7a4.5,4.5 0 1,0 9.0,0a4.5,4.5 0 1,0 -9.0,0M113.1,375.2a4.5,4.5 0 1,0 9.0,0a4.5,4.5 0 1,0 -9.0,0M113.4,367.2a4.5,4.5 0 1,0 9.0,0a4.5,4.5 0 1,0 -9.0,0M113.6,368.4a4.5,4.5 0 1,0 9.0,0a4.5,4.5 0 1,0 -9.0,0M113.9,368.4a4.5,4.5 0 1,0 9.0,0a4.5,4.5 0 1,0 -9.0,0M114.0,375.5a4.5,4.5 0 1,0 9.0,0a4.5,4.5 0 1,0 -9.0,0M114.3,377.8a4.5,4.5 0 1,0 9.0,0a4.5,4.5 0 1,0 -9.0,0M114.5,374.8a4.5,4.5 0 1,0 9.0,0a4.5,4.5 0 1,0 -9.0,0M114.6,358.4a4.5,4.5 0 1,0 9.0,0a4.5,4.5 0 1,0 -9.0,0M114.8,375.2a4.5,4.5 0 1,0 9.0,0a4.5,4.5 0 1,0 -9.0,0M115.0,376.7a4.5,4.5 0 1,0 9.0,0a4.5,4.5 0 1,0 -9.0,0M115.2,371.5a4.5,4.5 0 1,0 9.0,0a4.5,4.5 0 1,0 -9.0,0M115.4,367.4a4.5,4.5 0 1,0 9.0,0a4.5,4.5 0 1,0 -9.0,0M115.6,376.3a4.5,4.5 0 1,0 9.0,0a4.5,4.5 0 1,0 -9.0,0M115.9,365.3a4.5,4.5 0 1,0 9.0,0a4.5,4.5 0 1,0 -9.0,0M116.0,374.9a4.5,4.5 0 1,0 9.0,0a4.5,4.5 0 1,0 -9.0,0M116.3,376.1a4.5,4.5 0 1,0 9.0,0a4.5,4.5 0 1,0 -9.0,0M116.4,362.2a4.5,4.5 0 1,0 9.0,0a4.5,4.5 0 1,0 -9.0,0M116.6,376.8a4.5,4.5 0 1,0 9.0,0a4.5,4.5 0 1,0 -9.0,0M116.7,369.7a4.5,4.5 0 1,0 9.0,0a4.5,4.5 0 1,0 -9.0,0M117.0,362.6a4.5,4.5 0 1,0 9.0,0a4.5,4.5 0 1,0 -9.0,0M117.2,379.0a4.5,4.5 0 1,0 9.0,0a4.5,4.5 0 1,0 -9.0,0M117.3,362.6a4.5,4.5 0 1,0 9.0,0a4.5,4.5 0 1,0 -9.0,0M117.6,361.8a4.5,4.5 0 1,0 9.0,0a4.5,4.5 0 1,0 -9.0,0M117.8,371.2a4.5,4.5 0 1,0 9.0,0a4.5,4.5 0 1,0 -9.0,0M117.9,371.8a4.5,4.5 0 1,0 9.0,0a4.5,4.5 0 1,0 -9.0,0M118.1,361.0a4.5,4.5 0 1,0 9.0,0a4.5,4.5 0 1,0 -9.0,0M118.4,369.9a4.5,4.5 0 1,0 9.0,0a4.5,4.5 0 1,0 -9.0,0M118.6,369.0a4.5,4.5 0 1,0 9.0,0a4.5,4.5 0 1,0 -9.0,0M118.7,362.3a4.5,4.5 0 1,0 9.0,0a4.5,4.5 0 1,0 -9.0,0M119.0,358.1a4.5,4.5 0 1,0 9.0,0a4.5,4.5 0 1,0 -9.0,0M119.2,365.4a4.5,4.5 0 1,0 9.0,0a4.5,4.5 0 1,0 -9.0,0M119.3,369.9a4.5,4.5 0 1,0 9.0,0a4.5,4.5 0 1,0 -9.0,0M119.6,372.2a4.5,4.5 0 1,0 9.0,0a4.5,4.5 0 1,0 -9.0,0M119.7,379.4a4.5,4.5 0 1,0 9.0,0a4.5,4.5 0 1,0 -9.0,0M119.9,375.6a4.5,4.5 0 1,0 9.0,0a4.5,4.5 0 1,0 -9.0,0M120.0,364.8a4.5,4.5 0 1,0 9.0,0a4.5,4.5 0 1,0 -9.0,0M120.3,359.4a4.5,4.5 0 1,0 9.0,0a4.5,4.5 0 1,0 -9.0,0M120.4,366.8a4.5,4.5 0 1,0 9.0,0a4.5,4.5 0 1,0 -9.0,0M120.7,362.6a4.5,4.5 0 1,0 9.0,0a4.5,4.5 0 1,0 -9.0,0M121.0,375.2a4.5,4.5 0 1,0 9.0,0a4.5,4.5 0 1,0 -9.0,0M121.0,365.1a4.5,4.5 0 1,0 9.0,0a4.5,4.5 0 1,0 -9.0,0M121.2,376.7a4.5,4.5 0 1,0 9.0,0a4.5,4.5 0 1,0 -9.0,0M121.6,368.6a4.5,4.5 0 1,0 9.0,0a4.5,4.5 0 1,0 -9.0,0M121.7,374.8a4.5,4.5 0 1,0 9.0,0a4.5,4.5 0 1,0 -9.0,0M121.8,375.0a4.5,4.5 0 1,0 9.0,0a4.5,4.5 0 1,0 -9.0,0M122.1,362.5a4.5,4.5 0 1,0 9.0,0a4.5,4.5 0 1,0 -9.0,0M122.3,375.1a4.5,4.5 0 1,0 9.0,0a4.5,4.5 0 1,0 -9.0,0M122.6,371.3a4.5,4.5 0 1,0 9.0,0a4.5,4.5 0 1,0 -9.0,0M122.7,372.8a4.5,4.5 0 1,0 9.0,0a4.5,4.5 0 1,0 -9.0,0M122.8,365.2a4.5,4.5 0 1,0 9.0,0a4.5,4.5 0 1,0 -9.0,0M123.0,362.8a4.5,4.5 0 1,0 9.0,0a4.5,4.5 0 1,0 -9.0,0M123.3,367.8a4.5,4.5 0 1,0 9.0,0a4.5,4.5 0 1,0 -9.0,0M123.5,363.6a4.5,4.5 0 1,0 9.0,0a4.5,4.5 0 1,0 -9.0,0M123.7,366.0a4.5,4.5 0 1,0 9.0,0a4.5,4.5 0 1,0 -9.0,0M123.8,377.2a4.5,4.5 0 1,0 9.0,0a4.5,4.5 0 1,0 -9.0,0M124.0,365.1a4.5,4.5 0 1,0 9.0,0a4.5,4.5 0 1,0 -9.0,0M124.2,362.4a4.5,4.5 0 1,0 9.0,0a4.5,4.5 0 1,0 -9.0,0M124.5,367.9a4.5,4.5 0 1,0 9.0,0a4.5,4.5 0 1,0 -9.0,0M124.6,367.6a4.5,4.5 0 1,0 9.0,0a4.5,4.5 0 1,0 -9.0,0M124.8,381.7a4.5,4.5 0 1,0 9.0,0a4.5,4.5 0 1,0 -9.0,0M125.1,372.4a4.5,4.5 0 1,0 9.0,0a4.5,4.5 0 1,0 -9.0,0M125.2,360.5a4.5,4.5 0 1,0 9.0,0a4.5,4.5 0 1,0 -9.0,0M125.5,374.3a4.5,4.5 0 1,0 9.0,0a4.5,4.5 0 1,0 -9.0,0M125.5,360.3a4.5,4.5 0 1,0 9.0,0a4.5,4.5 0 1,0 -9.0,0M125.7,373.4a4.5,4.5 0 1,0 9.0,0a4.5,4.5 0 1,0 -9.0,0M126.1,377.9a4.5,4.5 0 1,0 9.0,0a4.5,4.5 0 1,0 -9.0,0M126.2,373.5a4.5,4.5 0 1,0 9.0,0a4.5,4.5 0 1,0 -9.0,0M126.5,357.7a4.5,4.5 0 1,0 9.0,0a4.5,4.5 0 1,0 -9.0,0M126.6,364.7a4.5,4.5 0 1,0 9.0,0a4.5,4.5 0 1,0 -9.0,0M126.8,366.7a4.5,4.5 0 1,0 9.0,0a4.5,4.5 0 1,0 -9.0,0M126.9,364.2a4.5,4.5 0 1,0 9.0,0a4.5,4.5 0 1,0 -9.0,0M127.3,378.9a4.5,4.5 0 1,0 9.0,0a4.5,4.5 0 1,0 -9.0,0M127.3,381.8a4.5,4.5 0 1,0 9.0,0a4.5,4.5 0 1,0 -9.0,0M127.5,379.5a4.5,4.5 0 1,0 9.0,0a4.5,4.5 0 1,0 -9.0,0M127.9,376.3a4.5,4.5 0 1,0 9.0,0a4.5,4.5 0 1,0 -9.0,0M128.0,366.5a4.5,4.5 0 1,0 9.0,0a4.5,4.5 0 1,0 -9.0,0M128.3,364.9a4.5,4.5 0 1,0 9.0,0a4.5,4.5 0 1,0 -9.0,0M128.4,370.7a4.5,4.5 0 1,0 9.0,0a4.5,4.5 0 1,0 -9.0,0M128.6,371.4a4.5,4.5 0 1,0 9.0,0a4.5,4.5 0 1,0 -9.0,0M128.7,372.4a4.5,4.5 0 1,0 9.0,0a4.5,4.5 0 1,0 -9.0,0M128.9,364.4a4.5,4.5 0 1,0 9.0,0a4.5,4.5 0 1,0 -9.0,0M129.2,365.6a4.5,4.5 0 1,0 9.0,0a4.5,4.5 0 1,0 -9.0,0M129.3,377.6a4.5,4.5 0 1,0 9.0,0a4.5,4.5 0 1,0 -9.0,0M129.6,363.3a4.5,4.5 0 1,0 9.0,0a4.5,4.5 0 1,0 -9.0,0M129.7,381.4a4.5,4.5 0 1,0 9.0,0a4.5,4.5 0 1,0 -9.0,0M130.0,376.3a4.5,4.5 0 1,0 9.0,0a4.5,4.5 0 1,0 -9.0,0M130.1,368.5a4.5,4.5 0 1,0 9.0,0a4.5,4.5 0 1,0 -9.0,0M130.3,366.2a4.5,4.5 0 1,0 9.0,0a4.5,4.5 0 1,0 -9.0,0M130.5,365.5a4.5,4.5 0 1,0 9.0,0a4.5,4.5 0 1,0 -9.0,0M130.7,358.4a4.5,4.5 0 1,0 9.0,0a4.5,4.5 0 1,0 -9.0,0M130.9,371.9a4.5,4.5 0 1,0 9.0,0a4.5,4.5 0 1,0 -9.0,0M131.2,379.3a4.5,4.5 0 1,0 9.0,0a4.5,4.5 0 1,0 -9.0,0M131.2,378.1a4.5,4.5 0 1,0 9.0,0a4.5,4.5 0 1,0 -9.0,0M131.6,369.0a4.5,4.5 0 1,0 9.0,0a4.5,4.5 0 1,0 -9.0,0M131.7,367.8a4.5,4.5 0 1,0 9.0,0a4.5,4.5 0 1,0 -9.0,0M132.0,375.7a4.5,4.5 0 1,0 9.0,0a4.5,4.5 0 1,0 -9.0,0M132.1,372.2a4.5,4.5 0 1,0 9.0,0a4.5,4.5 0 1,0 -9.0,0M132.3,368.1a4.5,4.5 0 1,0 9.0,0a4.5,4.5 0 1,0 -9.0,0M132.6,362.3a4.5,4.5 0 1,0 9.0,0a4.5,4.5 0 1,0 -9.0,0M132.6,364.4a4.5,4.5 0 1,0 9.0,0a4.5,4.5 0 1,0 -9.0,0M132.8,367.4a4.5,4.5 0 1,0 9.0,0a4.5,4.5 0 1,0 -9.0,0M133.2,371.7a4.5,4.5 0 1,0 9.0,0a4.5,4.5 0 1,0 -9.0,0M133.2,358.7a4.5,4.5 0 1,0 9.0,0a4.5,4.5 0 1,0 -9.0,0M133.5,379.0a4.5,4.5 0 1,0 9.0,0a4.5,4.5 0 1,0 -9.0,0M133.6,365.9a4.5,4.5 0 1,0 9.0,0a4.5,4.5 0 1,0 -9.0,0M133.8,364.4a4.5,4.5 0 1,0 9.0,0a4.5,4.5 0 1,0 -9.0,0M134.1,371.0a4.5,4.5 0 1,0 9.0,0a4.5,4.5 0 1,0 -9.0,0M134.2,370.8a4.5,4.5 0 1,0 9.0,0a4.5,4.5 0 1,0 -9.0,0M134.4,363.7a4.5,4.5 0 1,0 9.0,0a4.5,4.5 0 1,0 -9.0,0M134.7,376.7a4.5,4.5 0 1,0 9.0,0a4.5,4.5 0 1,0 -9.0,0M134.9,374.4a4.5,4.5 0 1,0 9.0,0a4.5,4.5 0 1,0 -9.0,0M135.1,367.6a4.5,4.5 0 1,0 9.0,0a4.5,4.5 0 1,0 -9.0,0M135.3,369.8a4.5,4.5 0 1,0 9.0,0a4.5,4.5 0 1,0 -9.0,0M135.4,367.2a4.5,4.5 0 1,0 9.0,0a4.5,4.5 0 1,0 -9.0,0M135.7,366.4a4.5,4.5 0 1,0 9.0,0a4.5,4.5 0 1,0 -9.0,0M135.8,362.1a4.5,4.5 0 1,0 9.0,0a4.5,4.5 0 1,0 -9.0,0M136.0,376.7a4.5,4.5 0 1,0 9.0,0a4.5,4.5 0 1,0 -9.0,0M136.2,375.3a4.5,4.5 0 1,0 9.0,0a4.5,4.5 0 1,0 -9.0,0M136.5,367.1a4.5,4.5 0 1,0 9.0,0a4.5,4.5 0 1,0 -9.0,0M136.7,365.5a4.5,4.5 0 1,0 9.0,0a4.5,4.5 0 1,0 -9.0,0M136.7,369.9a4.5,4.5 0 1,0 9.0,0a4.5,4.5 0 1,0 -9.0,0M137.1,375.5a4.5,4.5 0 1,0 9.0,0a4.5,4.5 0 1,0 -9.0,0M137.2,374.9a4.5,4.5 0 1,0 9.0,0a4.5,4.5 0 1,0 -9.0,0M137.3,365.3a4.5,4.5 0 1,0 9.0,0a4.5,4.5 0 1,0 -9.0,0M137.6,370.2a4.5,4.5 0 1,0 9.0,0a4.5,4.5 0 1,0 -9.0,0M137.8,366.3a4.5,4.5 0 1,0 9.0,0a4.5,4.5 0 1,0 -9.0,0M138.0,372.8a4.5,4.5 0 1,0 9.0,0a4.5,4.5 0 1,0 -9.0,0M138.1,373.0a4.5,4.5 0 1,0 9.0,0a4.5,4.5 0 1,0 -9.0,0M138.5,373.1a4.5,4.5 0 1,0 9.0,0a4.5,4.5 0 1,0 -9.0,0M138.6,370.3a4.5,4.5 0 1,0 9.0,0a4.5,4.5 0 1,0 -9.0,0M138.9,368.6a4.5,4.5 0 1,0 9.0,0a4.5,4.5 0 1,0 -9.0,0M139.0,371.7a4.5,4.5 0 1,0 9.0,0a4.5,4.5 0 1,0 -9.0,0M139.2,360.6a4.5,4.5 0 1,0 9.0,0a4.5,4.5 0 1,0 -9.0,0M139.3,369.4a4.5,4.5 0 1,0 9.0,0a4.5,4.5 0 1,0 -9.0,0M139.5,365.4a4.5,4.5 0 1,0 9.0,0a4.5,4.5 0 1,0 -9.0,0M139.7,362.8a4.5,4.5 0 1,0 9.0,0a4.5,4.5 0 1,0 -9.0,0M139.9,374.7a4.5,4.5 0 1,0 9.0,0a4.5,4.5 0 1,0 -9.0,0M140.2,377.3a4.5,4.5 0 1,0 9.0,0a4.5,4.5 0 1,0 -9.0,0M140.3,374.1a4.5,4.5 0 1,0 9.0,0a4.5,4.5 0 1,0 -9.0,0M140.6,371.7a4.5,4.5 0 1,0 9.0,0a4.5,4.5 0 1,0 -9.0,0M140.7,358.6a4.5,4.5 0 1,0 9.0,0a4.5,4.5 0 1,0 -9.0,0M140.9,357.7a4.5,4.5 0 1,0 9.0,0a4.5,4.5 0 1,0 -9.0,0M141.1,361.5a4.5,4.5 0 1,0 9.0,0a4.5,4.5 0 1,0 -9.0,0M141.4,362.1a4.5,4.5 0 1,0 9.0,0a4.5,4.5 0 1,0 -9.0,0M141.5,372.3a4.5,4.5 0 1,0 9.0,0a4.5,4.5 0 1,0 -9.0,0M141.8,362.2a4.5,4.5 0 1,0 9.0,0a4.5,4.5 0 1,0 -9.0,0M141.8,376.1a4.5,4.5 0 1,0 9.0,0a4.5,4.5 0 1,0 -9.0,0M142.1,366.8a4.5,4.5 0 1,0 9.0,0a4.5,4.5 0 1,0 -9.0,0M142.2,369.8a4.5,4.5 0 1,0 9.0,0a4.5,4.5 0 1,0 -9.0,0M142.6,380.8a4.5,4.5 0 1,0 9.0,0a4.5,4.5 0 1,0 -9.0,0M142.7,367.2a4.5,4.5 0 1,0 9.0,0a4.5,4.5 0 1,0 -9.0,0M142.9,372.6a4.5,4.5 0 1,0 9.0,0a4.5,4.5 0 1,0 -9.0,0M143.1,360.1a4.5,4.5 0 1,0 9.0,0a4.5,4.5 0 1,0 -9.0,0M143.4,371.5a4.5,4.5 0 1,0 9.0,0a4.5,4.5 0 1,0 -9.0,0M143.5,361.7a4.5,4.5 0 1,0 9.0,0a4.5,4.5 0 1,0 -9.0,0M143.8,379.2a4.5,4.5 0 1,0 9.0,0a4.5,4.5 0 1,0 -9.0,0M143.9,363.0a4.5,4.5 0 1,0 9.0,0a4.5,4.5 0 1,0 -9.0,0M144.0,359.8a4.5,4.5 0 1,0 9.0,0a4.5,4.5 0 1,0 -9.0,0M144.3,359.8a4.5,4.5 0 1,0 9.0,0a4.5,4.5 0 1,0 -9.0,0M144.4,368.1a4.5,4.5 0 1,0 9.0,0a4.5,4.5 0 1,0 -9.0,0M144.6,363.0a4.5,4.5 0 1,0 9.0,0a4.5,4.5 0 1,0 -9.0,0M145.0,364.0a4.5,4.5 0 1,0 9.0,0a4.5,4.5 0 1,0 -9.0,0M145.0,359.2a4.5,4.5 0 1,0 9.0,0a4.5,4.5 0 1,0 -9.0,0M145.3,363.6a4.5,4.5 0 1,0 9.0,0a4.5,4.5 0 1,0 -9.0,0M145.5,375.6a4.5,4.5 0 1,0 9.0,0a4.5,4.5 0 1,0 -9.0,0M145.7,358.5a4.5,4.5 0 1,0 9.0,0a4.5,4.5 0 1,0 -9.0,0M145.9,375.0a4.5,4.5 0 1,0 9.0,0a4.5,4.5 0 1,0 -9.0,0M146.1,358.5a4.5,4.5 0 1,0 9.0,0a4.5,4.5 0 1,0 -9.0,0M146.2,377.8a4.5,4.5 0 1,0 9.0,0a4.5,4.5 0 1,0 -9.0,0M146.5,367.3a4.5,4.5 0 1,0 9.0,0a4.5,4.5 0 1,0 -9.0,0M146.6,381.5a4.5,4.5 0 1,0 9.0,0a4.5,4.5 0 1,0 -9.0,0M146.8,367.0a4.5,4.5 0 1,0 9.0,0a4.5,4.5 0 1,0 -9.0,0M147.1,369.9a4.5,4.5 0 1,0 9.0,0a4.5,4.5 0 1,0 -9.0,0M147.2,374.0a4.5,4.5 0 1,0 9.0,0a4.5,4.5 0 1,0 -9.0,0M147.4,370.1a4.5,4.5 0 1,0 9.0,0a4.5,4.5 0 1,0 -9.0,0M147.7,367.7a4.5,4.5 0 1,0 9.0,0a4.5,4.5 0 1,0 -9.0,0M147.9,362.6a4.5,4.5 0 1,0 9.0,0a4.5,4.5 0 1,0 -9.0,0M148.1,362.6a4.5,4.5 0 1,0 9.0,0a4.5,4.5 0 1,0 -9.0,0M148.3,366.9a4.5,4.5 0 1,0 9.0,0a4.5,4.5 0 1,0 -9.0,0M148.4,371.1a4.5,4.5 0 1,0 9.0,0a4.5,4.5 0 1,0 -9.0,0M148.7,364.4a4.5,4.5 0 1,0 9.0,0a4.5,4.5 0 1,0 -9.0,0M148.9,377.4a4.5,4.5 0 1,0 9.0,0a4.5,4.5 0 1,0 -9.0,0M149.1,377.5a4.5,4.5 0 1,0 9.0,0a4.5,4.5 0 1,0 -9.0,0M149.1,369.6a4.5,4.5 0 1,0 9.0,0a4.5,4.5 0 1,0 -9.0,0M149.3,372.2a4.5,4.5 0 1,0 9.0,0a4.5,4.5 0 1,0 -9.0,0M149.6,362.7a4.5,4.5 0 1,0 9.0,0a4.5,4.5 0 1,0 -9.0,0M149.8,366.9a4.5,4.5 0 1,0 9.0,0a4.5,4.5 0 1,0 -9.0,0M150.0,373.6a4.5,4.5 0 1,0 9.0,0a4.5,4.5 0 1,0 -9.0,0M150.3,365.1a4.5,4.5 0 1,0 9.0,0a4.5,4.5 0 1,0 -9.0,0M150.3,365.4a4.5,4.5 0 1,0 9.0,0a4.5,4.5 0 1,0 -9.0,0M150.5,367.1a4.5,4.5 0 1,0 9.0,0a4.5,4.5 0 1,0 -9.0,0M150.8,362.2a4.5,4.5 0 1,0 9.0,0a4.5,4.5 0 1,0 -9.0,0M151.0,377.1a4.5,4.5 0 1,0 9.0,0a4.5,4.5 0 1,0 -9.0,0M151.1,376.7a4.5,4.5 0 1,0 9.0,0a4.5,4.5 0 1,0 -9.0,0M151.4,371.6a4.5,4.5 0 1,0 9.0,0a4.5,4.5 0 1,0 -9.0,0M151.7,374.5a4.5,4.5 0 1,0 9.0,0a4.5,4.5 0 1,0 -9.0,0M151.7,371.8a4.5,4.5 0 1,0 9.0,0a4.5,4.5 0 1,0 -9.0,0M152.0,374.9a4.5,4.5 0 1,0 9.0,0a4.5,4.5 0 1,0 -9.0,0M152.2,365.1a4.5,4.5 0 1,0 9.0,0a4.5,4.5 0 1,0 -9.0,0M152.4,368.5a4.5,4.5 0 1,0 9.0,0a4.5,4.5 0 1,0 -9.0,0M152.5,371.4a4.5,4.5 0 1,0 9.0,0a4.5,4.5 0 1,0 -9.0,0M152.7,365.8a4.5,4.5 0 1,0 9.0,0a4.5,4.5 0 1,0 -9.0,0M152.8,377.0a4.5,4.5 0 1,0 9.0,0a4.5,4.5 0 1,0 -9.0,0M153.1,371.3a4.5,4.5 0 1,0 9.0,0a4.5,4.5 0 1,0 -9.0,0M153.3,364.4a4.5,4.5 0 1,0 9.0,0a4.5,4.5 0 1,0 -9.0,0M153.4,364.9a4.5,4.5 0 1,0 9.0,0a4.5,4.5 0 1,0 -9.0,0M153.7,357.9a4.5,4.5 0 1,0 9.0,0a4.5,4.5 0 1,0 -9.0,0M154.0,380.7a4.5,4.5 0 1,0 9.0,0a4.5,4.5 0 1,0 -9.0,0M154.1,378.1a4.5,4.5 0 1,0 9.0,0a4.5,4.5 0 1,0 -9.0,0M154.3,373.9a4.5,4.5 0 1,0 9.0,0a4.5,4.5 0 1,0 -9.0,0M154.6,362.7a4.5,4.5 0 1,0 9.0,0a4.5,4.5 0 1,0 -9.0,0M154.7,377.3a4.5,4.5 0 1,0 9.0,0a4.5,4.5 0 1,0 -9.0,0M154.9,359.0a4.5,4.5 0 1,0 9.0,0a4.5,4.5 0 1,0 -9.0,0M155.2,367.9a4.5,4.5 0 1,0 9.0,0a4.5,4.5 0 1,0 -9.0,0M155.3,356.9a4.5,4.5 0 1,0 9.0,0a4.5,4.5 0 1,0 -9.0,0M155.4,374.8a4.5,4.5 0 1,0 9.0,0a4.5,4.5 0 1,0 -9.0,0M155.7,360.3a4.5,4.5 0 1,0 9.0,0a4.5,4.5 0 1,0 -9.0,0M155.9,369.5a4.5,4.5 0 1,0 9.0,0a4.5,4.5 0 1,0 -9.0,0M156.1,369.4a4.5,4.5 0 1,0 9.0,0a4.5,4.5 0 1,0 -9.0,0M156.2,367.5a4.5,4.5 0 1,0 9.0,0a4.5,4.5 0 1,0 -9.0,0M156.4,365.1a4.5,4.5 0 1,0 9.0,0a4.5,4.5 0 1,0 -9.0,0M156.6,361.6a4.5,4.5 0 1,0 9.0,0a4.5,4.5 0 1,0 -9.0,0M156.8,364.6a4.5,4.5 0 1,0 9.0,0a4.5,4.5 0 1,0 -9.0,0M157.0,369.2a4.5,4.5 0 1,0 9.0,0a4.5,4.5 0 1,0 -9.0,0M157.2,359.4a4.5,4.5 0 1,0 9.0,0a4.5,4.5 0 1,0 -9.0,0M157.5,367.2a4.5,4.5 0 1,0 9.0,0a4.5,4.5 0 1,0 -9.0,0M157.6,377.9a4.5,4.5 0 1,0 9.0,0a4.5,4.5 0 1,0 -9.0,0M157.9,361.9a4.5,4.5 0 1,0 9.0,0a4.5,4.5 0 1,0 -9.0,0M158.1,359.2a4.5,4.5 0 1,0 9.0,0a4.5,4.5 0 1,0 -9.0,0M158.2,380.1a4.5,4.5 0 1,0 9.0,0a4.5,4.5 0 1,0 -9.0,0M158.5,366.9a4.5,4.5 0 1,0 9.0,0a4.5,4.5 0 1,0 -9.0,0M158.6,374.2a4.5,4.5 0 1,0 9.0,0a4.5,4.5 0 1,0 -9.0,0M158.9,377.2a4.5,4.5 0 1,0 9.0,0a4.5,4.5 0 1,0 -9.0,0M159.1,367.2a4.5,4.5 0 1,0 9.0,0a4.5,4.5 0 1,0 -9.0,0M159.2,372.5a4.5,4.5 0 1,0 9.0,0a4.5,4.5 0 1,0 -9.0,0M159.5,375.4a4.5,4.5 0 1,0 9.0,0a4.5,4.5 0 1,0 -9.0,0M159.6,379.2a4.5,4.5 0 1,0 9.0,0a4.5,4.5 0 1,0 -9.0,0M159.8,375.0a4.5,4.5 0 1,0 9.0,0a4.5,4.5 0 1,0 -9.0,0M160.0,371.3a4.5,4.5 0 1,0 9.0,0a4.5,4.5 0 1,0 -9.0,0M160.3,373.8a4.5,4.5 0 1,0 9.0,0a4.5,4.5 0 1,0 -9.0,0M160.4,368.3a4.5,4.5 0 1,0 9.0,0a4.5,4.5 0 1,0 -9.0,0M160.7,371.4a4.5,4.5 0 1,0 9.0,0a4.5,4.5 0 1,0 -9.0,0M160.8,375.2a4.5,4.5 0 1,0 9.0,0a4.5,4.5 0 1,0 -9.0,0M160.9,369.0a4.5,4.5 0 1,0 9.0,0a4.5,4.5 0 1,0 -9.0,0M161.2,376.4a4.5,4.5 0 1,0 9.0,0a4.5,4.5 0 1,0 -9.0,0M161.5,368.9a4.5,4.5 0 1,0 9.0,0a4.5,4.5 0 1,0 -9.0,0M161.7,374.1a4.5,4.5 0 1,0 9.0,0a4.5,4.5 0 1,0 -9.0,0M161.8,374.6a4.5,4.5 0 1,0 9.0,0a4.5,4.5 0 1,0 -9.0,0M162.0,360.9a4.5,4.5 0 1,0 9.0,0a4.5,4.5 0 1,0 -9.0,0M162.1,376.2a4.5,4.5 0 1,0 9.0,0a4.5,4.5 0 1,0 -9.0,0M162.4,379.0a4.5,4.5 0 1,0 9.0,0a4.5,4.5 0 1,0 -9.0,0M162.6,363.8a4.5,4.5 0 1,0 9.0,0a4.5,4.5 0 1,0 -9.0,0M162.7,359.1a4.5,4.5 0 1,0 9.0,0a4.5,4.5 0 1,0 -9.0,0M162.9,376.9a4.5,4.5 0 1,0 9.0,0a4.5,4.5 0 1,0 -9.0,0M163.1,365.1a4.5,4.5 0 1,0 9.0,0a4.5,4.5 0 1,0 -9.0,0M163.4,368.7a4.5,4.5 0 1,0 9.0,0a4.5,4.5 0 1,0 -9.0,0M163.5,381.4a4.5,4.5 0 1,0 9.0,0a4.5,4.5 0 1,0 -9.0,0M163.8,363.4a4.5,4.5 0 1,0 9.0,0a4.5,4.5 0 1,0 -9.0,0M164.0,366.7a4.5,4.5 0 1,0 9.0,0a4.5,4.5 0 1,0 -9.0,0M164.1,369.5a4.5,4.5 0 1,0 9.0,0a4.5,4.5 0 1,0 -9.0,0M164.3,372.1a4.5,4.5 0 1,0 9.0,0a4.5,4.5 0 1,0 -9.0,0M164.6,366.2a4.5,4.5 0 1,0 9.0,0a4.5,4.5 0 1,0 -9.0,0M164.8,362.9a4.5,4.5 0 1,0 9.0,0a4.5,4.5 0 1,0 -9.0,0M164.8,365.9a4.5,4.5 0 1,0 9.0,0a4.5,4.5 0 1,0 -9.0,0M165.2,378.8a4.5,4.5 0 1,0 9.0,0a4.5,4.5 0 1,0 -9.0,0M165.3,365.1a4.5,4.5 0 1,0 9.0,0a4.5,4.5 0 1,0 -9.0,0M165.5,358.1a4.5,4.5 0 1,0 9.0,0a4.5,4.5 0 1,0 -9.0,0M165.8,369.1a4.5,4.5 0 1,0 9.0,0a4.5,4.5 0 1,0 -9.0,0M165.9,363.0a4.5,4.5 0 1,0 9.0,0a4.5,4.5 0 1,0 -9.0,0M166.2,366.8a4.5,4.5 0 1,0 9.0,0a4.5,4.5 0 1,0 -9.0,0M166.4,373.0a4.5,4.5 0 1,0 9.0,0a4.5,4.5 0 1,0 -9.0,0M166.5,359.1a4.5,4.5 0 1,0 9.0,0a4.5,4.5 0 1,0 -9.0,0M166.8,368.0a4.5,4.5 0 1,0 9.0,0a4.5,4.5 0 1,0 -9.0,0M166.8,368.0a4.5,4.5 0 1,0 9.0,0a4.5,4.5 0 1,0 -9.0,0M167.1,371.6a4.5,4.5 0 1,0 9.0,0a4.5,4.5 0 1,0 -9.0,0M167.3,375.6a4.5,4.5 0 1,0 9.0,0a4.5,4.5 0 1,0 -9.0,0M167.5,361.1a4.5,4.5 0 1,0 9.0,0a4.5,4.5 0 1,0 -9.0,0M167.7,364.4a4.5,4.5 0 1,0 9.0,0a4.5,4.5 0 1,0 -9.0,0M167.9,366.9a4.5,4.5 0 1,0 9.0,0a4.5,4.5 0 1,0 -9.0,0M168.1,371.5a4.5,4.5 0 1,0 9.0,0a4.5,4.5 0 1,0 -9.0,0M168.3,366.0a4.5,4.5 0 1,0 9.0,0a4.5,4.5 0 1,0 -9.0,0M168.5,369.3a4.5,4.5 0 1,0 9.0,0a4.5,4.5 0 1,0 -9.0,0M168.7,368.8a4.5,4.5 0 1,0 9.0,0a4.5,4.5 0 1,0 -9.0,0M168.9,372.1a4.5,4.5 0 1,0 9.0,0a4.5,4.5 0 1,0 -9.0,0M169.1,366.8a4.5,4.5 0 1,0 9.0,0a4.5,4.5 0 1,0 -9.0,0M169.3,365.1a4.5,4.5 0 1,0 9.0,0a4.5,4.5 0 1,0 -9.0,0M169.4,365.8a4.5,4.5 0 1,0 9.0,0a4.5,4.5 0 1,0 -9.0,0M169.7,371.9a4.5,4.5 0 1,0 9.0,0a4.5,4.5 0 1,0 -9.0,0M169.8,364.4a4.5,4.5 0 1,0 9.0,0a4.5,4.5 0 1,0 -9.0,0M170.0,378.1a4.5,4.5 0 1,0 9.0,0a4.5,4.5 0 1,0 -9.0,0M170.3,375.2a4.5,4.5 0 1,0 9.0,0a4.5,4.5 0 1,0 -9.0,0M170.5,362.5a4.5,4.5 0 1,0 9.0,0a4.5,4.5 0 1,0 -9.0,0M170.5,377.8a4.5,4.5 0 1,0 9.0,0a4.5,4.5 0 1,0 -9.0,0M170.9,369.1a4.5,4.5 0 1,0 9.0,0a4.5,4.5 0 1,0 -9.0,0M171.0,369.9a4.5,4.5 0 1,0 9.0,0a4.5,4.5 0 1,0 -9.0,0M171.1,369.0a4.5,4.5 0 1,0 9.0,0a4.5,4.5 0 1,0 -9.0,0M171.4,371.8a4.5,4.5 0 1,0 9.0,0a4.5,4.5 0 1,0 -9.0,0M171.6,370.1a4.5,4.5 0 1,0 9.0,0a4.5,4.5 0 1,0 -9.0,0M171.9,367.5a4.5,4.5 0 1,0 9.0,0a4.5,4.5 0 1,0 -9.0,0M171.9,371.0a4.5,4.5 0 1,0 9.0,0a4.5,4.5 0 1,0 -9.0,0M172.2,379.1a4.5,4.5 0 1,0 9.0,0a4.5,4.5 0 1,0 -9.0,0M172.4,364.9a4.5,4.5 0 1,0 9.0,0a4.5,4.5 0 1,0 -9.0,0M172.6,367.4a4.5,4.5 0 1,0 9.0,0a4.5,4.5 0 1,0 -9.0,0M172.7,376.2a4.5,4.5 0 1,0 9.0,0a4.5,4.5 0 1,0 -9.0,0M173.0,358.6a4.5,4.5 0 1,0 9.0,0a4.5,4.5 0 1,0 -9.0,0M173.1,369.7a4.5,4.5 0 1,0 9.0,0a4.5,4.5 0 1,0 -9.0,0M173.4,367.7a4.5,4.5 0 1,0 9.0,0a4.5,4.5 0 1,0 -9.0,0M173.6,378.5a4.5,4.5 0 1,0 9.0,0a4.5,4.5 0 1,0 -9.0,0M173.8,373.2a4.5,4.5 0 1,0 9.0,0a4.5,4.5 0 1,0 -9.0,0M174.0,362.6a4.5,4.5 0 1,0 9.0,0a4.5,4.5 0 1,0 -9.0,0M174.2,374.3a4.5,4.5 0 1,0 9.0,0a4.5,4.5 0 1,0 -9.0,0M174.3,375.4a4.5,4.5 0 1,0 9.0,0a4.5,4.5 0 1,0 -9.0,0M174.5,372.1a4.5,4.5 0 1,0 9.0,0a4.5,4.5 0 1,0 -9.0,0M174.7,369.2a4.5,4.5 0 1,0 9.0,0a4.5,4.5 0 1,0 -9.0,0M174.9,359.2a4.5,4.5 0 1,0 9.0,0a4.5,4.5 0 1,0 -9.0,0M175.2,372.4a4.5,4.5 0 1,0 9.0,0a4.5,4.5 0 1,0 -9.0,0M175.3,366.9a4.5,4.5 0 1,0 9.0,0a4.5,4.5 0 1,0 -9.0,0M175.5,373.2a4.5,4.5 0 1,0 9.0,0a4.5,4.5 0 1,0 -9.0,0M175.7,373.3a4.5,4.5 0 1,0 9.0,0a4.5,4.5 0 1,0 -9.0,0M175.9,380.1a4.5,4.5 0 1,0 9.0,0a4.5,4.5 0 1,0 -9.0,0M176.1,372.9a4.5,4.5 0 1,0 9.0,0a4.5,4.5 0 1,0 -9.0,0M176.3,379.7a4.5,4.5 0 1,0 9.0,0a4.5,4.5 0 1,0 -9.0,0M176.5,359.3a4.5,4.5 0 1,0 9.0,0a4.5,4.5 0 1,0 -9.0,0M176.8,365.4a4.5,4.5 0 1,0 9.0,0a4.5,4.5 0 1,0 -9.0,0M177.0,364.4a4.5,4.5 0 1,0 9.0,0a4.5,4.5 0 1,0 -9.0,0M177.2,368.9a4.5,4.5 0 1,0 9.0,0a4.5,4.5 0 1,0 -9.0,0M177.2,366.9a4.5,4.5 0 1,0 9.0,0a4.5,4.5 0 1,0 -9.0,0M177.4,376.7a4.5,4.5 0 1,0 9.0,0a4.5,4.5 0 1,0 -9.0,0M177.7,360.9a4.5,4.5 0 1,0 9.0,0a4.5,4.5 0 1,0 -9.0,0M177.8,366.8a4.5,4.5 0 1,0 9.0,0a4.5,4.5 0 1,0 -9.0,0M178.1,372.7a4.5,4.5 0 1,0 9.0,0a4.5,4.5 0 1,0 -9.0,0M178.4,368.7a4.5,4.5 0 1,0 9.0,0a4.5,4.5 0 1,0 -9.0,0M178.4,371.4a4.5,4.5 0 1,0 9.0,0a4.5,4.5 0 1,0 -9.0,0M178.7,379.6a4.5,4.5 0 1,0 9.0,0a4.5,4.5 0 1,0 -9.0,0M178.9,361.9a4.5,4.5 0 1,0 9.0,0a4.5,4.5 0 1,0 -9.0,0M179.0,372.6a4.5,4.5 0 1,0 9.0,0a4.5,4.5 0 1,0 -9.0,0M179.3,371.9a4.5,4.5 0 1,0 9.0,0a4.5,4.5 0 1,0 -9.0,0M179.5,368.5a4.5,4.5 0 1,0 9.0,0a4.5,4.5 0 1,0 -9.0,0M179.7,371.3a4.5,4.5 0 1,0 9.0,0a4.5,4.5 0 1,0 -9.0,0M179.8,376.4a4.5,4.5 0 1,0 9.0,0a4.5,4.5 0 1,0 -9.0,0M180.1,375.1a4.5,4.5 0 1,0 9.0,0a4.5,4.5 0 1,0 -9.0,0M180.2,369.4a4.5,4.5 0 1,0 9.0,0a4.5,4.5 0 1,0 -9.0,0M180.5,370.8a4.5,4.5 0 1,0 9.0,0a4.5,4.5 0 1,0 -9.0,0M180.7,362.8a4.5,4.5 0 1,0 9.0,0a4.5,4.5 0 1,0 -9.0,0M180.8,368.6a4.5,4.5 0 1,0 9.0,0a4.5,4.5 0 1,0 -9.0,0M181.1,362.5a4.5,4.5 0 1,0 9.0,0a4.5,4.5 0 1,0 -9.0,0M181.3,370.2a4.5,4.5 0 1,0 9.0,0a4.5,4.5 0 1,0 -9.0,0M181.4,370.2a4.5,4.5 0 1,0 9.0,0a4.5,4.5 0 1,0 -9.0,0M181.6,368.7a4.5,4.5 0 1,0 9.0,0a4.5,4.5 0 1,0 -9.0,0M181.9,370.1a4.5,4.5 0 1,0 9.0,0a4.5,4.5 0 1,0 -9.0,0M182.1,367.4a4.5,4.5 0 1,0 9.0,0a4.5,4.5 0 1,0 -9.0,0M182.3,369.9a4.5,4.5 0 1,0 9.0,0a4.5,4.5 0 1,0 -9.0,0M182.4,375.0a4.5,4.5 0 1,0 9.0,0a4.5,4.5 0 1,0 -9.0,0M182.6,372.1a4.5,4.5 0 1,0 9.0,0a4.5,4.5 0 1,0 -9.0,0M182.9,359.4a4.5,4.5 0 1,0 9.0,0a4.5,4.5 0 1,0 -9.0,0M182.9,370.4a4.5,4.5 0 1,0 9.0,0a4.5,4.5 0 1,0 -9.0,0M183.1,375.1a4.5,4.5 0 1,0 9.0,0a4.5,4.5 0 1,0 -9.0,0M183.3,365.6a4.5,4.5 0 1,0 9.0,0a4.5,4.5 0 1,0 -9.0,0M183.6,372.7a4.5,4.5 0 1,0 9.0,0a4.5,4.5 0 1,0 -9.0,0M183.8,372.7a4.5,4.5 0 1,0 9.0,0a4.5,4.5 0 1,0 -9.0,0M184.0,362.2a4.5,4.5 0 1,0 9.0,0a4.5,4.5 0 1,0 -9.0,0M184.2,361.1a4.5,4.5 0 1,0 9.0,0a4.5,4.5 0 1,0 -9.0,0M184.3,369.0a4.5,4.5 0 1,0 9.0,0a4.5,4.5 0 1,0 -9.0,0M184.6,367.1a4.5,4.5 0 1,0 9.0,0a4.5,4.5 0 1,0 -9.0,0M184.8,364.2a4.5,4.5 0 1,0 9.0,0a4.5,4.5 0 1,0 -9.0,0M184.9,359.6a4.5,4.5 0 1,0 9.0,0a4.5,4.5 0 1,0 -9.0,0M185.2,366.6a4.5,4.5 0 1,0 9.0,0a4.5,4.5 0 1,0 -9.0,0M185.3,362.0a4.5,4.5 0 1,0 9.0,0a4.5,4.5 0 1,0 -9.0,0M185.6,367.4a4.5,4.5 0 1,0 9.0,0a4.5,4.5 0 1,0 -9.0,0M185.7,367.9a4.5,4.5 0 1,0 9.0,0a4.5,4.5 0 1,0 -9.0,0M186.0,370.3a4.5,4.5 0 1,0 9.0,0a4.5,4.5 0 1,0 -9.0,0M186.2,376.3a4.5,4.5 0 1,0 9.0,0a4.5,4.5 0 1,0 -9.0,0M186.4,361.7a4.5,4.5 0 1,0 9.0,0a4.5,4.5 0 1,0 -9.0,0M186.4,360.8a4.5,4.5 0 1,0 9.0,0a4.5,4.5 0 1,0 -9.0,0M186.7,381.9a4.5,4.5 0 1,0 9.0,0a4.5,4.5 0 1,0 -9.0,0M186.8,367.5a4.5,4.5 0 1,0 9.0,0a4.5,4.5 0 1,0 -9.0,0M187.0,370.4a4.5,4.5 0 1,0 9.0,0a4.5,4.5 0 1,0 -9.0,0M187.3,361.8a4.5,4.5 0 1,0 9.0,0a4.5,4.5 0 1,0 -9.0,0M187.5,374.2a4.5,4.5 0 1,0 9.0,0a4.5,4.5 0 1,0 -9.0,0M187.6,366.7a4.5,4.5 0 1,0 9.0,0a4.5,4.5 0 1,0 -9.0,0M187.8,369.5a4.5,4.5 0 1,0 9.0,0a4.5,4.5 0 1,0 -9.0,0M188.2,366.1a4.5,4.5 0 1,0 9.0,0a4.5,4.5 0 1,0 -9.0,0M188.3,374.3a4.5,4.5 0 1,0 9.0,0a4.5,4.5 0 1,0 -9.0,0M188.4,381.1a4.5,4.5 0 1,0 9.0,0a4.5,4.5 0 1,0 -9.0,0M188.7,379.1a4.5,4.5 0 1,0 9.0,0a4.5,4.5 0 1,0 -9.0,0M189.0,377.0a4.5,4.5 0 1,0 9.0,0a4.5,4.5 0 1,0 -9.0,0M189.2,369.6a4.5,4.5 0 1,0 9.0,0a4.5,4.5 0 1,0 -9.0,0M189.3,373.0a4.5,4.5 0 1,0 9.0,0a4.5,4.5 0 1,0 -9.0,0M189.5,361.9a4.5,4.5 0 1,0 9.0,0a4.5,4.5 0 1,0 -9.0,0M189.7,370.3a4.5,4.5 0 1,0 9.0,0a4.5,4.5 0 1,0 -9.0,0M189.8,366.7a4.5,4.5 0 1,0 9.0,0a4.5,4.5 0 1,0 -9.0,0M190.1,367.6a4.5,4.5 0 1,0 9.0,0a4.5,4.5 0 1,0 -9.0,0M190.2,376.2a4.5,4.5 0 1,0 9.0,0a4.5,4.5 0 1,0 -9.0,0M190.5,371.4a4.5,4.5 0 1,0 9.0,0a4.5,4.5 0 1,0 -9.0,0M190.7,366.0a4.5,4.5 0 1,0 9.0,0a4.5,4.5 0 1,0 -9.0,0M190.9,370.3a4.5,4.5 0 1,0 9.0,0a4.5,4.5 0 1,0 -9.0,0M191.0,366.3a4.5,4.5 0 1,0 9.0,0a4.5,4.5 0 1,0 -9.0,0M191.3,370.9a4.5,4.5 0 1,0 9.0,0a4.5,4.5 0 1,0 -9.0,0M191.5,367.5a4.5,4.5 0 1,0 9.0,0a4.5,4.5 0 1,0 -9.0,0M191.7,371.9a4.5,4.5 0 1,0 9.0,0a4.5,4.5 0 1,0 -9.0,0M191.9,371.3a4.5,4.5 0 1,0 9.0,0a4.5,4.5 0 1,0 -9.0,0M192.0,366.8a4.5,4.5 0 1,0 9.0,0a4.5,4.5 0 1,0 -9.0,0M192.2,369.7a4.5,4.5 0 1,0 9.0,0a4.5,4.5 0 1,0 -9.0,0M192.5,365.5a4.5,4.5 0 1,0 9.0,0a4.5,4.5 0 1,0 -9.0,0M192.7,369.5a4.5,4.5 0 1,0 9.0,0a4.5,4.5 0 1,0 -9.0,0M192.7,368.6a4.5,4.5 0 1,0 9.0,0a4.5,4.5 0 1,0 -9.0,0M192.9,366.1a4.5,4.5 0 1,0 9.0,0a4.5,4.5 0 1,0 -9.0,0M193.2,360.6a4.5,4.5 0 1,0 9.0,0a4.5,4.5 0 1,0 -9.0,0M193.4,361.4a4.5,4.5 0 1,0 9.0,0a4.5,4.5 0 1,0 -9.0,0M193.6,374.7a4.5,4.5 0 1,0 9.0,0a4.5,4.5 0 1,0 -9.0,0M193.9,368.0a4.5,4.5 0 1,0 9.0,0a4.5,4.5 0 1,0 -9.0,0M194.1,357.0a4.5,4.5 0 1,0 9.0,0a4.5,4.5 0 1,0 -9.0,0M194.3,369.0a4.5,4.5 0 1,0 9.0,0a4.5,4.5 0 1,0 -9.0,0M194.4,367.7a4.5,4.5 0 1,0 9.0,0a4.5,4.5 0 1,0 -9.0,0M194.7,375.5a4.5,4.5 0 1,0 9.0,0a4.5,4.5 0 1,0 -9.0,0M194.7,376.5a4.5,4.5 0 1,0 9.0,0a4.5,4.5 0 1,0 -9.0,0M195.0,366.7a4.5,4.5 0 1,0 9.0,0a4.5,4.5 0 1,0 -9.0,0M195.1,367.4a4.5,4.5 0 1,0 9.0,0a4.5,4.5 0 1,0 -9.0,0M195.3,375.6a4.5,4.5 0 1,0 9.0,0a4.5,4.5 0 1,0 -9.0,0M195.5,376.3a4.5,4.5 0 1,0 9.0,0a4.5,4.5 0 1,0 -9.0,0M195.8,380.2a4.5,4.5 0 1,0 9.0,0a4.5,4.5 0 1,0 -9.0,0M196.0,364.5a4.5,4.5 0 1,0 9.0,0a4.5,4.5 0 1,0 -9.0,0M196.3,369.5a4.5,4.5 0 1,0 9.0,0a4.5,4.5 0 1,0 -9.0,0M196.3,363.8a4.5,4.5 0 1,0 9.0,0a4.5,4.5 0 1,0 -9.0,0M196.5,374.4a4.5,4.5 0 1,0 9.0,0a4.5,4.5 0 1,0 -9.0,0M196.8,370.1a4.5,4.5 0 1,0 9.0,0a4.5,4.5 0 1,0 -9.0,0M197.0,363.7a4.5,4.5 0 1,0 9.0,0a4.5,4.5 0 1,0 -9.0,0M197.2,380.0a4.5,4.5 0 1,0 9.0,0a4.5,4.5 0 1,0 -9.0,0M197.4,371.8a4.5,4.5 0 1,0 9.0,0a4.5,4.5 0 1,0 -9.0,0M197.5,361.1a4.5,4.5 0 1,0 9.0,0a4.5,4.5 0 1,0 -9.0,0M197.8,365.6a4.5,4.5 0 1,0 9.0,0a4.5,4.5 0 1,0 -9.0,0M197.9,378.5a4.5,4.5 0 1,0 9.0,0a4.5,4.5 0 1,0 -9.0,0M198.1,373.5a4.5,4.5 0 1,0 9.0,0a4.5,4.5 0 1,0 -9.0,0M198.3,368.5a4.5,4.5 0 1,0 9.0,0a4.5,4.5 0 1,0 -9.0,0M198.6,365.5a4.5,4.5 0 1,0 9.0,0a4.5,4.5 0 1,0 -9.0,0M198.7,378.6a4.5,4.5 0 1,0 9.0,0a4.5,4.5 0 1,0 -9.0,0M199.0,363.9a4.5,4.5 0 1,0 9.0,0a4.5,4.5 0 1,0 -9.0,0M199.0,370.7a4.5,4.5 0 1,0 9.0,0a4.5,4.5 0 1,0 -9.0,0M199.4,375.0a4.5,4.5 0 1,0 9.0,0a4.5,4.5 0 1,0 -9.0,0M199.4,368.7a4.5,4.5 0 1,0 9.0,0a4.5,4.5 0 1,0 -9.0,0M199.8,380.5a4.5,4.5 0 1,0 9.0,0a4.5,4.5 0 1,0 -9.0,0M199.8,359.5a4.5,4.5 0 1,0 9.0,0a4.5,4.5 0 1,0 -9.0,0M200.1,373.5a4.5,4.5 0 1,0 9.0,0a4.5,4.5 0 1,0 -9.0,0M200.3,369.5a4.5,4.5 0 1,0 9.0,0a4.5,4.5 0 1,0 -9.0,0M200.4,364.1a4.5,4.5 0 1,0 9.0,0a4.5,4.5 0 1,0 -9.0,0M200.6,367.7a4.5,4.5 0 1,0 9.0,0a4.5,4.5 0 1,0 -9.0,0M200.8,364.9a4.5,4.5 0 1,0 9.0,0a4.5,4.5 0 1,0 -9.0,0M201.2,363.6a4.5,4.5 0 1,0 9.0,0a4.5,4.5 0 1,0 -9.0,0M201.3,362.1a4.5,4.5 0 1,0 9.0,0a4.5,4.5 0 1,0 -9.0,0M201.5,367.4a4.5,4.5 0 1,0 9.0,0a4.5,4.5 0 1,0 -9.0,0M201.6,363.8a4.5,4.5 0 1,0 9.0,0a4.5,4.5 0 1,0 -9.0,0M201.8,376.0a4.5,4.5 0 1,0 9.0,0a4.5,4.5 0 1,0 -9.0,0M202.0,370.0a4.5,4.5 0 1,0 9.0,0a4.5,4.5 0 1,0 -9.0,0M202.2,370.1a4.5,4.5 0 1,0 9.0,0a4.5,4.5 0 1,0 -9.0,0M202.5,367.6a4.5,4.5 0 1,0 9.0,0a4.5,4.5 0 1,0 -9.0,0M202.6,381.3a4.5,4.5 0 1,0 9.0,0a4.5,4.5 0 1,0 -9.0,0M202.8,367.0a4.5,4.5 0 1,0 9.0,0a4.5,4.5 0 1,0 -9.0,0M203.1,376.2a4.5,4.5 0 1,0 9.0,0a4.5,4.5 0 1,0 -9.0,0M203.2,369.0a4.5,4.5 0 1,0 9.0,0a4.5,4.5 0 1,0 -9.0,0M203.5,366.3a4.5,4.5 0 1,0 9.0,0a4.5,4.5 0 1,0 -9.0,0M203.6,370.3a4.5,4.5 0 1,0 9.0,0a4.5,4.5 0 1,0 -9.0,0M203.9,367.9a4.5,4.5 0 1,0 9.0,0a4.5,4.5 0 1,0 -9.0,0M204.0,377.1a4.5,4.5 0 1,0 9.0,0a4.5,4.5 0 1,0 -9.0,0M204.3,359.4a4.5,4.5 0 1,0 9.0,0a4.5,4.5 0 1,0 -9.0,0M204.4,373.9a4.5,4.5 0 1,0 9.0,0a4.5,4.5 0 1,0 -9.0,0M204.7,369.7a4.5,4.5 0 1,0 9.0,0a4.5,4.5 0 1,0 -9.0,0M204.7,364.4a4.5,4.5 0 1,0 9.0,0a4.5,4.5 0 1,0 -9.0,0M205.0,361.6a4.5,4.5 0 1,0 9.0,0a4.5,4.5 0 1,0 -9.0,0M205.1,371.4a4.5,4.5 0 1,0 9.0,0a4.5,4.5 0 1,0 -9.0,0M205.5,371.9a4.5,4.5 0 1,0 9.0,0a4.5,4.5 0 1,0 -9.0,0M205.6,364.2a4.5,4.5 0 1,0 9.0,0a4.5,4.5 0 1,0 -9.0,0M205.7,362.0a4.5,4.5 0 1,0 9.0,0a4.5,4.5 0 1,0 -9.0,0M205.9,370.7a4.5,4.5 0 1,0 9.0,0a4.5,4.5 0 1,0 -9.0,0M206.1,375.9a4.5,4.5 0 1,0 9.0,0a4.5,4.5 0 1,0 -9.0,0M206.4,367.9a4.5,4.5 0 1,0 9.0,0a4.5,4.5 0 1,0 -9.0,0M206.5,370.7a4.5,4.5 0 1,0 9.0,0a4.5,4.5 0 1,0 -9.0,0M206.8,364.2a4.5,4.5 0 1,0 9.0,0a4.5,4.5 0 1,0 -9.0,0M207.0,373.4a4.5,4.5 0 1,0 9.0,0a4.5,4.5 0 1,0 -9.0,0M207.2,372.8a4.5,4.5 0 1,0 9.0,0a4.5,4.5 0 1,0 -9.0,0M207.3,360.7a4.5,4.5 0 1,0 9.0,0a4.5,4.5 0 1,0 -9.0,0M207.5,377.5a4.5,4.5 0 1,0 9.0,0a4.5,4.5 0 1,0 -9.0,0M207.7,370.7a4.5,4.5 0 1,0 9.0,0a4.5,4.5 0 1,0 -9.0,0M207.9,376.2a4.5,4.5 0 1,0 9.0,0a4.5,4.5 0 1,0 -9.0,0M208.2,371.9a4.5,4.5 0 1,0 9.0,0a4.5,4.5 0 1,0 -9.0,0M208.3,362.5a4.5,4.5 0 1,0 9.0,0a4.5,4.5 0 1,0 -9.0,0M208.5,358.0a4.5,4.5 0 1,0 9.0,0a4.5,4.5 0 1,0 -9.0,0M208.7,366.2a4.5,4.5 0 1,0 9.0,0a4.5,4.5 0 1,0 -9.0,0M208.9,370.7a4.5,4.5 0 1,0 9.0,0a4.5,4.5 0 1,0 -9.0,0M209.2,372.3a4.5,4.5 0 1,0 9.0,0a4.5,4.5 0 1,0 -9.0,0M209.3,371.3a4.5,4.5 0 1,0 9.0,0a4.5,4.5 0 1,0 -9.0,0M209.5,370.3a4.5,4.5 0 1,0 9.0,0a4.5,4.5 0 1,0 -9.0,0M209.7,376.9a4.5,4.5 0 1,0 9.0,0a4.5,4.5 0 1,0 -9.0,0M209.8,364.3a4.5,4.5 0 1,0 9.0,0a4.5,4.5 0 1,0 -9.0,0M210.2,375.4a4.5,4.5 0 1,0 9.0,0a4.5,4.5 0 1,0 -9.0,0M210.3,373.9a4.5,4.5 0 1,0 9.0,0a4.5,4.5 0 1,0 -9.0,0M210.6,371.6a4.5,4.5 0 1,0 9.0,0a4.5,4.5 0 1,0 -9.0,0M210.7,381.7a4.5,4.5 0 1,0 9.0,0a4.5,4.5 0 1,0 -9.0,0M211.0,380.1a4.5,4.5 0 1,0 9.0,0a4.5,4.5 0 1,0 -9.0,0M211.1,369.7a4.5,4.5 0 1,0 9.0,0a4.5,4.5 0 1,0 -9.0,0M211.4,373.7a4.5,4.5 0 1,0 9.0,0a4.5,4.5 0 1,0 -9.0,0M211.4,374.2a4.5,4.5 0 1,0 9.0,0a4.5,4.5 0 1,0 -9.0,0M211.8,372.1a4.5,4.5 0 1,0 9.0,0a4.5,4.5 0 1,0 -9.0,0M211.9,369.1a4.5,4.5 0 1,0 9.0,0a4.5,4.5 0 1,0 -9.0,0M212.1,366.7a4.5,4.5 0 1,0 9.0,0a4.5,4.5 0 1,0 -9.0,0M212.2,372.3a4.5,4.5 0 1,0 9.0,0a4.5,4.5 0 1,0 -9.0,0M212.4,379.3a4.5,4.5 0 1,0 9.0,0a4.5,4.5 0 1,0 -9.0,0M212.6,377.4a4.5,4.5 0 1,0 9.0,0a4.5,4.5 0 1,0 -9.0,0M212.8,368.6a4.5,4.5 0 1,0 9.0,0a4.5,4.5 0 1,0 -9.0,0M213.0,364.6a4.5,4.5 0 1,0 9.0,0a4.5,4.5 0 1,0 -9.0,0M213.2,362.5a4.5,4.5 0 1,0 9.0,0a4.5,4.5 0 1,0 -9.0,0M213.5,368.9a4.5,4.5 0 1,0 9.0,0a4.5,4.5 0 1,0 -9.0,0M213.6,360.7a4.5,4.5 0 1,0 9.0,0a4.5,4.5 0 1,0 -9.0,0M213.9,361.4a4.5,4.5 0 1,0 9.0,0a4.5,4.5 0 1,0 -9.0,0M214.0,363.2a4.5,4.5 0 1,0 9.0,0a4.5,4.5 0 1,0 -9.0,0M214.3,380.2a4.5,4.5 0 1,0 9.0,0a4.5,4.5 0 1,0 -9.0,0M214.5,365.5a4.5,4.5 0 1,0 9.0,0a4.5,4.5 0 1,0 -9.0,0M214.6,373.0a4.5,4.5 0 1,0 9.0,0a4.5,4.5 0 1,0 -9.0,0M214.8,366.9a4.5,4.5 0 1,0 9.0,0a4.5,4.5 0 1,0 -9.0,0M215.1,371.8a4.5,4.5 0 1,0 9.0,0a4.5,4.5 0 1,0 -9.0,0M215.2,367.7a4.5,4.5 0 1,0 9.0,0a4.5,4.5 0 1,0 -9.0,0M215.3,365.8a4.5,4.5 0 1,0 9.0,0a4.5,4.5 0 1,0 -9.0,0M215.6,370.8a4.5,4.5 0 1,0 9.0,0a4.5,4.5 0 1,0 -9.0,0M215.9,361.1a4.5,4.5 0 1,0 9.0,0a4.5,4.5 0 1,0 -9.0,0M216.0,368.9a4.5,4.5 0 1,0 9.0,0a4.5,4.5 0 1,0 -9.0,0M216.3,368.4a4.5,4.5 0 1,0 9.0,0a4.5,4.5 0 1,0 -9.0,0M216.4,361.1a4.5,4.5 0 1,0 9.0,0a4.5,4.5 0 1,0 -9.0,0M216.7,370.6a4.5,4.5 0 1,0 9.0,0a4.5,4.5 0 1,0 -9.0,0M216.8,379.1a4.5,4.5 0 1,0 9.0,0a4.5,4.5 0 1,0 -9.0,0M216.9,368.9a4.5,4.5 0 1,0 9.0,0a4.5,4.5 0 1,0 -9.0,0M217.3,377.6a4.5,4.5 0 1,0 9.0,0a4.5,4.5 0 1,0 -9.0,0M217.4,372.0a4.5,4.5 0 1,0 9.0,0a4.5,4.5 0 1,0 -9.0,0M217.6,364.0a4.5,4.5 0 1,0 9.0,0a4.5,4.5 0 1,0 -9.0,0M217.8,372.9a4.5,4.5 0 1,0 9.0,0a4.5,4.5 0 1,0 -9.0,0M217.9,366.5a4.5,4.5 0 1,0 9.0,0a4.5,4.5 0 1,0 -9.0,0M218.2,372.4a4.5,4.5 0 1,0 9.0,0a4.5,4.5 0 1,0 -9.0,0M218.3,365.2a4.5,4.5 0 1,0 9.0,0a4.5,4.5 0 1,0 -9.0,0M218.6,366.0a4.5,4.5 0 1,0 9.0,0a4.5,4.5 0 1,0 -9.0,0M218.8,368.5a4.5,4.5 0 1,0 9.0,0a4.5,4.5 0 1,0 -9.0,0M218.9,365.7a4.5,4.5 0 1,0 9.0,0a4.5,4.5 0 1,0 -9.0,0M219.1,373.3a4.5,4.5 0 1,0 9.0,0a4.5,4.5 0 1,0 -9.0,0M219.3,368.4a4.5,4.5 0 1,0 9.0,0a4.5,4.5 0 1,0 -9.0,0M219.6,356.7a4.5,4.5 0 1,0 9.0,0a4.5,4.5 0 1,0 -9.0,0M219.7,362.3a4.5,4.5 0 1,0 9.0,0a4.5,4.5 0 1,0 -9.0,0M219.9,374.0a4.5,4.5 0 1,0 9.0,0a4.5,4.5 0 1,0 -9.0,0M220.1,377.5a4.5,4.5 0 1,0 9.0,0a4.5,4.5 0 1,0 -9.0,0M220.3,377.3a4.5,4.5 0 1,0 9.0,0a4.5,4.5 0 1,0 -9.0,0M220.6,362.7a4.5,4.5 0 1,0 9.0,0a4.5,4.5 0 1,0 -9.0,0M220.8,367.4a4.5,4.5 0 1,0 9.0,0a4.5,4.5 0 1,0 -9.0,0M220.9,374.3a4.5,4.5 0 1,0 9.0,0a4.5,4.5 0 1,0 -9.0,0M221.0,375.2a4.5,4.5 0 1,0 9.0,0a4.5,4.5 0 1,0 -9.0,0M221.3,370.0a4.5,4.5 0 1,0 9.0,0a4.5,4.5 0 1,0 -9.0,0M221.6,374.4a4.5,4.5 0 1,0 9.0,0a4.5,4.5 0 1,0 -9.0,0M221.7,364.1a4.5,4.5 0 1,0 9.0,0a4.5,4.5 0 1,0 -9.0,0M222.0,373.0a4.5,4.5 0 1,0 9.0,0a4.5,4.5 0 1,0 -9.0,0M222.1,359.9a4.5,4.5 0 1,0 9.0,0a4.5,4.5 0 1,0 -9.0,0M222.2,369.8a4.5,4.5 0 1,0 9.0,0a4.5,4.5 0 1,0 -9.0,0M222.5,379.6a4.5,4.5 0 1,0 9.0,0a4.5,4.5 0 1,0 -9.0,0M222.8,358.7a4.5,4.5 0 1,0 9.0,0a4.5,4.5 0 1,0 -9.0,0M222.8,376.3a4.5,4.5 0 1,0 9.0,0a4.5,4.5 0 1,0 -9.0,0M223.1,373.9a4.5,4.5 0 1,0 9.0,0a4.5,4.5 0 1,0 -9.0,0M223.2,379.2a4.5,4.5 0 1,0 9.0,0a4.5,4.5 0 1,0 -9.0,0M223.4,363.7a4.5,4.5 0 1,0 9.0,0a4.5,4.5 0 1,0 -9.0,0M223.7,375.8a4.5,4.5 0 1,0 9.0,0a4.5,4.5 0 1,0 -9.0,0M223.8,368.9a4.5,4.5 0 1,0 9.0,0a4.5,4.5 0 1,0 -9.0,0M224.1,359.6a4.5,4.5 0 1,0 9.0,0a4.5,4.5 0 1,0 -9.0,0M224.3,369.7a4.5,4.5 0 1,0 9.0,0a4.5,4.5 0 1,0 -9.0,0M224.5,368.5a4.5,4.5 0 1,0 9.0,0a4.5,4.5 0 1,0 -9.0,0M224.7,366.8a4.5,4.5 0 1,0 9.0,0a4.5,4.5 0 1,0 -9.0,0M224.8,359.6a4.5,4.5 0 1,0 9.0,0a4.5,4.5 0 1,0 -9.0,0M225.1,370.5a4.5,4.5 0 1,0 9.0,0a4.5,4.5 0 1,0 -9.0,0M225.2,364.4a4.5,4.5 0 1,0 9.0,0a4.5,4.5 0 1,0 -9.0,0M225.5,371.3a4.5,4.5 0 1,0 9.0,0a4.5,4.5 0 1,0 -9.0,0M225.7,376.3a4.5,4.5 0 1,0 9.0,0a4.5,4.5 0 1,0 -9.0,0M225.9,370.7a4.5,4.5 0 1,0 9.0,0a4.5,4.5 0 1,0 -9.0,0M226.0,380.7a4.5,4.5 0 1,0 9.0,0a4.5,4.5 0 1,0 -9.0,0M226.3,369.8a4.5,4.5 0 1,0 9.0,0a4.5,4.5 0 1,0 -9.0,0M226.4,365.8a4.5,4.5 0 1,0 9.0,0a4.5,4.5 0 1,0 -9.0,0M226.6,369.2a4.5,4.5 0 1,0 9.0,0a4.5,4.5 0 1,0 -9.0,0M226.7,371.3a4.5,4.5 0 1,0 9.0,0a4.5,4.5 0 1,0 -9.0,0M227.0,366.9a4.5,4.5 0 1,0 9.0,0a4.5,4.5 0 1,0 -9.0,0M227.2,370.7a4.5,4.5 0 1,0 9.0,0a4.5,4.5 0 1,0 -9.0,0M227.5,363.6a4.5,4.5 0 1,0 9.0,0a4.5,4.5 0 1,0 -9.0,0M227.6,366.3a4.5,4.5 0 1,0 9.0,0a4.5,4.5 0 1,0 -9.0,0M227.8,373.0a4.5,4.5 0 1,0 9.0,0a4.5,4.5 0 1,0 -9.0,0M227.9,376.6a4.5,4.5 0 1,0 9.0,0a4.5,4.5 0 1,0 -9.0,0M228.2,373.0a4.5,4.5 0 1,0 9.0,0a4.5,4.5 0 1,0 -9.0,0M228.5,375.1a4.5,4.5 0 1,0 9.0,0a4.5,4.5 0 1,0 -9.0,0M228.6,374.5a4.5,4.5 0 1,0 9.0,0a4.5,4.5 0 1,0 -9.0,0M228.8,360.8a4.5,4.5 0 1,0 9.0,0a4.5,4.5 0 1,0 -9.0,0M229.0,373.9a4.5,4.5 0 1,0 9.0,0a4.5,4.5 0 1,0 -9.0,0M229.2,368.4a4.5,4.5 0 1,0 9.0,0a4.5,4.5 0 1,0 -9.0,0M229.3,368.9a4.5,4.5 0 1,0 9.0,0a4.5,4.5 0 1,0 -9.0,0M229.6,377.8a4.5,4.5 0 1,0 9.0,0a4.5,4.5 0 1,0 -9.0,0M229.8,357.8a4.5,4.5 0 1,0 9.0,0a4.5,4.5 0 1,0 -9.0,0M229.9,378.0a4.5,4.5 0 1,0 9.0,0a4.5,4.5 0 1,0 -9.0,0M230.2,370.2a4.5,4.5 0 1,0 9.0,0a4.5,4.5 0 1,0 -9.0,0M230.3,370.0a4.5,4.5 0 1,0 9.0,0a4.5,4.5 0 1,0 -9.0,0M230.5,369.7a4.5,4.5 0 1,0 9.0,0a4.5,4.5 0 1,0 -9.0,0M230.8,374.5a4.5,4.5 0 1,0 9.0,0a4.5,4.5 0 1,0 -9.0,0M230.9,369.5a4.5,4.5 0 1,0 9.0,0a4.5,4.5 0 1,0 -9.0,0M231.2,370.8a4.5,4.5 0 1,0 9.0,0a4.5,4.5 0 1,0 -9.0,0M231.3,369.3a4.5,4.5 0 1,0 9.0,0a4.5,4.5 0 1,0 -9.0,0M231.6,373.3a4.5,4.5 0 1,0 9.0,0a4.5,4.5 0 1,0 -9.0,0M231.7,368.7a4.5,4.5 0 1,0 9.0,0a4.5,4.5 0 1,0 -9.0,0M231.9,366.3a4.5,4.5 0 1,0 9.0,0a4.5,4.5 0 1,0 -9.0,0M232.1,376.0a4.5,4.5 0 1,0 9.0,0a4.5,4.5 0 1,0 -9.0,0M232.3,372.2a4.5,4.5 0 1,0 9.0,0a4.5,4.5 0 1,0 -9.0,0M232.5,370.4a4.5,4.5 0 1,0 9.0,0a4.5,4.5 0 1,0 -9.0,0M232.6,361.7a4.5,4.5 0 1,0 9.0,0a4.5,4.5 0 1,0 -9.0,0M232.9,361.8a4.5,4.5 0 1,0 9.0,0a4.5,4.5 0 1,0 -9.0,0M233.2,368.5a4.5,4.5 0 1,0 9.0,0a4.5,4.5 0 1,0 -9.0,0M233.3,363.1a4.5,4.5 0 1,0 9.0,0a4.5,4.5 0 1,0 -9.0,0M233.4,377.5a4.5,4.5 0 1,0 9.0,0a4.5,4.5 0 1,0 -9.0,0M233.6,365.5a4.5,4.5 0 1,0 9.0,0a4.5,4.5 0 1,0 -9.0,0M233.8,367.0a4.5,4.5 0 1,0 9.0,0a4.5,4.5 0 1,0 -9.0,0M234.1,362.9a4.5,4.5 0 1,0 9.0,0a4.5,4.5 0 1,0 -9.0,0M234.2,373.1a4.5,4.5 0 1,0 9.0,0a4.5,4.5 0 1,0 -9.0,0M234.4,357.4a4.5,4.5 0 1,0 9.0,0a4.5,4.5 0 1,0 -9.0,0M234.7,373.4a4.5,4.5 0 1,0 9.0,0a4.5,4.5 0 1,0 -9.0,0M234.9,379.6a4.5,4.5 0 1,0 9.0,0a4.5,4.5 0 1,0 -9.0,0M235.1,369.8a4.5,4.5 0 1,0 9.0,0a4.5,4.5 0 1,0 -9.0,0M235.3,372.5a4.5,4.5 0 1,0 9.0,0a4.5,4.5 0 1,0 -9.0,0M235.5,372.4a4.5,4.5 0 1,0 9.0,0a4.5,4.5 0 1,0 -9.0,0M235.7,372.9a4.5,4.5 0 1,0 9.0,0a4.5,4.5 0 1,0 -9.0,0M235.8,365.9a4.5,4.5 0 1,0 9.0,0a4.5,4.5 0 1,0 -9.0,0M236.0,365.5a4.5,4.5 0 1,0 9.0,0a4.5,4.5 0 1,0 -9.0,0M236.2,358.4a4.5,4.5 0 1,0 9.0,0a4.5,4.5 0 1,0 -9.0,0M236.4,367.1a4.5,4.5 0 1,0 9.0,0a4.5,4.5 0 1,0 -9.0,0M236.7,370.5a4.5,4.5 0 1,0 9.0,0a4.5,4.5 0 1,0 -9.0,0M236.9,375.1a4.5,4.5 0 1,0 9.0,0a4.5,4.5 0 1,0 -9.0,0M237.1,358.1a4.5,4.5 0 1,0 9.0,0a4.5,4.5 0 1,0 -9.0,0M237.2,359.4a4.5,4.5 0 1,0 9.0,0a4.5,4.5 0 1,0 -9.0,0M237.4,366.6a4.5,4.5 0 1,0 9.0,0a4.5,4.5 0 1,0 -9.0,0M237.6,364.8a4.5,4.5 0 1,0 9.0,0a4.5,4.5 0 1,0 -9.0,0M237.8,371.2a4.5,4.5 0 1,0 9.0,0a4.5,4.5 0 1,0 -9.0,0M238.1,381.4a4.5,4.5 0 1,0 9.0,0a4.5,4.5 0 1,0 -9.0,0M238.2,366.2a4.5,4.5 0 1,0 9.0,0a4.5,4.5 0 1,0 -9.0,0M238.4,369.0a4.5,4.5 0 1,0 9.0,0a4.5,4.5 0 1,0 -9.0,0M238.6,367.1a4.5,4.5 0 1,0 9.0,0a4.5,4.5 0 1,0 -9.0,0M238.7,377.4a4.5,4.5 0 1,0 9.0,0a4.5,4.5 0 1,0 -9.0,0M238.9,372.0a4.5,4.5 0 1,0 9.0,0a4.5,4.5 0 1,0 -9.0,0M239.3,375.0a4.5,4.5 0 1,0 9.0,0a4.5,4.5 0 1,0 -9.0,0M239.3,364.0a4.5,4.5 0 1,0 9.0,0a4.5,4.5 0 1,0 -9.0,0M239.5,360.9a4.5,4.5 0 1,0 9.0,0a4.5,4.5 0 1,0 -9.0,0M239.8,369.0a4.5,4.5 0 1,0 9.0,0a4.5,4.5 0 1,0 -9.0,0M240.0,357.5a4.5,4.5 0 1,0 9.0,0a4.5,4.5 0 1,0 -9.0,0M240.1,367.2a4.5,4.5 0 1,0 9.0,0a4.5,4.5 0 1,0 -9.0,0M240.3,363.3a4.5,4.5 0 1,0 9.0,0a4.5,4.5 0 1,0 -9.0,0M240.5,374.6a4.5,4.5 0 1,0 9.0,0a4.5,4.5 0 1,0 -9.0,0M240.8,370.5a4.5,4.5 0 1,0 9.0,0a4.5,4.5 0 1,0 -9.0,0M241.0,375.4a4.5,4.5 0 1,0 9.0,0a4.5,4.5 0 1,0 -9.0,0M241.2,370.3a4.5,4.5 0 1,0 9.0,0a4.5,4.5 0 1,0 -9.0,0M241.4,362.7a4.5,4.5 0 1,0 9.0,0a4.5,4.5 0 1,0 -9.0,0M241.6,378.3a4.5,4.5 0 1,0 9.0,0a4.5,4.5 0 1,0 -9.0,0M241.7,365.5a4.5,4.5 0 1,0 9.0,0a4.5,4.5 0 1,0 -9.0,0M241.9,365.7a4.5,4.5 0 1,0 9.0,0a4.5,4.5 0 1,0 -9.0,0M242.1,365.1a4.5,4.5 0 1,0 9.0,0a4.5,4.5 0 1,0 -9.0,0M242.4,372.5a4.5,4.5 0 1,0 9.0,0a4.5,4.5 0 1,0 -9.0,0M242.5,367.4a4.5,4.5 0 1,0 9.0,0a4.5,4.5 0 1,0 -9.0,0M242.8,368.6a4.5,4.5 0 1,0 9.0,0a4.5,4.5 0 1,0 -9.0,0M243.0,371.9a4.5,4.5 0 1,0 9.0,0a4.5,4.5 0 1,0 -9.0,0M243.2,366.7a4.5,4.5 0 1,0 9.0,0a4.5,4.5 0 1,0 -9.0,0M243.3,370.5a4.5,4.5 0 1,0 9.0,0a4.5,4.5 0 1,0 -9.0,0M243.4,371.6a4.5,4.5 0 1,0 9.0,0a4.5,4.5 0 1,0 -9.0,0M243.7,368.9a4.5,4.5 0 1,0 9.0,0a4.5,4.5 0 1,0 -9.0,0M244.0,371.6a4.5,4.5 0 1,0 9.0,0a4.5,4.5 0 1,0 -9.0,0M244.0,371.9a4.5,4.5 0 1,0 9.0,0a4.5,4.5 0 1,0 -9.0,0M244.2,366.8a4.5,4.5 0 1,0 9.0,0a4.5,4.5 0 1,0 -9.0,0M244.4,374.9a4.5,4.5 0 1,0 9.0,0a4.5,4.5 0 1,0 -9.0,0M244.7,380.0a4.5,4.5 0 1,0 9.0,0a4.5,4.5 0 1,0 -9.0,0M244.9,373.1a4.5,4.5 0 1,0 9.0,0a4.5,4.5 0 1,0 -9.0,0M245.2,373.1a4.5,4.5 0 1,0 9.0,0a4.5,4.5 0 1,0 -9.0,0M245.2,368.7a4.5,4.5 0 1,0 9.0,0a4.5,4.5 0 1,0 -9.0,0M245.6,380.9a4.5,4.5 0 1,0 9.0,0a4.5,4.5 0 1,0 -9.0,0M245.8,372.4a4.5,4.5 0 1,0 9.0,0a4.5,4.5 0 1,0 -9.0,0M245.9,367.5a4.5,4.5 0 1,0 9.0,0a4.5,4.5 0 1,0 -9.0,0M246.1,377.0a4.5,4.5 0 1,0 9.0,0a4.5,4.5 0 1,0 -9.0,0M246.3,372.6a4.5,4.5 0 1,0 9.0,0a4.5,4.5 0 1,0 -9.0,0M246.6,372.7a4.5,4.5 0 1,0 9.0,0a4.5,4.5 0 1,0 -9.0,0M246.6,371.9a4.5,4.5 0 1,0 9.0,0a4.5,4.5 0 1,0 -9.0,0M246.8,363.5a4.5,4.5 0 1,0 9.0,0a4.5,4.5 0 1,0 -9.0,0M247.0,373.5a4.5,4.5 0 1,0 9.0,0a4.5,4.5 0 1,0 -9.0,0M247.2,373.2a4.5,4.5 0 1,0 9.0,0a4.5,4.5 0 1,0 -9.0,0M247.4,364.5a4.5,4.5 0 1,0 9.0,0a4.5,4.5 0 1,0 -9.0,0M247.7,366.9a4.5,4.5 0 1,0 9.0,0a4.5,4.5 0 1,0 -9.0,0M247.8,373.2a4.5,4.5 0 1,0 9.0,0a4.5,4.5 0 1,0 -9.0,0M248.1,375.4a4.5,4.5 0 1,0 9.0,0a4.5,4.5 0 1,0 -9.0,0M248.1,362.5a4.5,4.5 0 1,0 9.0,0a4.5,4.5 0 1,0 -9.0,0M248.5,357.6a4.5,4.5 0 1,0 9.0,0a4.5,4.5 0 1,0 -9.0,0M248.7,360.1a4.5,4.5 0 1,0 9.0,0a4.5,4.5 0 1,0 -9.0,0M248.8,376.9a4.5,4.5 0 1,0 9.0,0a4.5,4.5 0 1,0 -9.0,0M249.0,358.9a4.5,4.5 0 1,0 9.0,0a4.5,4.5 0 1,0 -9.0,0M249.2,364.8a4.5,4.5 0 1,0 9.0,0a4.5,4.5 0 1,0 -9.0,0M249.4,374.0a4.5,4.5 0 1,0 9.0,0a4.5,4.5 0 1,0 -9.0,0M249.5,371.6a4.5,4.5 0 1,0 9.0,0a4.5,4.5 0 1,0 -9.0,0M249.8,359.8a4.5,4.5 0 1,0 9.0,0a4.5,4.5 0 1,0 -9.0,0M250.1,358.4a4.5,4.5 0 1,0 9.0,0a4.5,4.5 0 1,0 -9.0,0M250.2,380.5a4.5,4.5 0 1,0 9.0,0a4.5,4.5 0 1,0 -9.0,0M250.5,363.3a4.5,4.5 0 1,0 9.0,0a4.5,4.5 0 1,0 -9.0,0M250.6,369.8a4.5,4.5 0 1,0 9.0,0a4.5,4.5 0 1,0 -9.0,0M250.7,365.6a4.5,4.5 0 1,0 9.0,0a4.5,4.5 0 1,0 -9.0,0M251.1,363.7a4.5,4.5 0 1,0 9.0,0a4.5,4.5 0 1,0 -9.0,0M251.1,363.3a4.5,4.5 0 1,0 9.0,0a4.5,4.5 0 1,0 -9.0,0M251.4,367.9a4.5,4.5 0 1,0 9.0,0a4.5,4.5 0 1,0 -9.0,0M251.5,377.0a4.5,4.5 0 1,0 9.0,0a4.5,4.5 0 1,0 -9.0,0M251.9,358.1a4.5,4.5 0 1,0 9.0,0a4.5,4.5 0 1,0 -9.0,0M251.9,380.1a4.5,4.5 0 1,0 9.0,0a4.5,4.5 0 1,0 -9.0,0M252.2,365.0a4.5,4.5 0 1,0 9.0,0a4.5,4.5 0 1,0 -9.0,0M252.4,373.6a4.5,4.5 0 1,0 9.0,0a4.5,4.5 0 1,0 -9.0,0M252.6,363.3a4.5,4.5 0 1,0 9.0,0a4.5,4.5 0 1,0 -9.0,0M252.8,371.2a4.5,4.5 0 1,0 9.0,0a4.5,4.5 0 1,0 -9.0,0M253.0,372.7a4.5,4.5 0 1,0 9.0,0a4.5,4.5 0 1,0 -9.0,0M253.1,365.9a4.5,4.5 0 1,0 9.0,0a4.5,4.5 0 1,0 -9.0,0M253.3,374.4a4.5,4.5 0 1,0 9.0,0a4.5,4.5 0 1,0 -9.0,0M253.5,373.1a4.5,4.5 0 1,0 9.0,0a4.5,4.5 0 1,0 -9.0,0M253.8,369.8a4.5,4.5 0 1,0 9.0,0a4.5,4.5 0 1,0 -9.0,0M253.9,372.1a4.5,4.5 0 1,0 9.0,0a4.5,4.5 0 1,0 -9.0,0M254.2,371.9a4.5,4.5 0 1,0 9.0,0a4.5,4.5 0 1,0 -9.0,0M254.3,376.8a4.5,4.5 0 1,0 9.0,0a4.5,4.5 0 1,0 -9.0,0M254.6,375.2a4.5,4.5 0 1,0 9.0,0a4.5,4.5 0 1,0 -9.0,0M254.7,367.7a4.5,4.5 0 1,0 9.0,0a4.5,4.5 0 1,0 -9.0,0M255.0,372.2a4.5,4.5 0 1,0 9.0,0a4.5,4.5 0 1,0 -9.0,0M255.2,364.0a4.5,4.5 0 1,0 9.0,0a4.5,4.5 0 1,0 -9.0,0M255.3,376.7a4.5,4.5 0 1,0 9.0,0a4.5,4.5 0 1,0 -9.0,0M255.6,375.2a4.5,4.5 0 1,0 9.0,0a4.5,4.5 0 1,0 -9.0,0M255.7,362.2a4.5,4.5 0 1,0 9.0,0a4.5,4.5 0 1,0 -9.0,0M256.0,370.1a4.5,4.5 0 1,0 9.0,0a4.5,4.5 0 1,0 -9.0,0M256.1,371.1a4.5,4.5 0 1,0 9.0,0a4.5,4.5 0 1,0 -9.0,0M256.3,375.8a4.5,4.5 0 1,0 9.0,0a4.5,4.5 0 1,0 -9.0,0M256.6,368.2a4.5,4.5 0 1,0 9.0,0a4.5,4.5 0 1,0 -9.0,0M256.8,366.0a4.5,4.5 0 1,0 9.0,0a4.5,4.5 0 1,0 -9.0,0M256.8,363.1a4.5,4.5 0 1,0 9.0,0a4.5,4.5 0 1,0 -9.0,0M257.1,365.4a4.5,4.5 0 1,0 9.0,0a4.5,4.5 0 1,0 -9.0,0M257.3,376.5a4.5,4.5 0 1,0 9.0,0a4.5,4.5 0 1,0 -9.0,0M257.5,374.1a4.5,4.5 0 1,0 9.0,0a4.5,4.5 0 1,0 -9.0,0M257.7,366.3a4.5,4.5 0 1,0 9.0,0a4.5,4.5 0 1,0 -9.0,0M257.9,373.3a4.5,4.5 0 1,0 9.0,0a4.5,4.5 0 1,0 -9.0,0M258.1,372.2a4.5,4.5 0 1,0 9.0,0a4.5,4.5 0 1,0 -9.0,0M258.4,363.1a4.5,4.5 0 1,0 9.0,0a4.5,4.5 0 1,0 -9.0,0M258.5,372.2a4.5,4.5 0 1,0 9.0,0a4.5,4.5 0 1,0 -9.0,0M258.7,371.2a4.5,4.5 0 1,0 9.0,0a4.5,4.5 0 1,0 -9.0,0M258.8,375.1a4.5,4.5 0 1,0 9.0,0a4.5,4.5 0 1,0 -9.0,0M259.1,372.8a4.5,4.5 0 1,0 9.0,0a4.5,4.5 0 1,0 -9.0,0M259.2,377.5a4.5,4.5 0 1,0 9.0,0a4.5,4.5 0 1,0 -9.0,0M259.5,380.3a4.5,4.5 0 1,0 9.0,0a4.5,4.5 0 1,0 -9.0,0M259.7,357.8a4.5,4.5 0 1,0 9.0,0a4.5,4.5 0 1,0 -9.0,0M259.8,364.7a4.5,4.5 0 1,0 9.0,0a4.5,4.5 0 1,0 -9.0,0M260.1,358.2a4.5,4.5 0 1,0 9.0,0a4.5,4.5 0 1,0 -9.0,0M260.3,365.7a4.5,4.5 0 1,0 9.0,0a4.5,4.5 0 1,0 -9.0,0M260.4,373.6a4.5,4.5 0 1,0 9.0,0a4.5,4.5 0 1,0 -9.0,0M260.5,367.2a4.5,4.5 0 1,0 9.0,0a4.5,4.5 0 1,0 -9.0,0M260.8,381.5a4.5,4.5 0 1,0 9.0,0a4.5,4.5 0 1,0 -9.0,0M261.1,360.5a4.5,4.5 0 1,0 9.0,0a4.5,4.5 0 1,0 -9.0,0M261.2,377.6a4.5,4.5 0 1,0 9.0,0a4.5,4.5 0 1,0 -9.0,0M261.3,365.7a4.5,4.5 0 1,0 9.0,0a4.5,4.5 0 1,0 -9.0,0M261.6,371.8a4.5,4.5 0 1,0 9.0,0a4.5,4.5 0 1,0 -9.0,0M261.8,362.5a4.5,4.5 0 1,0 9.0,0a4.5,4.5 0 1,0 -9.0,0M261.9,368.2a4.5,4.5 0 1,0 9.0,0a4.5,4.5 0 1,0 -9.0,0M262.2,376.6a4.5,4.5 0 1,0 9.0,0a4.5,4.5 0 1,0 -9.0,0M262.4,370.0a4.5,4.5 0 1,0 9.0,0a4.5,4.5 0 1,0 -9.0,0M262.6,369.8a4.5,4.5 0 1,0 9.0,0a4.5,4.5 0 1,0 -9.0,0M262.8,369.3a4.5,4.5 0 1,0 9.0,0a4.5,4.5 0 1,0 -9.0,0M262.9,364.3a4.5,4.5 0 1,0 9.0,0a4.5,4.5 0 1,0 -9.0,0M263.2,373.7a4.5,4.5 0 1,0 9.0,0a4.5,4.5 0 1,0 -9.0,0M263.4,377.9a4.5,4.5 0 1,0 9.0,0a4.5,4.5 0 1,0 -9.0,0M263.5,359.8a4.5,4.5 0 1,0 9.0,0a4.5,4.5 0 1,0 -9.0,0M263.8,363.7a4.5,4.5 0 1,0 9.0,0a4.5,4.5 0 1,0 -9.0,0M264.0,368.0a4.5,4.5 0 1,0 9.0,0a4.5,4.5 0 1,0 -9.0,0M264.2,364.0a4.5,4.5 0 1,0 9.0,0a4.5,4.5 0 1,0 -9.0,0M264.4,374.9a4.5,4.5 0 1,0 9.0,0a4.5,4.5 0 1,0 -9.0,0M264.5,371.7a4.5,4.5 0 1,0 9.0,0a4.5,4.5 0 1,0 -9.0,0M264.8,370.8a4.5,4.5 0 1,0 9.0,0a4.5,4.5 0 1,0 -9.0,0M265.0,374.3a4.5,4.5 0 1,0 9.0,0a4.5,4.5 0 1,0 -9.0,0M265.2,375.5a4.5,4.5 0 1,0 9.0,0a4.5,4.5 0 1,0 -9.0,0M265.4,363.3a4.5,4.5 0 1,0 9.0,0a4.5,4.5 0 1,0 -9.0,0M265.5,379.6a4.5,4.5 0 1,0 9.0,0a4.5,4.5 0 1,0 -9.0,0M265.7,373.2a4.5,4.5 0 1,0 9.0,0a4.5,4.5 0 1,0 -9.0,0M265.9,375.5a4.5,4.5 0 1,0 9.0,0a4.5,4.5 0 1,0 -9.0,0M266.1,372.0a4.5,4.5 0 1,0 9.0,0a4.5,4.5 0 1,0 -9.0,0M266.2,373.6a4.5,4.5 0 1,0 9.0,0a4.5,4.5 0 1,0 -9.0,0M266.5,366.1a4.5,4.5 0 1,0 9.0,0a4.5,4.5 0 1,0 -9.0,0M266.6,377.0a4.5,4.5 0 1,0 9.0,0a4.5,4.5 0 1,0 -9.0,0M266.9,376.3a4.5,4.5 0 1,0 9.0,0a4.5,4.5 0 1,0 -9.0,0M267.1,376.8a4.5,4.5 0 1,0 9.0,0a4.5,4.5 0 1,0 -9.0,0M267.2,366.7a4.5,4.5 0 1,0 9.0,0a4.5,4.5 0 1,0 -9.0,0M267.5,372.0a4.5,4.5 0 1,0 9.0,0a4.5,4.5 0 1,0 -9.0,0M267.6,372.8a4.5,4.5 0 1,0 9.0,0a4.5,4.5 0 1,0 -9.0,0M267.9,376.4a4.5,4.5 0 1,0 9.0,0a4.5,4.5 0 1,0 -9.0,0M268.1,367.9a4.5,4.5 0 1,0 9.0,0a4.5,4.5 0 1,0 -9.0,0M268.3,363.0a4.5,4.5 0 1,0 9.0,0a4.5,4.5 0 1,0 -9.0,0M268.5,378.0a4.5,4.5 0 1,0 9.0,0a4.5,4.5 0 1,0 -9.0,0M268.6,375.4a4.5,4.5 0 1,0 9.0,0a4.5,4.5 0 1,0 -9.0,0M268.8,362.5a4.5,4.5 0 1,0 9.0,0a4.5,4.5 0 1,0 -9.0,0M269.1,368.5a4.5,4.5 0 1,0 9.0,0a4.5,4.5 0 1,0 -9.0,0M269.3,362.9a4.5,4.5 0 1,0 9.0,0a4.5,4.5 0 1,0 -9.0,0M269.5,363.3a4.5,4.5 0 1,0 9.0,0a4.5,4.5 0 1,0 -9.0,0M269.6,373.7a4.5,4.5 0 1,0 9.0,0a4.5,4.5 0 1,0 -9.0,0M269.9,363.5a4.5,4.5 0 1,0 9.0,0a4.5,4.5 0 1,0 -9.0,0M270.1,359.7a4.5,4.5 0 1,0 9.0,0a4.5,4.5 0 1,0 -9.0,0M270.2,360.3a4.5,4.5 0 1,0 9.0,0a4.5,4.5 0 1,0 -9.0,0M270.5,379.6a4.5,4.5 0 1,0 9.0,0a4.5,4.5 0 1,0 -9.0,0M270.7,366.6a4.5,4.5 0 1,0 9.0,0a4.5,4.5 0 1,0 -9.0,0M270.9,363.7a4.5,4.5 0 1,0 9.0,0a4.5,4.5 0 1,0 -9.0,0M271.0,365.8a4.5,4.5 0 1,0 9.0,0a4.5,4.5 0 1,0 -9.0,0M271.2,372.0a4.5,4.5 0 1,0 9.0,0a4.5,4.5 0 1,0 -9.0,0M271.5,369.9a4.5,4.5 0 1,0 9.0,0a4.5,4.5 0 1,0 -9.0,0M271.6,367.9a4.5,4.5 0 1,0 9.0,0a4.5,4.5 0 1,0 -9.0,0M271.8,362.7a4.5,4.5 0 1,0 9.0,0a4.5,4.5 0 1,0 -9.0,0M272.1,369.6a4.5,4.5 0 1,0 9.0,0a4.5,4.5 0 1,0 -9.0,0M272.2,366.2a4.5,4.5 0 1,0 9.0,0a4.5,4.5 0 1,0 -9.0,0M272.4,363.2a4.5,4.5 0 1,0 9.0,0a4.5,4.5 0 1,0 -9.0,0M272.6,370.3a4.5,4.5 0 1,0 9.0,0a4.5,4.5 0 1,0 -9.0,0M272.8,370.6a4.5,4.5 0 1,0 9.0,0a4.5,4.5 0 1,0 -9.0,0M273.0,364.1a4.5,4.5 0 1,0 9.0,0a4.5,4.5 0 1,0 -9.0,0M273.2,359.3a4.5,4.5 0 1,0 9.0,0a4.5,4.5 0 1,0 -9.0,0M273.4,381.1a4.5,4.5 0 1,0 9.0,0a4.5,4.5 0 1,0 -9.0,0M273.5,363.0a4.5,4.5 0 1,0 9.0,0a4.5,4.5 0 1,0 -9.0,0M273.7,380.7a4.5,4.5 0 1,0 9.0,0a4.5,4.5 0 1,0 -9.0,0M274.0,373.9a4.5,4.5 0 1,0 9.0,0a4.5,4.5 0 1,0 -9.0,0M274.1,370.0a4.5,4.5 0 1,0 9.0,0a4.5,4.5 0 1,0 -9.0,0M274.4,372.4a4.5,4.5 0 1,0 9.0,0a4.5,4.5 0 1,0 -9.0,0M274.5,373.4a4.5,4.5 0 1,0 9.0,0a4.5,4.5 0 1,0 -9.0,0M274.7,368.2a4.5,4.5 0 1,0 9.0,0a4.5,4.5 0 1,0 -9.0,0M275.0,358.3a4.5,4.5 0 1,0 9.0,0a4.5,4.5 0 1,0 -9.0,0M275.2,364.4a4.5,4.5 0 1,0 9.0,0a4.5,4.5 0 1,0 -9.0,0M275.3,376.1a4.5,4.5 0 1,0 9.0,0a4.5,4.5 0 1,0 -9.0,0M275.5,366.0a4.5,4.5 0 1,0 9.0,0a4.5,4.5 0 1,0 -9.0,0M275.8,373.8a4.5,4.5 0 1,0 9.0,0a4.5,4.5 0 1,0 -9.0,0M275.9,364.0a4.5,4.5 0 1,0 9.0,0a4.5,4.5 0 1,0 -9.0,0M276.2,369.6a4.5,4.5 0 1,0 9.0,0a4.5,4.5 0 1,0 -9.0,0M276.4,360.0a4.5,4.5 0 1,0 9.0,0a4.5,4.5 0 1,0 -9.0,0M276.4,372.8a4.5,4.5 0 1,0 9.0,0a4.5,4.5 0 1,0 -9.0,0M276.6,370.6a4.5,4.5 0 1,0 9.0,0a4.5,4.5 0 1,0 -9.0,0M277.0,367.1a4.5,4.5 0 1,0 9.0,0a4.5,4.5 0 1,0 -9.0,0M277.1,366.9a4.5,4.5 0 1,0 9.0,0a4.5,4.5 0 1,0 -9.0,0M277.3,361.3a4.5,4.5 0 1,0 9.0,0a4.5,4.5 0 1,0 -9.0,0M277.6,362.8a4.5,4.5 0 1,0 9.0,0a4.5,4.5 0 1,0 -9.0,0M277.7,376.8a4.5,4.5 0 1,0 9.0,0a4.5,4.5 0 1,0 -9.0,0M277.9,368.4a4.5,4.5 0 1,0 9.0,0a4.5,4.5 0 1,0 -9.0,0M278.1,371.5a4.5,4.5 0 1,0 9.0,0a4.5,4.5 0 1,0 -9.0,0M278.4,368.2a4.5,4.5 0 1,0 9.0,0a4.5,4.5 0 1,0 -9.0,0M278.4,365.2a4.5,4.5 0 1,0 9.0,0a4.5,4.5 0 1,0 -9.0,0M278.6,362.6a4.5,4.5 0 1,0 9.0,0a4.5,4.5 0 1,0 -9.0,0M278.8,378.6a4.5,4.5 0 1,0 9.0,0a4.5,4.5 0 1,0 -9.0,0M279.1,368.6a4.5,4.5 0 1,0 9.0,0a4.5,4.5 0 1,0 -9.0,0M279.3,367.7a4.5,4.5 0 1,0 9.0,0a4.5,4.5 0 1,0 -9.0,0M279.5,362.6a4.5,4.5 0 1,0 9.0,0a4.5,4.5 0 1,0 -9.0,0M279.8,365.9a4.5,4.5 0 1,0 9.0,0a4.5,4.5 0 1,0 -9.0,0M279.9,365.7a4.5,4.5 0 1,0 9.0,0a4.5,4.5 0 1,0 -9.0,0M280.2,375.4a4.5,4.5 0 1,0 9.0,0a4.5,4.5 0 1,0 -9.0,0M280.3,377.1a4.5,4.5 0 1,0 9.0,0a4.5,4.5 0 1,0 -9.0,0M280.4,364.8a4.5,4.5 0 1,0 9.0,0a4.5,4.5 0 1,0 -9.0,0M280.6,361.4a4.5,4.5 0 1,0 9.0,0a4.5,4.5 0 1,0 -9.0,0M280.8,376.6a4.5,4.5 0 1,0 9.0,0a4.5,4.5 0 1,0 -9.0,0M281.1,371.3a4.5,4.5 0 1,0 9.0,0a4.5,4.5 0 1,0 -9.0,0M281.2,361.2a4.5,4.5 0 1,0 9.0,0a4.5,4.5 0 1,0 -9.0,0M281.5,360.5a4.5,4.5 0 1,0 9.0,0a4.5,4.5 0 1,0 -9.0,0M281.7,374.8a4.5,4.5 0 1,0 9.0,0a4.5,4.5 0 1,0 -9.0,0M281.9,379.0a4.5,4.5 0 1,0 9.0,0a4.5,4.5 0 1,0 -9.0,0M282.1,378.1a4.5,4.5 0 1,0 9.0,0a4.5,4.5 0 1,0 -9.0,0M282.2,365.2a4.5,4.5 0 1,0 9.0,0a4.5,4.5 0 1,0 -9.0,0M282.4,367.6a4.5,4.5 0 1,0 9.0,0a4.5,4.5 0 1,0 -9.0,0M282.7,372.5a4.5,4.5 0 1,0 9.0,0a4.5,4.5 0 1,0 -9.0,0M282.9,356.8a4.5,4.5 0 1,0 9.0,0a4.5,4.5 0 1,0 -9.0,0M283.1,364.5a4.5,4.5 0 1,0 9.0,0a4.5,4.5 0 1,0 -9.0,0M283.2,380.1a4.5,4.5 0 1,0 9.0,0a4.5,4.5 0 1,0 -9.0,0M283.4,376.9a4.5,4.5 0 1,0 9.0,0a4.5,4.5 0 1,0 -9.0,0M283.6,381.0a4.5,4.5 0 1,0 9.0,0a4.5,4.5 0 1,0 -9.0,0M283.8,372.0a4.5,4.5 0 1,0 9.0,0a4.5,4.5 0 1,0 -9.0,0M284.1,368.0a4.5,4.5 0 1,0 9.0,0a4.5,4.5 0 1,0 -9.0,0M284.2,376.4a4.5,4.5 0 1,0 9.0,0a4.5,4.5 0 1,0 -9.0,0M284.4,378.9a4.5,4.5 0 1,0 9.0,0a4.5,4.5 0 1,0 -9.0,0M284.7,363.1a4.5,4.5 0 1,0 9.0,0a4.5,4.5 0 1,0 -9.0,0M284.9,365.6a4.5,4.5 0 1,0 9.0,0a4.5,4.5 0 1,0 -9.0,0M284.9,370.0a4.5,4.5 0 1,0 9.0,0a4.5,4.5 0 1,0 -9.0,0M285.1,366.2a4.5,4.5 0 1,0 9.0,0a4.5,4.5 0 1,0 -9.0,0M285.3,374.6a4.5,4.5 0 1,0 9.0,0a4.5,4.5 0 1,0 -9.0,0M285.6,363.9a4.5,4.5 0 1,0 9.0,0a4.5,4.5 0 1,0 -9.0,0M285.7,368.2a4.5,4.5 0 1,0 9.0,0a4.5,4.5 0 1,0 -9.0,0M285.9,359.4a4.5,4.5 0 1,0 9.0,0a4.5,4.5 0 1,0 -9.0,0M286.2,368.5a4.5,4.5 0 1,0 9.0,0a4.5,4.5 0 1,0 -9.0,0M286.4,364.6a4.5,4.5 0 1,0 9.0,0a4.5,4.5 0 1,0 -9.0,0M286.5,358.6a4.5,4.5 0 1,0 9.0,0a4.5,4.5 0 1,0 -9.0,0M286.8,380.8a4.5,4.5 0 1,0 9.0,0a4.5,4.5 0 1,0 -9.0,0M287.0,361.2a4.5,4.5 0 1,0 9.0,0a4.5,4.5 0 1,0 -9.0,0M287.2,373.4a4.5,4.5 0 1,0 9.0,0a4.5,4.5 0 1,0 -9.0,0M287.4,373.2a4.5,4.5 0 1,0 9.0,0a4.5,4.5 0 1,0 -9.0,0M287.5,376.9a4.5,4.5 0 1,0 9.0,0a4.5,4.5 0 1,0 -9.0,0M287.7,367.0a4.5,4.5 0 1,0 9.0,0a4.5,4.5 0 1,0 -9.0,0M288.0,375.9a4.5,4.5 0 1,0 9.0,0a4.5,4.5 0 1,0 -9.0,0M288.0,377.7a4.5,4.5 0 1,0 9.0,0a4.5,4.5 0 1,0 -9.0,0M288.4,358.3a4.5,4.5 0 1,0 9.0,0a4.5,4.5 0 1,0 -9.0,0M288.4,366.5a4.5,4.5 0 1,0 9.0,0a4.5,4.5 0 1,0 -9.0,0M288.7,365.6a4.5,4.5 0 1,0 9.0,0a4.5,4.5 0 1,0 -9.0,0M289.0,373.1a4.5,4.5 0 1,0 9.0,0a4.5,4.5 0 1,0 -9.0,0M289.0,366.4a4.5,4.5 0 1,0 9.0,0a4.5,4.5 0 1,0 -9.0,0M289.4,369.8a4.5,4.5 0 1,0 9.0,0a4.5,4.5 0 1,0 -9.0,0M289.6,377.0a4.5,4.5 0 1,0 9.0,0a4.5,4.5 0 1,0 -9.0,0M289.7,371.1a4.5,4.5 0 1,0 9.0,0a4.5,4.5 0 1,0 -9.0,0M289.9,368.6a4.5,4.5 0 1,0 9.0,0a4.5,4.5 0 1,0 -9.0,0M290.2,363.0a4.5,4.5 0 1,0 9.0,0a4.5,4.5 0 1,0 -9.0,0M290.2,377.8a4.5,4.5 0 1,0 9.0,0a4.5,4.5 0 1,0 -9.0,0M290.4,379.1a4.5,4.5 0 1,0 9.0,0a4.5,4.5 0 1,0 -9.0,0M290.6,363.1a4.5,4.5 0 1,0 9.0,0a4.5,4.5 0 1,0 -9.0,0M290.8,369.4a4.5,4.5 0 1,0 9.0,0a4.5,4.5 0 1,0 -9.0,0M291.2,357.3a4.5,4.5 0 1,0 9.0,0a4.5,4.5 0 1,0 -9.0,0M291.2,371.4a4.5,4.5 0 1,0 9.0,0a4.5,4.5 0 1,0 -9.0,0M291.6,372.1a4.5,4.5 0 1,0 9.0,0a4.5,4.5 0 1,0 -9.0,0M291.7,381.2a4.5,4.5 0 1,0 9.0,0a4.5,4.5 0 1,0 -9.0,0M291.9,367.2a4.5,4.5 0 1,0 9.0,0a4.5,4.5 0 1,0 -9.0,0M292.1,374.0a4.5,4.5 0 1,0 9.0,0a4.5,4.5 0 1,0 -9.0,0M292.2,363.4a4.5,4.5 0 1,0 9.0,0a4.5,4.5 0 1,0 -9.0,0M292.5,373.0a4.5,4.5 0 1,0 9.0,0a4.5,4.5 0 1,0 -9.0,0M292.7,359.4a4.5,4.5 0 1,0 9.0,0a4.5,4.5 0 1,0 -9.0,0M292.8,356.7a4.5,4.5 0 1,0 9.0,0a4.5,4.5 0 1,0 -9.0,0M293.1,372.4a4.5,4.5 0 1,0 9.0,0a4.5,4.5 0 1,0 -9.0,0M293.3,375.1a4.5,4.5 0 1,0 9.0,0a4.5,4.5 0 1,0 -9.0,0M293.4,378.4a4.5,4.5 0 1,0 9.0,0a4.5,4.5 0 1,0 -9.0,0M293.6,371.3a4.5,4.5 0 1,0 9.0,0a4.5,4.5 0 1,0 -9.0,0M293.8,372.7a4.5,4.5 0 1,0 9.0,0a4.5,4.5 0 1,0 -9.0,0M294.0,368.7a4.5,4.5 0 1,0 9.0,0a4.5,4.5 0 1,0 -9.0,0M294.2,376.1a4.5,4.5 0 1,0 9.0,0a4.5,4.5 0 1,0 -9.0,0M294.5,365.9a4.5,4.5 0 1,0 9.0,0a4.5,4.5 0 1,0 -9.0,0M294.7,367.2a4.5,4.5 0 1,0 9.0,0a4.5,4.5 0 1,0 -9.0,0M294.8,364.5a4.5,4.5 0 1,0 9.0,0a4.5,4.5 0 1,0 -9.0,0M294.9,360.4a4.5,4.5 0 1,0 9.0,0a4.5,4.5 0 1,0 -9.0,0M295.2,363.6a4.5,4.5 0 1,0 9.0,0a4.5,4.5 0 1,0 -9.0,0M295.3,367.6a4.5,4.5 0 1,0 9.0,0a4.5,4.5 0 1,0 -9.0,0M295.5,373.5a4.5,4.5 0 1,0 9.0,0a4.5,4.5 0 1,0 -9.0,0M295.8,373.4a4.5,4.5 0 1,0 9.0,0a4.5,4.5 0 1,0 -9.0,0M296.0,379.5a4.5,4.5 0 1,0 9.0,0a4.5,4.5 0 1,0 -9.0,0M296.2,366.0a4.5,4.5 0 1,0 9.0,0a4.5,4.5 0 1,0 -9.0,0M296.5,363.6a4.5,4.5 0 1,0 9.0,0a4.5,4.5 0 1,0 -9.0,0M296.6,362.9a4.5,4.5 0 1,0 9.0,0a4.5,4.5 0 1,0 -9.0,0M296.8,363.3a4.5,4.5 0 1,0 9.0,0a4.5,4.5 0 1,0 -9.0,0M296.9,376.7a4.5,4.5 0 1,0 9.0,0a4.5,4.5 0 1,0 -9.0,0M297.3,370.1a4.5,4.5 0 1,0 9.0,0a4.5,4.5 0 1,0 -9.0,0M297.3,378.3a4.5,4.5 0 1,0 9.0,0a4.5,4.5 0 1,0 -9.0,0M297.5,369.9a4.5,4.5 0 1,0 9.0,0a4.5,4.5 0 1,0 -9.0,0M297.8,379.2a4.5,4.5 0 1,0 9.0,0a4.5,4.5 0 1,0 -9.0,0M298.0,378.4a4.5,4.5 0 1,0 9.0,0a4.5,4.5 0 1,0 -9.0,0M298.2,359.7a4.5,4.5 0 1,0 9.0,0a4.5,4.5 0 1,0 -9.0,0M298.4,369.3a4.5,4.5 0 1,0 9.0,0a4.5,4.5 0 1,0 -9.0,0M298.5,369.0a4.5,4.5 0 1,0 9.0,0a4.5,4.5 0 1,0 -9.0,0M298.7,375.4a4.5,4.5 0 1,0 9.0,0a4.5,4.5 0 1,0 -9.0,0M298.9,368.2a4.5,4.5 0 1,0 9.0,0a4.5,4.5 0 1,0 -9.0,0M299.0,377.0a4.5,4.5 0 1,0 9.0,0a4.5,4.5 0 1,0 -9.0,0M299.3,369.9a4.5,4.5 0 1,0 9.0,0a4.5,4.5 0 1,0 -9.0,0M299.5,368.4a4.5,4.5 0 1,0 9.0,0a4.5,4.5 0 1,0 -9.0,0M299.7,371.0a4.5,4.5 0 1,0 9.0,0a4.5,4.5 0 1,0 -9.0,0M300.0,366.6a4.5,4.5 0 1,0 9.0,0a4.5,4.5 0 1,0 -9.0,0M300.1,375.6a4.5,4.5 0 1,0 9.0,0a4.5,4.5 0 1,0 -9.0,0M300.3,363.6a4.5,4.5 0 1,0 9.0,0a4.5,4.5 0 1,0 -9.0,0M300.6,360.4a4.5,4.5 0 1,0 9.0,0a4.5,4.5 0 1,0 -9.0,0M300.6,375.5a4.5,4.5 0 1,0 9.0,0a4.5,4.5 0 1,0 -9.0,0M301.0,372.8a4.5,4.5 0 1,0 9.0,0a4.5,4.5 0 1,0 -9.0,0M301.1,369.0a4.5,4.5 0 1,0 9.0,0a4.5,4.5 0 1,0 -9.0,0M301.2,373.4a4.5,4.5 0 1,0 9.0,0a4.5,4.5 0 1,0 -9.0,0M301.5,374.7a4.5,4.5 0 1,0 9.0,0a4.5,4.5 0 1,0 -9.0,0M301.8,368.6a4.5,4.5 0 1,0 9.0,0a4.5,4.5 0 1,0 -9.0,0M301.9,367.0a4.5,4.5 0 1,0 9.0,0a4.5,4.5 0 1,0 -9.0,0M302.1,366.0a4.5,4.5 0 1,0 9.0,0a4.5,4.5 0 1,0 -9.0,0M302.3,359.9a4.5,4.5 0 1,0 9.0,0a4.5,4.5 0 1,0 -9.0,0M302.4,381.0a4.5,4.5 0 1,0 9.0,0a4.5,4.5 0 1,0 -9.0,0M302.6,371.6a4.5,4.5 0 1,0 9.0,0a4.5,4.5 0 1,0 -9.0,0M302.9,372.7a4.5,4.5 0 1,0 9.0,0a4.5,4.5 0 1,0 -9.0,0M303.1,373.8a4.5,4.5 0 1,0 9.0,0a4.5,4.5 0 1,0 -9.0,0M303.3,376.4a4.5,4.5 0 1,0 9.0,0a4.5,4.5 0 1,0 -9.0,0M303.5,361.9a4.5,4.5 0 1,0 9.0,0a4.5,4.5 0 1,0 -9.0,0M303.6,374.0a4.5,4.5 0 1,0 9.0,0a4.5,4.5 0 1,0 -9.0,0M303.8,364.9a4.5,4.5 0 1,0 9.0,0a4.5,4.5 0 1,0 -9.0,0M304.1,371.8a4.5,4.5 0 1,0 9.0,0a4.5,4.5 0 1,0 -9.0,0M304.2,371.7a4.5,4.5 0 1,0 9.0,0a4.5,4.5 0 1,0 -9.0,0M304.4,364.7a4.5,4.5 0 1,0 9.0,0a4.5,4.5 0 1,0 -9.0,0M304.6,364.6a4.5,4.5 0 1,0 9.0,0a4.5,4.5 0 1,0 -9.0,0M304.9,373.5a4.5,4.5 0 1,0 9.0,0a4.5,4.5 0 1,0 -9.0,0M305.0,363.0a4.5,4.5 0 1,0 9.0,0a4.5,4.5 0 1,0 -9.0,0M305.2,357.8a4.5,4.5 0 1,0 9.0,0a4.5,4.5 0 1,0 -9.0,0M305.4,377.9a4.5,4.5 0 1,0 9.0,0a4.5,4.5 0 1,0 -9.0,0M305.6,365.0a4.5,4.5 0 1,0 9.0,0a4.5,4.5 0 1,0 -9.0,0M305.7,374.9a4.5,4.5 0 1,0 9.0,0a4.5,4.5 0 1,0 -9.0,0M305.9,372.5a4.5,4.5 0 1,0 9.0,0a4.5,4.5 0 1,0 -9.0,0M306.2,364.1a4.5,4.5 0 1,0 9.0,0a4.5,4.5 0 1,0 -9.0,0M306.4,372.2a4.5,4.5 0 1,0 9.0,0a4.5,4.5 0 1,0 -9.0,0M306.7,369.5a4.5,4.5 0 1,0 9.0,0a4.5,4.5 0 1,0 -9.0,0M306.8,373.5a4.5,4.5 0 1,0 9.0,0a4.5,4.5 0 1,0 -9.0,0M307.0,378.6a4.5,4.5 0 1,0 9.0,0a4.5,4.5 0 1,0 -9.0,0M307.2,363.5a4.5,4.5 0 1,0 9.0,0a4.5,4.5 0 1,0 -9.0,0M307.3,372.8a4.5,4.5 0 1,0 9.0,0a4.5,4.5 0 1,0 -9.0,0M307.7,370.4a4.5,4.5 0 1,0 9.0,0a4.5,4.5 0 1,0 -9.0,0M307.8,374.8a4.5,4.5 0 1,0 9.0,0a4.5,4.5 0 1,0 -9.0,0M307.9,377.6a4.5,4.5 0 1,0 9.0,0a4.5,4.5 0 1,0 -9.0,0M308.2,367.7a4.5,4.5 0 1,0 9.0,0a4.5,4.5 0 1,0 -9.0,0M308.4,372.2a4.5,4.5 0 1,0 9.0,0a4.5,4.5 0 1,0 -9.0,0M308.6,365.2a4.5,4.5 0 1,0 9.0,0a4.5,4.5 0 1,0 -9.0,0M308.8,369.1a4.5,4.5 0 1,0 9.0,0a4.5,4.5 0 1,0 -9.0,0M308.9,367.8a4.5,4.5 0 1,0 9.0,0a4.5,4.5 0 1,0 -9.0,0M309.2,366.8a4.5,4.5 0 1,0 9.0,0a4.5,4.5 0 1,0 -9.0,0M309.3,370.6a4.5,4.5 0 1,0 9.0,0a4.5,4.5 0 1,0 -9.0,0M309.5,376.4a4.5,4.5 0 1,0 9.0,0a4.5,4.5 0 1,0 -9.0,0M309.7,360.8a4.5,4.5 0 1,0 9.0,0a4.5,4.5 0 1,0 -9.0,0M309.9,368.3a4.5,4.5 0 1,0 9.0,0a4.5,4.5 0 1,0 -9.0,0M310.1,379.8a4.5,4.5 0 1,0 9.0,0a4.5,4.5 0 1,0 -9.0,0M310.3,366.6a4.5,4.5 0 1,0 9.0,0a4.5,4.5 0 1,0 -9.0,0M310.5,362.5a4.5,4.5 0 1,0 9.0,0a4.5,4.5 0 1,0 -9.0,0M310.6,363.7a4.5,4.5 0 1,0 9.0,0a4.5,4.5 0 1,0 -9.0,0M311.0,376.1a4.5,4.5 0 1,0 9.0,0a4.5,4.5 0 1,0 -9.0,0M311.1,374.3a4.5,4.5 0 1,0 9.0,0a4.5,4.5 0 1,0 -9.0,0M311.3,365.4a4.5,4.5 0 1,0 9.0,0a4.5,4.5 0 1,0 -9.0,0M311.6,362.2a4.5,4.5 0 1,0 9.0,0a4.5,4.5 0 1,0 -9.0,0M311.7,381.2a4.5,4.5 0 1,0 9.0,0a4.5,4.5 0 1,0 -9.0,0M311.9,364.2a4.5,4.5 0 1,0 9.0,0a4.5,4.5 0 1,0 -9.0,0M312.0,365.8a4.5,4.5 0 1,0 9.0,0a4.5,4.5 0 1,0 -9.0,0M312.3,369.8a4.5,4.5 0 1,0 9.0,0a4.5,4.5 0 1,0 -9.0,0M312.5,360.4a4.5,4.5 0 1,0 9.0,0a4.5,4.5 0 1,0 -9.0,0M312.6,366.7a4.5,4.5 0 1,0 9.0,0a4.5,4.5 0 1,0 -9.0,0M312.8,357.1a4.5,4.5 0 1,0 9.0,0a4.5,4.5 0 1,0 -9.0,0M313.0,378.1a4.5,4.5 0 1,0 9.0,0a4.5,4.5 0 1,0 -9.0,0M313.3,372.5a4.5,4.5 0 1,0 9.0,0a4.5,4.5 0 1,0 -9.0,0M313.4,367.2a4.5,4.5 0 1,0 9.0,0a4.5,4.5 0 1,0 -9.0,0M313.7,363.1a4.5,4.5 0 1,0 9.0,0a4.5,4.5 0 1,0 -9.0,0M313.8,376.8a4.5,4.5 0 1,0 9.0,0a4.5,4.5 0 1,0 -9.0,0M314.0,368.4a4.5,4.5 0 1,0 9.0,0a4.5,4.5 0 1,0 -9.0,0M314.2,367.3a4.5,4.5 0 1,0 9.0,0a4.5,4.5 0 1,0 -9.0,0M314.5,377.4a4.5,4.5 0 1,0 9.0,0a4.5,4.5 0 1,0 -9.0,0M314.7,381.2a4.5,4.5 0 1,0 9.0,0a4.5,4.5 0 1,0 -9.0,0M314.8,361.8a4.5,4.5 0 1,0 9.0,0a4.5,4.5 0 1,0 -9.0,0M315.0,376.5a4.5,4.5 0 1,0 9.0,0a4.5,4.5 0 1,0 -9.0,0M315.2,360.8a4.5,4.5 0 1,0 9.0,0a4.5,4.5 0 1,0 -9.0,0M315.5,380.7a4.5,4.5 0 1,0 9.0,0a4.5,4.5 0 1,0 -9.0,0M315.6,379.7a4.5,4.5 0 1,0 9.0,0a4.5,4.5 0 1,0 -9.0,0M315.9,362.7a4.5,4.5 0 1,0 9.0,0a4.5,4.5 0 1,0 -9.0,0M316.0,379.3a4.5,4.5 0 1,0 9.0,0a4.5,4.5 0 1,0 -9.0,0M316.3,367.5a4.5,4.5 0 1,0 9.0,0a4.5,4.5 0 1,0 -9.0,0M316.4,372.2a4.5,4.5 0 1,0 9.0,0a4.5,4.5 0 1,0 -9.0,0M316.6,377.4a4.5,4.5 0 1,0 9.0,0a4.5,4.5 0 1,0 -9.0,0M316.8,363.5a4.5,4.5 0 1,0 9.0,0a4.5,4.5 0 1,0 -9.0,0M317.0,375.4a4.5,4.5 0 1,0 9.0,0a4.5,4.5 0 1,0 -9.0,0M317.2,368.0a4.5,4.5 0 1,0 9.0,0a4.5,4.5 0 1,0 -9.0,0M317.4,377.6a4.5,4.5 0 1,0 9.0,0a4.5,4.5 0 1,0 -9.0,0M317.6,367.1a4.5,4.5 0 1,0 9.0,0a4.5,4.5 0 1,0 -9.0,0M317.8,365.6a4.5,4.5 0 1,0 9.0,0a4.5,4.5 0 1,0 -9.0,0M318.0,370.8a4.5,4.5 0 1,0 9.0,0a4.5,4.5 0 1,0 -9.0,0M318.2,358.6a4.5,4.5 0 1,0 9.0,0a4.5,4.5 0 1,0 -9.0,0M318.4,369.5a4.5,4.5 0 1,0 9.0,0a4.5,4.5 0 1,0 -9.0,0M318.6,365.3a4.5,4.5 0 1,0 9.0,0a4.5,4.5 0 1,0 -9.0,0M318.8,373.5a4.5,4.5 0 1,0 9.0,0a4.5,4.5 0 1,0 -9.0,0M319.0,372.8a4.5,4.5 0 1,0 9.0,0a4.5,4.5 0 1,0 -9.0,0M319.2,362.1a4.5,4.5 0 1,0 9.0,0a4.5,4.5 0 1,0 -9.0,0M319.3,363.1a4.5,4.5 0 1,0 9.0,0a4.5,4.5 0 1,0 -9.0,0M319.5,371.4a4.5,4.5 0 1,0 9.0,0a4.5,4.5 0 1,0 -9.0,0M319.7,369.7a4.5,4.5 0 1,0 9.0,0a4.5,4.5 0 1,0 -9.0,0M319.9,358.0a4.5,4.5 0 1,0 9.0,0a4.5,4.5 0 1,0 -9.0,0M320.1,371.6a4.5,4.5 0 1,0 9.0,0a4.5,4.5 0 1,0 -9.0,0M320.4,359.4a4.5,4.5 0 1,0 9.0,0a4.5,4.5 0 1,0 -9.0,0M320.6,367.5a4.5,4.5 0 1,0 9.0,0a4.5,4.5 0 1,0 -9.0,0M320.7,364.2a4.5,4.5 0 1,0 9.0,0a4.5,4.5 0 1,0 -9.0,0M320.9,373.0a4.5,4.5 0 1,0 9.0,0a4.5,4.5 0 1,0 -9.0,0M321.1,360.6a4.5,4.5 0 1,0 9.0,0a4.5,4.5 0 1,0 -9.0,0M321.4,370.2a4.5,4.5 0 1,0 9.0,0a4.5,4.5 0 1,0 -9.0,0M321.5,375.7a4.5,4.5 0 1,0 9.0,0a4.5,4.5 0 1,0 -9.0,0M321.8,368.7a4.5,4.5 0 1,0 9.0,0a4.5,4.5 0 1,0 -9.0,0M321.9,361.3a4.5,4.5 0 1,0 9.0,0a4.5,4.5 0 1,0 -9.0,0M322.1,358.4a4.5,4.5 0 1,0 9.0,0a4.5,4.5 0 1,0 -9.0,0M322.4,370.3a4.5,4.5 0 1,0 9.0,0a4.5,4.5 0 1,0 -9.0,0M322.6,374.5a4.5,4.5 0 1,0 9.0,0a4.5,4.5 0 1,0 -9.0,0M322.7,363.8a4.5,4.5 0 1,0 9.0,0a4.5,4.5 0 1,0 -9.0,0M322.9,373.8a4.5,4.5 0 1,0 9.0,0a4.5,4.5 0 1,0 -9.0,0M323.0,368.7a4.5,4.5 0 1,0 9.0,0a4.5,4.5 0 1,0 -9.0,0M323.3,381.5a4.5,4.5 0 1,0 9.0,0a4.5,4.5 0 1,0 -9.0,0M323.5,363.0a4.5,4.5 0 1,0 9.0,0a4.5,4.5 0 1,0 -9.0,0M323.8,375.1a4.5,4.5 0 1,0 9.0,0a4.5,4.5 0 1,0 -9.0,0M323.8,364.7a4.5,4.5 0 1,0 9.0,0a4.5,4.5 0 1,0 -9.0,0M324.1,366.9a4.5,4.5 0 1,0 9.0,0a4.5,4.5 0 1,0 -9.0,0M324.4,378.0a4.5,4.5 0 1,0 9.0,0a4.5,4.5 0 1,0 -9.0,0M324.5,368.0a4.5,4.5 0 1,0 9.0,0a4.5,4.5 0 1,0 -9.0,0M324.6,381.2a4.5,4.5 0 1,0 9.0,0a4.5,4.5 0 1,0 -9.0,0M324.8,370.2a4.5,4.5 0 1,0 9.0,0a4.5,4.5 0 1,0 -9.0,0M325.0,379.9a4.5,4.5 0 1,0 9.0,0a4.5,4.5 0 1,0 -9.0,0M325.2,375.9a4.5,4.5 0 1,0 9.0,0a4.5,4.5 0 1,0 -9.0,0M325.5,369.2a4.5,4.5 0 1,0 9.0,0a4.5,4.5 0 1,0 -9.0,0M325.7,376.0a4.5,4.5 0 1,0 9.0,0a4.5,4.5 0 1,0 -9.0,0M325.9,376.8a4.5,4.5 0 1,0 9.0,0a4.5,4.5 0 1,0 -9.0,0M326.1,374.2a4.5,4.5 0 1,0 9.0,0a4.5,4.5 0 1,0 -9.0,0M326.3,380.0a4.5,4.5 0 1,0 9.0,0a4.5,4.5 0 1,0 -9.0,0M326.5,376.5a4.5,4.5 0 1,0 9.0,0a4.5,4.5 0 1,0 -9.0,0M326.7,384.7a4.5,4.5 0 1,0 9.0,0a4.5,4.5 0 1,0 -9.0,0M326.8,381.5a4.5,4.5 0 1,0 9.0,0a4.5,4.5 0 1,0 -9.0,0M327.1,376.9a4.5,4.5 0 1,0 9.0,0a4.5,4.5 0 1,0 -9.0,0M327.3,371.9a4.5,4.5 0 1,0 9.0,0a4.5,4.5 0 1,0 -9.0,0M327.4,375.3a4.5,4.5 0 1,0 9.0,0a4.5,4.5 0 1,0 -9.0,0M327.6,369.7a4.5,4.5 0 1,0 9.0,0a4.5,4.5 0 1,0 -9.0,0M327.9,378.8a4.5,4.5 0 1,0 9.0,0a4.5,4.5 0 1,0 -9.0,0M327.9,380.7a4.5,4.5 0 1,0 9.0,0a4.5,4.5 0 1,0 -9.0,0M328.3,375.1a4.5,4.5 0 1,0 9.0,0a4.5,4.5 0 1,0 -9.0,0M328.4,369.7a4.5,4.5 0 1,0 9.0,0a4.5,4.5 0 1,0 -9.0,0M328.5,371.9a4.5,4.5 0 1,0 9.0,0a4.5,4.5 0 1,0 -9.0,0M328.9,377.6a4.5,4.5 0 1,0 9.0,0a4.5,4.5 0 1,0 -9.0,0M329.1,370.4a4.5,4.5 0 1,0 9.0,0a4.5,4.5 0 1,0 -9.0,0M329.2,377.8a4.5,4.5 0 1,0 9.0,0a4.5,4.5 0 1,0 -9.0,0M329.4,375.3a4.5,4.5 0 1,0 9.0,0a4.5,4.5 0 1,0 -9.0,0M329.5,366.9a4.5,4.5 0 1,0 9.0,0a4.5,4.5 0 1,0 -9.0,0M329.9,366.9a4.5,4.5 0 1,0 9.0,0a4.5,4.5 0 1,0 -9.0,0M330.0,366.0a4.5,4.5 0 1,0 9.0,0a4.5,4.5 0 1,0 -9.0,0M330.1,383.7a4.5,4.5 0 1,0 9.0,0a4.5,4.5 0 1,0 -9.0,0M330.3,375.6a4.5,4.5 0 1,0 9.0,0a4.5,4.5 0 1,0 -9.0,0M330.7,368.0a4.5,4.5 0 1,0 9.0,0a4.5,4.5 0 1,0 -9.0,0M330.7,370.8a4.5,4.5 0 1,0 9.0,0a4.5,4.5 0 1,0 -9.0,0M330.9,376.6a4.5,4.5 0 1,0 9.0,0a4.5,4.5 0 1,0 -9.0,0M331.1,381.1a4.5,4.5 0 1,0 9.0,0a4.5,4.5 0 1,0 -9.0,0M331.3,379.1a4.5,4.5 0 1,0 9.0,0a4.5,4.5 0 1,0 -9.0,0M331.6,372.8a4.5,4.5 0 1,0 9.0,0a4.5,4.5 0 1,0 -9.0,0M331.8,379.7a4.5,4.5 0 1,0 9.0,0a4.5,4.5 0 1,0 -9.0,0M332.0,375.0a4.5,4.5 0 1,0 9.0,0a4.5,4.5 0 1,0 -9.0,0M332.1,365.9a4.5,4.5 0 1,0 9.0,0a4.5,4.5 0 1,0 -9.0,0M332.3,385.5a4.5,4.5 0 1,0 9.0,0a4.5,4.5 0 1,0 -9.0,0M332.6,371.5a4.5,4.5 0 1,0 9.0,0a4.5,4.5 0 1,0 -9.0,0M332.8,380.4a4.5,4.5 0 1,0 9.0,0a4.5,4.5 0 1,0 -9.0,0M332.9,374.9a4.5,4.5 0 1,0 9.0,0a4.5,4.5 0 1,0 -9.0,0M333.2,378.4a4.5,4.5 0 1,0 9.0,0a4.5,4.5 0 1,0 -9.0,0M333.3,383.2a4.5,4.5 0 1,0 9.0,0a4.5,4.5 0 1,0 -9.0,0M333.5,382.2a4.5,4.5 0 1,0 9.0,0a4.5,4.5 0 1,0 -9.0,0M333.7,369.1a4.5,4.5 0 1,0 9.0,0a4.5,4.5 0 1,0 -9.0,0M333.9,384.2a4.5,4.5 0 1,0 9.0,0a4.5,4.5 0 1,0 -9.0,0M334.1,372.1a4.5,4.5 0 1,0 9.0,0a4.5,4.5 0 1,0 -9.0,0M334.3,377.9a4.5,4.5 0 1,0 9.0,0a4.5,4.5 0 1,0 -9.0,0M334.5,368.8a4.5,4.5 0 1,0 9.0,0a4.5,4.5 0 1,0 -9.0,0M334.6,377.9a4.5,4.5 0 1,0 9.0,0a4.5,4.5 0 1,0 -9.0,0M335.0,379.0a4.5,4.5 0 1,0 9.0,0a4.5,4.5 0 1,0 -9.0,0M335.1,375.3a4.5,4.5 0 1,0 9.0,0a4.5,4.5 0 1,0 -9.0,0M335.2,373.8a4.5,4.5 0 1,0 9.0,0a4.5,4.5 0 1,0 -9.0,0M335.6,371.2a4.5,4.5 0 1,0 9.0,0a4.5,4.5 0 1,0 -9.0,0M335.7,365.9a4.5,4.5 0 1,0 9.0,0a4.5,4.5 0 1,0 -9.0,0M335.9,376.9a4.5,4.5 0 1,0 9.0,0a4.5,4.5 0 1,0 -9.0,0M336.1,379.6a4.5,4.5 0 1,0 9.0,0a4.5,4.5 0 1,0 -9.0,0M336.3,374.9a4.5,4.5 0 1,0 9.0,0a4.5,4.5 0 1,0 -9.0,0M336.4,385.6a4.5,4.5 0 1,0 9.0,0a4.5,4.5 0 1,0 -9.0,0M336.7,379.4a4.5,4.5 0 1,0 9.0,0a4.5,4.5 0 1,0 -9.0,0M336.8,382.9a4.5,4.5 0 1,0 9.0,0a4.5,4.5 0 1,0 -9.0,0M337.1,380.9a4.5,4.5 0 1,0 9.0,0a4.5,4.5 0 1,0 -9.0,0M337.3,381.5a4.5,4.5 0 1,0 9.0,0a4.5,4.5 0 1,0 -9.0,0M337.4,371.7a4.5,4.5 0 1,0 9.0,0a4.5,4.5 0 1,0 -9.0,0M337.7,385.3a4.5,4.5 0 1,0 9.0,0a4.5,4.5 0 1,0 -9.0,0M337.9,377.2a4.5,4.5 0 1,0 9.0,0a4.5,4.5 0 1,0 -9.0,0M338.0,366.5a4.5,4.5 0 1,0 9.0,0a4.5,4.5 0 1,0 -9.0,0M338.2,379.9a4.5,4.5 0 1,0 9.0,0a4.5,4.5 0 1,0 -9.0,0M338.5,367.6a4.5,4.5 0 1,0 9.0,0a4.5,4.5 0 1,0 -9.0,0M338.6,381.4a4.5,4.5 0 1,0 9.0,0a4.5,4.5 0 1,0 -9.0,0M338.9,373.6a4.5,4.5 0 1,0 9.0,0a4.5,4.5 0 1,0 -9.0,0M339.0,372.8a4.5,4.5 0 1,0 9.0,0a4.5,4.5 0 1,0 -9.0,0M339.1,367.9a4.5,4.5 0 1,0 9.0,0a4.5,4.5 0 1,0 -9.0,0M339.5,374.0a4.5,4.5 0 1,0 9.0,0a4.5,4.5 0 1,0 -9.0,0M339.5,379.5a4.5,4.5 0 1,0 9.0,0a4.5,4.5 0 1,0 -9.0,0M339.7,368.0a4.5,4.5 0 1,0 9.0,0a4.5,4.5 0 1,0 -9.0,0M340.1,380.4a4.5,4.5 0 1,0 9.0,0a4.5,4.5 0 1,0 -9.0,0M340.2,372.7a4.5,4.5 0 1,0 9.0,0a4.5,4.5 0 1,0 -9.0,0M340.3,380.6a4.5,4.5 0 1,0 9.0,0a4.5,4.5 0 1,0 -9.0,0M340.5,371.7a4.5,4.5 0 1,0 9.0,0a4.5,4.5 0 1,0 -9.0,0M340.8,378.0a4.5,4.5 0 1,0 9.0,0a4.5,4.5 0 1,0 -9.0,0M341.0,376.6a4.5,4.5 0 1,0 9.0,0a4.5,4.5 0 1,0 -9.0,0M341.1,378.6a4.5,4.5 0 1,0 9.0,0a4.5,4.5 0 1,0 -9.0,0M341.3,380.4a4.5,4.5 0 1,0 9.0,0a4.5,4.5 0 1,0 -9.0,0M341.7,367.6a4.5,4.5 0 1,0 9.0,0a4.5,4.5 0 1,0 -9.0,0M341.9,380.1a4.5,4.5 0 1,0 9.0,0a4.5,4.5 0 1,0 -9.0,0M341.9,369.8a4.5,4.5 0 1,0 9.0,0a4.5,4.5 0 1,0 -9.0,0M342.2,375.9a4.5,4.5 0 1,0 9.0,0a4.5,4.5 0 1,0 -9.0,0M342.4,378.5a4.5,4.5 0 1,0 9.0,0a4.5,4.5 0 1,0 -9.0,0M342.6,364.9a4.5,4.5 0 1,0 9.0,0a4.5,4.5 0 1,0 -9.0,0M342.7,366.5a4.5,4.5 0 1,0 9.0,0a4.5,4.5 0 1,0 -9.0,0M343.0,378.3a4.5,4.5 0 1,0 9.0,0a4.5,4.5 0 1,0 -9.0,0M343.1,381.3a4.5,4.5 0 1,0 9.0,0a4.5,4.5 0 1,0 -9.0,0M343.3,375.1a4.5,4.5 0 1,0 9.0,0a4.5,4.5 0 1,0 -9.0,0M343.5,373.1a4.5,4.5 0 1,0 9.0,0a4.5,4.5 0 1,0 -9.0,0M343.7,368.9a4.5,4.5 0 1,0 9.0,0a4.5,4.5 0 1,0 -9.0,0M343.9,381.9a4.5,4.5 0 1,0 9.0,0a4.5,4.5 0 1,0 -9.0,0M344.1,373.6a4.5,4.5 0 1,0 9.0,0a4.5,4.5 0 1,0 -9.0,0M344.3,377.4a4.5,4.5 0 1,0 9.0,0a4.5,4.5 0 1,0 -9.0,0M344.6,380.2a4.5,4.5 0 1,0 9.0,0a4.5,4.5 0 1,0 -9.0,0M344.7,370.9a4.5,4.5 0 1,0 9.0,0a4.5,4.5 0 1,0 -9.0,0M344.9,374.4a4.5,4.5 0 1,0 9.0,0a4.5,4.5 0 1,0 -9.0,0M345.1,365.3a4.5,4.5 0 1,0 9.0,0a4.5,4.5 0 1,0 -9.0,0M345.3,384.4a4.5,4.5 0 1,0 9.0,0a4.5,4.5 0 1,0 -9.0,0M345.5,375.0a4.5,4.5 0 1,0 9.0,0a4.5,4.5 0 1,0 -9.0,0M345.6,374.4a4.5,4.5 0 1,0 9.0,0a4.5,4.5 0 1,0 -9.0,0M346.0,369.1a4.5,4.5 0 1,0 9.0,0a4.5,4.5 0 1,0 -9.0,0M346.0,373.9a4.5,4.5 0 1,0 9.0,0a4.5,4.5 0 1,0 -9.0,0M346.3,385.3a4.5,4.5 0 1,0 9.0,0a4.5,4.5 0 1,0 -9.0,0M346.5,371.2a4.5,4.5 0 1,0 9.0,0a4.5,4.5 0 1,0 -9.0,0M346.7,373.2a4.5,4.5 0 1,0 9.0,0a4.5,4.5 0 1,0 -9.0,0M346.8,377.1a4.5,4.5 0 1,0 9.0,0a4.5,4.5 0 1,0 -9.0,0M347.1,370.4a4.5,4.5 0 1,0 9.0,0a4.5,4.5 0 1,0 -9.0,0M347.3,367.6a4.5,4.5 0 1,0 9.0,0a4.5,4.5 0 1,0 -9.0,0M347.4,369.7a4.5,4.5 0 1,0 9.0,0a4.5,4.5 0 1,0 -9.0,0M347.7,371.9a4.5,4.5 0 1,0 9.0,0a4.5,4.5 0 1,0 -9.0,0M347.9,369.9a4.5,4.5 0 1,0 9.0,0a4.5,4.5 0 1,0 -9.0,0M348.0,367.5a4.5,4.5 0 1,0 9.0,0a4.5,4.5 0 1,0 -9.0,0M348.2,381.3a4.5,4.5 0 1,0 9.0,0a4.5,4.5 0 1,0 -9.0,0M348.5,379.8a4.5,4.5 0 1,0 9.0,0a4.5,4.5 0 1,0 -9.0,0M348.6,378.0a4.5,4.5 0 1,0 9.0,0a4.5,4.5 0 1,0 -9.0,0M348.8,378.1a4.5,4.5 0 1,0 9.0,0a4.5,4.5 0 1,0 -9.0,0M349.1,379.1a4.5,4.5 0 1,0 9.0,0a4.5,4.5 0 1,0 -9.0,0M349.2,366.9a4.5,4.5 0 1,0 9.0,0a4.5,4.5 0 1,0 -9.0,0M349.4,376.9a4.5,4.5 0 1,0 9.0,0a4.5,4.5 0 1,0 -9.0,0M349.6,376.2a4.5,4.5 0 1,0 9.0,0a4.5,4.5 0 1,0 -9.0,0M349.9,374.4a4.5,4.5 0 1,0 9.0,0a4.5,4.5 0 1,0 -9.0,0M350.0,378.4a4.5,4.5 0 1,0 9.0,0a4.5,4.5 0 1,0 -9.0,0M350.2,370.7a4.5,4.5 0 1,0 9.0,0a4.5,4.5 0 1,0 -9.0,0M350.5,374.3a4.5,4.5 0 1,0 9.0,0a4.5,4.5 0 1,0 -9.0,0M350.6,374.8a4.5,4.5 0 1,0 9.0,0a4.5,4.5 0 1,0 -9.0,0M350.8,370.5a4.5,4.5 0 1,0 9.0,0a4.5,4.5 0 1,0 -9.0,0M351.0,370.0a4.5,4.5 0 1,0 9.0,0a4.5,4.5 0 1,0 -9.0,0M351.1,381.3a4.5,4.5 0 1,0 9.0,0a4.5,4.5 0 1,0 -9.0,0M351.4,374.0a4.5,4.5 0 1,0 9.0,0a4.5,4.5 0 1,0 -9.0,0M351.6,371.7a4.5,4.5 0 1,0 9.0,0a4.5,4.5 0 1,0 -9.0,0M351.8,383.4a4.5,4.5 0 1,0 9.0,0a4.5,4.5 0 1,0 -9.0,0M352.1,380.5a4.5,4.5 0 1,0 9.0,0a4.5,4.5 0 1,0 -9.0,0M352.1,377.2a4.5,4.5 0 1,0 9.0,0a4.5,4.5 0 1,0 -9.0,0M352.3,382.5a4.5,4.5 0 1,0 9.0,0a4.5,4.5 0 1,0 -9.0,0M352.5,379.7a4.5,4.5 0 1,0 9.0,0a4.5,4.5 0 1,0 -9.0,0M352.7,368.9a4.5,4.5 0 1,0 9.0,0a4.5,4.5 0 1,0 -9.0,0M353.0,377.1a4.5,4.5 0 1,0 9.0,0a4.5,4.5 0 1,0 -9.0,0M353.2,379.3a4.5,4.5 0 1,0 9.0,0a4.5,4.5 0 1,0 -9.0,0M353.3,378.8a4.5,4.5 0 1,0 9.0,0a4.5,4.5 0 1,0 -9.0,0M353.5,383.9a4.5,4.5 0 1,0 9.0,0a4.5,4.5 0 1,0 -9.0,0M353.8,382.3a4.5,4.5 0 1,0 9.0,0a4.5,4.5 0 1,0 -9.0,0M354.1,376.0a4.5,4.5 0 1,0 9.0,0a4.5,4.5 0 1,0 -9.0,0M354.2,377.4a4.5,4.5 0 1,0 9.0,0a4.5,4.5 0 1,0 -9.0,0M354.3,381.8a4.5,4.5 0 1,0 9.0,0a4.5,4.5 0 1,0 -9.0,0M354.5,372.6a4.5,4.5 0 1,0 9.0,0a4.5,4.5 0 1,0 -9.0,0M354.7,383.4a4.5,4.5 0 1,0 9.0,0a4.5,4.5 0 1,0 -9.0,0M354.9,372.8a4.5,4.5 0 1,0 9.0,0a4.5,4.5 0 1,0 -9.0,0M355.1,377.0a4.5,4.5 0 1,0 9.0,0a4.5,4.5 0 1,0 -9.0,0M355.3,378.6a4.5,4.5 0 1,0 9.0,0a4.5,4.5 0 1,0 -9.0,0M355.6,381.9a4.5,4.5 0 1,0 9.0,0a4.5,4.5 0 1,0 -9.0,0M355.7,370.7a4.5,4.5 0 1,0 9.0,0a4.5,4.5 0 1,0 -9.0,0M355.9,367.9a4.5,4.5 0 1,0 9.0,0a4.5,4.5 0 1,0 -9.0,0M356.1,375.8a4.5,4.5 0 1,0 9.0,0a4.5,4.5 0 1,0 -9.0,0M356.4,384.4a4.5,4.5 0 1,0 9.0,0a4.5,4.5 0 1,0 -9.0,0M356.4,365.7a4.5,4.5 0 1,0 9.0,0a4.5,4.5 0 1,0 -9.0,0M356.8,385.3a4.5,4.5 0 1,0 9.0,0a4.5,4.5 0 1,0 -9.0,0M356.9,376.3a4.5,4.5 0 1,0 9.0,0a4.5,4.5 0 1,0 -9.0,0M357.2,371.9a4.5,4.5 0 1,0 9.0,0a4.5,4.5 0 1,0 -9.0,0M357.3,376.2a4.5,4.5 0 1,0 9.0,0a4.5,4.5 0 1,0 -9.0,0M357.5,374.9a4.5,4.5 0 1,0 9.0,0a4.5,4.5 0 1,0 -9.0,0M357.7,370.8a4.5,4.5 0 1,0 9.0,0a4.5,4.5 0 1,0 -9.0,0M357.9,374.7a4.5,4.5 0 1,0 9.0,0a4.5,4.5 0 1,0 -9.0,0M358.1,374.3a4.5,4.5 0 1,0 9.0,0a4.5,4.5 0 1,0 -9.0,0M358.2,370.3a4.5,4.5 0 1,0 9.0,0a4.5,4.5 0 1,0 -9.0,0M358.4,371.9a4.5,4.5 0 1,0 9.0,0a4.5,4.5 0 1,0 -9.0,0M358.7,372.7a4.5,4.5 0 1,0 9.0,0a4.5,4.5 0 1,0 -9.0,0M358.8,371.9a4.5,4.5 0 1,0 9.0,0a4.5,4.5 0 1,0 -9.0,0M359.0,375.2a4.5,4.5 0 1,0 9.0,0a4.5,4.5 0 1,0 -9.0,0M359.3,372.9a4.5,4.5 0 1,0 9.0,0a4.5,4.5 0 1,0 -9.0,0M359.4,374.4a4.5,4.5 0 1,0 9.0,0a4.5,4.5 0 1,0 -9.0,0M359.6,368.9a4.5,4.5 0 1,0 9.0,0a4.5,4.5 0 1,0 -9.0,0M359.8,368.3a4.5,4.5 0 1,0 9.0,0a4.5,4.5 0 1,0 -9.0,0M360.0,375.4a4.5,4.5 0 1,0 9.0,0a4.5,4.5 0 1,0 -9.0,0M360.2,369.8a4.5,4.5 0 1,0 9.0,0a4.5,4.5 0 1,0 -9.0,0M360.4,370.9a4.5,4.5 0 1,0 9.0,0a4.5,4.5 0 1,0 -9.0,0M360.7,377.5a4.5,4.5 0 1,0 9.0,0a4.5,4.5 0 1,0 -9.0,0M360.8,367.5a4.5,4.5 0 1,0 9.0,0a4.5,4.5 0 1,0 -9.0,0M361.0,365.0a4.5,4.5 0 1,0 9.0,0a4.5,4.5 0 1,0 -9.0,0M361.3,374.9a4.5,4.5 0 1,0 9.0,0a4.5,4.5 0 1,0 -9.0,0M361.3,378.8a4.5,4.5 0 1,0 9.0,0a4.5,4.5 0 1,0 -9.0,0M361.6,378.8a4.5,4.5 0 1,0 9.0,0a4.5,4.5 0 1,0 -9.0,0M361.8,372.1a4.5,4.5 0 1,0 9.0,0a4.5,4.5 0 1,0 -9.0,0M362.1,374.8a4.5,4.5 0 1,0 9.0,0a4.5,4.5 0 1,0 -9.0,0M362.2,379.5a4.5,4.5 0 1,0 9.0,0a4.5,4.5 0 1,0 -9.0,0M362.4,369.9a4.5,4.5 0 1,0 9.0,0a4.5,4.5 0 1,0 -9.0,0M362.6,368.8a4.5,4.5 0 1,0 9.0,0a4.5,4.5 0 1,0 -9.0,0M362.7,372.8a4.5,4.5 0 1,0 9.0,0a4.5,4.5 0 1,0 -9.0,0M363.0,380.6a4.5,4.5 0 1,0 9.0,0a4.5,4.5 0 1,0 -9.0,0M363.2,372.5a4.5,4.5 0 1,0 9.0,0a4.5,4.5 0 1,0 -9.0,0M363.4,381.6a4.5,4.5 0 1,0 9.0,0a4.5,4.5 0 1,0 -9.0,0M363.5,372.0a4.5,4.5 0 1,0 9.0,0a4.5,4.5 0 1,0 -9.0,0M363.7,372.9a4.5,4.5 0 1,0 9.0,0a4.5,4.5 0 1,0 -9.0,0M364.0,378.1a4.5,4.5 0 1,0 9.0,0a4.5,4.5 0 1,0 -9.0,0M364.1,378.4a4.5,4.5 0 1,0 9.0,0a4.5,4.5 0 1,0 -9.0,0M364.3,379.5a4.5,4.5 0 1,0 9.0,0a4.5,4.5 0 1,0 -9.0,0M364.5,378.4a4.5,4.5 0 1,0 9.0,0a4.5,4.5 0 1,0 -9.0,0M364.7,383.4a4.5,4.5 0 1,0 9.0,0a4.5,4.5 0 1,0 -9.0,0M365.0,370.9a4.5,4.5 0 1,0 9.0,0a4.5,4.5 0 1,0 -9.0,0M365.1,378.2a4.5,4.5 0 1,0 9.0,0a4.5,4.5 0 1,0 -9.0,0M365.4,378.8a4.5,4.5 0 1,0 9.0,0a4.5,4.5 0 1,0 -9.0,0M365.5,382.2a4.5,4.5 0 1,0 9.0,0a4.5,4.5 0 1,0 -9.0,0M365.8,373.1a4.5,4.5 0 1,0 9.0,0a4.5,4.5 0 1,0 -9.0,0M366.0,377.6a4.5,4.5 0 1,0 9.0,0a4.5,4.5 0 1,0 -9.0,0M366.2,377.0a4.5,4.5 0 1,0 9.0,0a4.5,4.5 0 1,0 -9.0,0M366.4,374.5a4.5,4.5 0 1,0 9.0,0a4.5,4.5 0 1,0 -9.0,0M366.5,369.9a4.5,4.5 0 1,0 9.0,0a4.5,4.5 0 1,0 -9.0,0M366.7,370.2a4.5,4.5 0 1,0 9.0,0a4.5,4.5 0 1,0 -9.0,0M366.9,377.7a4.5,4.5 0 1,0 9.0,0a4.5,4.5 0 1,0 -9.0,0M367.1,373.9a4.5,4.5 0 1,0 9.0,0a4.5,4.5 0 1,0 -9.0,0M367.2,385.4a4.5,4.5 0 1,0 9.0,0a4.5,4.5 0 1,0 -9.0,0M367.6,370.5a4.5,4.5 0 1,0 9.0,0a4.5,4.5 0 1,0 -9.0,0M367.6,375.6a4.5,4.5 0 1,0 9.0,0a4.5,4.5 0 1,0 -9.0,0M367.9,364.3a4.5,4.5 0 1,0 9.0,0a4.5,4.5 0 1,0 -9.0,0M368.1,375.2a4.5,4.5 0 1,0 9.0,0a4.5,4.5 0 1,0 -9.0,0M368.3,379.9a4.5,4.5 0 1,0 9.0,0a4.5,4.5 0 1,0 -9.0,0M368.6,372.0a4.5,4.5 0 1,0 9.0,0a4.5,4.5 0 1,0 -9.0,0M368.8,374.5a4.5,4.5 0 1,0 9.0,0a4.5,4.5 0 1,0 -9.0,0M368.8,379.3a4.5,4.5 0 1,0 9.0,0a4.5,4.5 0 1,0 -9.0,0M369.0,366.6a4.5,4.5 0 1,0 9.0,0a4.5,4.5 0 1,0 -9.0,0M369.4,367.9a4.5,4.5 0 1,0 9.0,0a4.5,4.5 0 1,0 -9.0,0M369.5,365.3a4.5,4.5 0 1,0 9.0,0a4.5,4.5 0 1,0 -9.0,0M369.6,378.3a4.5,4.5 0 1,0 9.0,0a4.5,4.5 0 1,0 -9.0,0M369.8,372.2a4.5,4.5 0 1,0 9.0,0a4.5,4.5 0 1,0 -9.0,0M370.1,378.2a4.5,4.5 0 1,0 9.0,0a4.5,4.5 0 1,0 -9.0,0M370.3,382.8a4.5,4.5 0 1,0 9.0,0a4.5,4.5 0 1,0 -9.0,0M370.4,373.7a4.5,4.5 0 1,0 9.0,0a4.5,4.5 0 1,0 -9.0,0M370.7,372.7a4.5,4.5 0 1,0 9.0,0a4.5,4.5 0 1,0 -9.0,0M370.9,374.7a4.5,4.5 0 1,0 9.0,0a4.5,4.5 0 1,0 -9.0,0M371.0,373.6a4.5,4.5 0 1,0 9.0,0a4.5,4.5 0 1,0 -9.0,0M371.3,369.8a4.5,4.5 0 1,0 9.0,0a4.5,4.5 0 1,0 -9.0,0M371.4,380.2a4.5,4.5 0 1,0 9.0,0a4.5,4.5 0 1,0 -9.0,0M371.7,374.9a4.5,4.5 0 1,0 9.0,0a4.5,4.5 0 1,0 -9.0,0M371.8,365.4a4.5,4.5 0 1,0 9.0,0a4.5,4.5 0 1,0 -9.0,0M372.0,371.0a4.5,4.5 0 1,0 9.0,0a4.5,4.5 0 1,0 -9.0,0M372.3,375.1a4.5,4.5 0 1,0 9.0,0a4.5,4.5 0 1,0 -9.0,0M372.5,379.3a4.5,4.5 0 1,0 9.0,0a4.5,4.5 0 1,0 -9.0,0M372.6,378.3a4.5,4.5 0 1,0 9.0,0a4.5,4.5 0 1,0 -9.0,0M372.9,371.1a4.5,4.5 0 1,0 9.0,0a4.5,4.5 0 1,0 -9.0,0M373.1,370.5a4.5,4.5 0 1,0 9.0,0a4.5,4.5 0 1,0 -9.0,0M373.3,374.1a4.5,4.5 0 1,0 9.0,0a4.5,4.5 0 1,0 -9.0,0M373.4,372.9a4.5,4.5 0 1,0 9.0,0a4.5,4.5 0 1,0 -9.0,0M373.7,381.7a4.5,4.5 0 1,0 9.0,0a4.5,4.5 0 1,0 -9.0,0M373.9,381.3a4.5,4.5 0 1,0 9.0,0a4.5,4.5 0 1,0 -9.0,0M373.9,366.9a4.5,4.5 0 1,0 9.0,0a4.5,4.5 0 1,0 -9.0,0M374.1,371.1a4.5,4.5 0 1,0 9.0,0a4.5,4.5 0 1,0 -9.0,0M374.4,373.5a4.5,4.5 0 1,0 9.0,0a4.5,4.5 0 1,0 -9.0,0M374.5,381.8a4.5,4.5 0 1,0 9.0,0a4.5,4.5 0 1,0 -9.0,0M374.7,384.7a4.5,4.5 0 1,0 9.0,0a4.5,4.5 0 1,0 -9.0,0M375.1,369.0a4.5,4.5 0 1,0 9.0,0a4.5,4.5 0 1,0 -9.0,0M375.1,374.7a4.5,4.5 0 1,0 9.0,0a4.5,4.5 0 1,0 -9.0,0M375.3,382.5a4.5,4.5 0 1,0 9.0,0a4.5,4.5 0 1,0 -9.0,0M375.6,374.7a4.5,4.5 0 1,0 9.0,0a4.5,4.5 0 1,0 -9.0,0M375.8,376.3a4.5,4.5 0 1,0 9.0,0a4.5,4.5 0 1,0 -9.0,0M375.9,375.5a4.5,4.5 0 1,0 9.0,0a4.5,4.5 0 1,0 -9.0,0M376.1,375.5a4.5,4.5 0 1,0 9.0,0a4.5,4.5 0 1,0 -9.0,0M376.3,377.1a4.5,4.5 0 1,0 9.0,0a4.5,4.5 0 1,0 -9.0,0M376.6,368.3a4.5,4.5 0 1,0 9.0,0a4.5,4.5 0 1,0 -9.0,0M376.7,371.4a4.5,4.5 0 1,0 9.0,0a4.5,4.5 0 1,0 -9.0,0M376.9,382.1a4.5,4.5 0 1,0 9.0,0a4.5,4.5 0 1,0 -9.0,0M377.2,374.2a4.5,4.5 0 1,0 9.0,0a4.5,4.5 0 1,0 -9.0,0M377.4,385.1a4.5,4.5 0 1,0 9.0,0a4.5,4.5 0 1,0 -9.0,0M377.4,385.1a4.5,4.5 0 1,0 9.0,0a4.5,4.5 0 1,0 -9.0,0M377.8,379.4a4.5,4.5 0 1,0 9.0,0a4.5,4.5 0 1,0 -9.0,0M377.9,365.5a4.5,4.5 0 1,0 9.0,0a4.5,4.5 0 1,0 -9.0,0M378.2,380.4a4.5,4.5 0 1,0 9.0,0a4.5,4.5 0 1,0 -9.0,0M378.3,382.7a4.5,4.5 0 1,0 9.0,0a4.5,4.5 0 1,0 -9.0,0M378.5,379.5a4.5,4.5 0 1,0 9.0,0a4.5,4.5 0 1,0 -9.0,0M378.7,377.3a4.5,4.5 0 1,0 9.0,0a4.5,4.5 0 1,0 -9.0,0M378.9,365.8a4.5,4.5 0 1,0 9.0,0a4.5,4.5 0 1,0 -9.0,0M379.2,379.0a4.5,4.5 0 1,0 9.0,0a4.5,4.5 0 1,0 -9.0,0M379.3,367.1a4.5,4.5 0 1,0 9.0,0a4.5,4.5 0 1,0 -9.0,0M379.6,373.3a4.5,4.5 0 1,0 9.0,0a4.5,4.5 0 1,0 -9.0,0M379.7,377.9a4.5,4.5 0 1,0 9.0,0a4.5,4.5 0 1,0 -9.0,0M379.9,384.7a4.5,4.5 0 1,0 9.0,0a4.5,4.5 0 1,0 -9.0,0M380.1,371.3a4.5,4.5 0 1,0 9.0,0a4.5,4.5 0 1,0 -9.0,0M380.4,376.8a4.5,4.5 0 1,0 9.0,0a4.5,4.5 0 1,0 -9.0,0M380.5,368.0a4.5,4.5 0 1,0 9.0,0a4.5,4.5 0 1,0 -9.0,0M380.7,374.1a4.5,4.5 0 1,0 9.0,0a4.5,4.5 0 1,0 -9.0,0M380.9,378.6a4.5,4.5 0 1,0 9.0,0a4.5,4.5 0 1,0 -9.0,0M381.1,375.6a4.5,4.5 0 1,0 9.0,0a4.5,4.5 0 1,0 -9.0,0M381.3,378.1a4.5,4.5 0 1,0 9.0,0a4.5,4.5 0 1,0 -9.0,0M381.5,378.2a4.5,4.5 0 1,0 9.0,0a4.5,4.5 0 1,0 -9.0,0M381.6,368.1a4.5,4.5 0 1,0 9.0,0a4.5,4.5 0 1,0 -9.0,0M381.8,378.1a4.5,4.5 0 1,0 9.0,0a4.5,4.5 0 1,0 -9.0,0M382.0,366.0a4.5,4.5 0 1,0 9.0,0a4.5,4.5 0 1,0 -9.0,0M382.3,376.8a4.5,4.5 0 1,0 9.0,0a4.5,4.5 0 1,0 -9.0,0M382.4,378.0a4.5,4.5 0 1,0 9.0,0a4.5,4.5 0 1,0 -9.0,0M382.6,368.3a4.5,4.5 0 1,0 9.0,0a4.5,4.5 0 1,0 -9.0,0M382.9,376.4a4.5,4.5 0 1,0 9.0,0a4.5,4.5 0 1,0 -9.0,0M383.0,382.6a4.5,4.5 0 1,0 9.0,0a4.5,4.5 0 1,0 -9.0,0M383.3,365.6a4.5,4.5 0 1,0 9.0,0a4.5,4.5 0 1,0 -9.0,0M383.4,372.8a4.5,4.5 0 1,0 9.0,0a4.5,4.5 0 1,0 -9.0,0M383.6,383.2a4.5,4.5 0 1,0 9.0,0a4.5,4.5 0 1,0 -9.0,0M383.9,369.3a4.5,4.5 0 1,0 9.0,0a4.5,4.5 0 1,0 -9.0,0M384.0,375.3a4.5,4.5 0 1,0 9.0,0a4.5,4.5 0 1,0 -9.0,0M116.3,337.1a4.5,4.5 0 1,0 9.0,0a4.5,4.5 0 1,0 -9.0,0M164.8,345.2a4.5,4.5 0 1,0 9.0,0a4.5,4.5 0 1,0 -9.0,0M100.2,392.0a4.5,4.5 0 1,0 9.0,0a4.5,4.5 0 1,0 -9.0,0M168.9,390.0a4.5,4.5 0 1,0 9.0,0a4.5,4.5 0 1,0 -9.0,0M237.9,344.9a4.5,4.5 0 1,0 9.0,0a4.5,4.5 0 1,0 -9.0,0M185.9,353.2a4.5,4.5 0 1,0 9.0,0a4.5,4.5 0 1,0 -9.0,0M265.2,353.3a4.5,4.5 0 1,0 9.0,0a4.5,4.5 0 1,0 -9.0,0M323.5,390.7a4.5,4.5 0 1,0 9.0,0a4.5,4.5 0 1,0 -9.0,0M346.5,389.0a4.5,4.5 0 1,0 9.0,0a4.5,4.5 0 1,0 -9.0,0M361.0,391.0a4.5,4.5 0 1,0 9.0,0a4.5,4.5 0 1,0 -9.0,0M381.5,390.0a4.5,4.5 0 1,0 9.0,0a4.5,4.5 0 1,0 -9.0,0" fill="#000"/>
<line x1="75.30" y1="351.50" x2="391.00" y2="351.50" stroke="#000" stroke-width="3"/>
<line x1="75.30" y1="387.50" x2="391.00" y2="387.50" stroke="#000" stroke-width="3"/>
<path d="M71.8,364.4h9.2v9.2h-9.2ZM70.9,365.8h9.2v9.2h-9.2ZM72.7,367.2h9.2v9.2h-9.2ZM71.8,368.7h9.2v9.2h-9.2ZM71.3,370.1h9.2v9.2h-9.2ZM72.3,371.5h9.2v9.2h-9.2ZM71.8,372.9h9.2v9.2h-9.2ZM72.8,374.4h9.2v9.2h-9.2ZM70.8,375.8h9.2v9.2h-9.2ZM133.9,360.0h9.2v9.2h-9.2ZM133.0,361.6h9.2v9.2h-9.2ZM134.8,363.2h9.2v9.2h-9.2ZM133.9,364.8h9.2v9.2h-9.2ZM133.4,366.4h9.2v9.2h-9.2ZM134.4,368.0h9.2v9.2h-9.2ZM133.9,369.6h9.2v9.2h-9.2ZM134.9,371.2h9.2v9.2h-9.2ZM132.9,372.8h9.2v9.2h-9.2ZM196.7,362.0h9.2v9.2h-9.2ZM195.8,363.5h9.2v9.2h-9.2ZM197.6,364.9h9.2v9.2h-9.2ZM196.7,366.4h9.2v9.2h-9.2ZM196.2,367.9h9.2v9.2h-9.2ZM197.2,369.3h9.2v9.2h-9.2ZM196.7,370.8h9.2v9.2h-9.2ZM197.7,372.2h9.2v9.2h-9.2ZM195.7,373.7h9.2v9.2h-9.2ZM259.9,363.0h9.2v9.2h-9.2ZM259.0,365.2h9.2v9.2h-9.2ZM260.8,367.4h9.2v9.2h-9.2ZM259.9,369.6h9.2v9.2h-9.2ZM259.4,371.8h9.2v9.2h-9.2ZM260.4,373.9h9.2v9.2h-9.2ZM259.9,376.1h9.2v9.2h-9.2ZM260.9,378.3h9.2v9.2h-9.2ZM258.9,380.5h9.2v9.2h-9.2ZM323.0,364.1h9.2v9.2h-9.2ZM322.1,365.8h9.2v9.2h-9.2ZM323.9,367.5h9.2v9.2h-9.2ZM323.0,369.3h9.2v9.2h-9.2ZM322.5,371.0h9.2v9.2h-9.2ZM323.5,372.7h9.2v9.2h-9.2ZM323.0,374.4h9.2v9.2h-9.2ZM324.0,376.2h9.2v9.2h-9.2ZM322.0,377.9h9.2v9.2h-9.2Z" fill="#FF0000"/>
<path d="M71.20,300.80L76.50,291.80L81.80,300.80ZM70.70,303.57L76.00,294.57L81.30,303.57ZM71.70,306.33L77.00,297.33L82.30,306.33ZM71.20,309.10L76.50,300.10L81.80,309.10ZM133.40,301.70L138.70,292.70L144.00,301.70ZM132.90,304.57L138.20,295.57L143.50,304.57ZM133.90,307.43L139.20,298.43L144.50,307.43ZM133.40,310.30L138.70,301.30L144.00,310.30ZM196.70,301.70L202.00,292.70L207.30,301.70ZM196.20,303.67L201.50,294.67L206.80,303.67ZM197.20,305.63L202.50,296.63L207.80,305.63ZM196.70,307.60L202.00,298.60L207.30,307.60ZM259.30,304.50L264.60,295.50L269.90,304.50ZM258.80,305.80L264.10,296.80L269.40,305.80ZM259.80,307.10L265.10,298.10L270.40,307.10ZM259.30,308.40L264.60,299.40L269.90,308.40ZM321.90,305.00L327.20,296.00L332.50,305.00ZM321.40,306.60L326.70,297.60L332.00,306.60ZM322.40,308.20L327.70,299.20L333.00,308.20ZM321.90,309.80L327.20,300.80L332.50,309.80Z" fill="#0000FF"/>
<rect x="140.0" y="431.0" width="9" height="9" fill="#FF0000"/>
<path d="M139.80,465.10L144.60,456.10L149.40,465.10Z" fill="#0000FF"/>
<text x="168.90" y="441.10" font-size="16.9" font-weight="bold" fill="#FF0000" text-anchor="start" letter-spacing="0.17">Positive control</text>
<text x="168.60" y="466.90" font-size="16.9" font-weight="bold" fill="#0000FF" text-anchor="start" letter-spacing="0.24">Negative control (No DNA)</text>
<rect x="470" y="133" width="79.8" height="30.0" fill="#000"/>
<rect x="551.2" y="133" width="69.5" height="30.0" fill="#000"/>
<rect x="622.2" y="133" width="74.8" height="30.0" fill="#000"/>
<rect x="698.3" y="133" width="69.9" height="30.0" fill="#000"/>
<rect x="470" y="166" width="79.8" height="28.6" fill="#C9C9C9"/>
<rect x="551.2" y="166" width="69.5" height="28.6" fill="#C9C9C9"/>
<rect x="622.2" y="166" width="74.8" height="28.6" fill="#C9C9C9"/>
<rect x="698.3" y="166" width="69.9" height="28.6" fill="#C9C9C9"/>
<rect x="470" y="196.2" width="79.8" height="29.3" fill="#E7E7E7"/>
<rect x="551.2" y="196.2" width="69.5" height="29.3" fill="#E7E7E7"/>
<rect x="622.2" y="196.2" width="74.8" height="29.3" fill="#E7E7E7"/>
<rect x="698.3" y="196.2" width="69.9" height="29.3" fill="#E7E7E7"/>
<text x="475.30" y="149.50" font-size="15" font-weight="bold" fill="#fff" text-anchor="start" >Assay</text>
<text x="586.00" y="149.60" font-size="15" font-weight="bold" fill="#fff" text-anchor="middle" >LLD</text>
<text x="643.4" y="149.5" font-size="15" font-weight="bold" fill="#fff">EC<tspan font-size="10.2" dy="4.3">50</tspan></text>
<text x="732.40" y="149.50" font-size="15" font-weight="bold" fill="#fff" text-anchor="middle" >Z&#8217;</text>
<text x="475.60" y="182.10" font-size="15" font-weight="normal" fill="#000" text-anchor="start" >FP</text>
<text x="585.90" y="182.10" font-size="15" font-weight="normal" fill="#000" text-anchor="middle" >12.5 nM</text>
<text x="659.60" y="182.10" font-size="15" font-weight="normal" fill="#000" text-anchor="middle" >10 nM</text>
<text x="733.30" y="182.10" font-size="15" font-weight="normal" fill="#000" text-anchor="middle" >0.7</text>
<text x="475.60" y="211.80" font-size="15" font-weight="normal" fill="#000" text-anchor="start" >TR-FRET</text>
<text x="585.90" y="211.80" font-size="15" font-weight="normal" fill="#000" text-anchor="middle" >ND</text>
<text x="659.60" y="211.80" font-size="15" font-weight="normal" fill="#000" text-anchor="middle" >5 nM</text>
<text x="733.30" y="211.80" font-size="15" font-weight="normal" fill="#000" text-anchor="middle" >0.8</text>
<text x="462.60" y="298.60" font-size="14" font-weight="bold" fill="#000" text-anchor="start" >C</text>
<line x1="520.00" y1="292.00" x2="520.00" y2="495.00" stroke="#000" stroke-width="2"/>
<line x1="519.00" y1="494.00" x2="790.80" y2="494.00" stroke="#000" stroke-width="2"/>
<line x1="515.00" y1="494.00" x2="520.00" y2="494.00" stroke="#000" stroke-width="2"/>
<text x="503.00" y="498.10" font-size="11.5" font-weight="bold" fill="#000" text-anchor="end" >0</text>
<line x1="515.00" y1="454.00" x2="520.00" y2="454.00" stroke="#000" stroke-width="2"/>
<text x="503.00" y="457.88" font-size="11.5" font-weight="bold" fill="#000" text-anchor="end" >25</text>
<line x1="515.00" y1="414.00" x2="520.00" y2="414.00" stroke="#000" stroke-width="2"/>
<text x="503.00" y="417.66" font-size="11.5" font-weight="bold" fill="#000" text-anchor="end" >50</text>
<line x1="515.00" y1="373.00" x2="520.00" y2="373.00" stroke="#000" stroke-width="2"/>
<text x="503.00" y="377.44" font-size="11.5" font-weight="bold" fill="#000" text-anchor="end" >75</text>
<line x1="515.00" y1="333.00" x2="520.00" y2="333.00" stroke="#000" stroke-width="2"/>
<text x="503.00" y="337.22" font-size="11.5" font-weight="bold" fill="#000" text-anchor="end" >100</text>
<line x1="515.00" y1="293.00" x2="520.00" y2="293.00" stroke="#000" stroke-width="2"/>
<text x="503.00" y="297.00" font-size="11.5" font-weight="bold" fill="#000" text-anchor="end" >125</text>
<line x1="520.00" y1="494.00" x2="520.00" y2="498.80" stroke="#000" stroke-width="2"/>
<line x1="541.00" y1="494.00" x2="541.00" y2="496.90" stroke="#000" stroke-width="2"/>
<line x1="554.00" y1="494.00" x2="554.00" y2="496.90" stroke="#000" stroke-width="2"/>
<line x1="563.00" y1="494.00" x2="563.00" y2="496.90" stroke="#000" stroke-width="2"/>
<line x1="570.00" y1="494.00" x2="570.00" y2="496.90" stroke="#000" stroke-width="2"/>
<line x1="575.00" y1="494.00" x2="575.00" y2="496.90" stroke="#000" stroke-width="2"/>
<line x1="580.00" y1="494.00" x2="580.00" y2="496.90" stroke="#000" stroke-width="2"/>
<line x1="584.00" y1="494.00" x2="584.00" y2="496.90" stroke="#000" stroke-width="2"/>
<line x1="588.00" y1="494.00" x2="588.00" y2="496.90" stroke="#000" stroke-width="2"/>
<line x1="591.00" y1="494.00" x2="591.00" y2="498.80" stroke="#000" stroke-width="2"/>
<line x1="612.00" y1="494.00" x2="612.00" y2="496.90" stroke="#000" stroke-width="2"/>
<line x1="625.00" y1="494.00" x2="625.00" y2="496.90" stroke="#000" stroke-width="2"/>
<line x1="634.00" y1="494.00" x2="634.00" y2="496.90" stroke="#000" stroke-width="2"/>
<line x1="641.00" y1="494.00" x2="641.00" y2="496.90" stroke="#000" stroke-width="2"/>
<line x1="646.00" y1="494.00" x2="646.00" y2="496.90" stroke="#000" stroke-width="2"/>
<line x1="651.00" y1="494.00" x2="651.00" y2="496.90" stroke="#000" stroke-width="2"/>
<line x1="655.00" y1="494.00" x2="655.00" y2="496.90" stroke="#000" stroke-width="2"/>
<line x1="659.00" y1="494.00" x2="659.00" y2="496.90" stroke="#000" stroke-width="2"/>
<line x1="662.00" y1="494.00" x2="662.00" y2="498.80" stroke="#000" stroke-width="2"/>
<line x1="683.00" y1="494.00" x2="683.00" y2="496.90" stroke="#000" stroke-width="2"/>
<line x1="696.00" y1="494.00" x2="696.00" y2="496.90" stroke="#000" stroke-width="2"/>
<line x1="705.00" y1="494.00" x2="705.00" y2="496.90" stroke="#000" stroke-width="2"/>
<line x1="712.00" y1="494.00" x2="712.00" y2="496.90" stroke="#000" stroke-width="2"/>
<line x1="717.00" y1="494.00" x2="717.00" y2="496.90" stroke="#000" stroke-width="2"/>
<line x1="722.00" y1="494.00" x2="722.00" y2="496.90" stroke="#000" stroke-width="2"/>
<line x1="726.00" y1="494.00" x2="726.00" y2="496.90" stroke="#000" stroke-width="2"/>
<line x1="730.00" y1="494.00" x2="730.00" y2="496.90" stroke="#000" stroke-width="2"/>
<line x1="733.00" y1="494.00" x2="733.00" y2="498.80" stroke="#000" stroke-width="2"/>
<line x1="754.00" y1="494.00" x2="754.00" y2="496.90" stroke="#000" stroke-width="2"/>
<line x1="767.00" y1="494.00" x2="767.00" y2="496.90" stroke="#000" stroke-width="2"/>
<line x1="776.00" y1="494.00" x2="776.00" y2="496.90" stroke="#000" stroke-width="2"/>
<line x1="783.00" y1="494.00" x2="783.00" y2="496.90" stroke="#000" stroke-width="2"/>
<line x1="788.00" y1="494.00" x2="788.00" y2="496.90" stroke="#000" stroke-width="2"/>
<text x="515.73" y="511.60" font-size="11.5" font-weight="bold" fill="#000" text-anchor="middle" >0.1</text>
<text x="586.73" y="511.60" font-size="11.5" font-weight="bold" fill="#000" text-anchor="middle" >1</text>
<text x="657.73" y="511.60" font-size="11.5" font-weight="bold" fill="#000" text-anchor="middle" >10</text>
<text x="728.73" y="511.60" font-size="11.5" font-weight="bold" fill="#000" text-anchor="middle" >100</text>
<text x="591.30" y="530.50" font-size="15" font-weight="bold" fill="#000" text-anchor="start" letter-spacing="0.25">Compound, &#181;M</text>
<text x="484.60" y="392.70" font-size="15" font-weight="bold" fill="#000" text-anchor="middle" transform="rotate(-90 484.6 392.7)">% Inhibition</text>
<clipPath id="cc"><rect x="521" y="280" width="280" height="213"/></clipPath>
<g clip-path="url(#cc)">
<line x1="526.66" y1="478.72" x2="526.66" y2="499.31" stroke="#0000C4" stroke-width="2.9"/>
<line x1="521.86" y1="478.72" x2="531.46" y2="478.72" stroke="#0000C4" stroke-width="2.9"/>
<line x1="521.86" y1="499.31" x2="531.46" y2="499.31" stroke="#0000C4" stroke-width="2.9"/>
<line x1="548.10" y1="460.05" x2="548.10" y2="481.29" stroke="#0000C4" stroke-width="2.9"/>
<line x1="543.30" y1="460.05" x2="552.90" y2="460.05" stroke="#0000C4" stroke-width="2.9"/>
<line x1="543.30" y1="481.29" x2="552.90" y2="481.29" stroke="#0000C4" stroke-width="2.9"/>
<line x1="569.54" y1="463.11" x2="569.54" y2="479.52" stroke="#0000C4" stroke-width="2.9"/>
<line x1="564.74" y1="463.11" x2="574.34" y2="463.11" stroke="#0000C4" stroke-width="2.9"/>
<line x1="564.74" y1="479.52" x2="574.34" y2="479.52" stroke="#0000C4" stroke-width="2.9"/>
<line x1="612.42" y1="444.77" x2="612.42" y2="453.14" stroke="#0000C4" stroke-width="2.9"/>
<line x1="607.62" y1="444.77" x2="617.22" y2="444.77" stroke="#0000C4" stroke-width="2.9"/>
<line x1="607.62" y1="453.14" x2="617.22" y2="453.14" stroke="#0000C4" stroke-width="2.9"/>
<line x1="655.30" y1="398.28" x2="655.30" y2="405.36" stroke="#0000C4" stroke-width="2.9"/>
<line x1="650.50" y1="398.28" x2="660.10" y2="398.28" stroke="#0000C4" stroke-width="2.9"/>
<line x1="650.50" y1="405.36" x2="660.10" y2="405.36" stroke="#0000C4" stroke-width="2.9"/>
<line x1="676.74" y1="365.30" x2="676.74" y2="374.95" stroke="#0000C4" stroke-width="2.9"/>
<line x1="671.94" y1="365.30" x2="681.54" y2="365.30" stroke="#0000C4" stroke-width="2.9"/>
<line x1="671.94" y1="374.95" x2="681.54" y2="374.95" stroke="#0000C4" stroke-width="2.9"/>
<line x1="698.18" y1="326.85" x2="698.18" y2="347.44" stroke="#0000C4" stroke-width="2.9"/>
<line x1="693.38" y1="326.85" x2="702.98" y2="326.85" stroke="#0000C4" stroke-width="2.9"/>
<line x1="693.38" y1="347.44" x2="702.98" y2="347.44" stroke="#0000C4" stroke-width="2.9"/>
<line x1="719.62" y1="334.57" x2="719.62" y2="342.93" stroke="#0000C4" stroke-width="2.9"/>
<line x1="714.82" y1="334.57" x2="724.42" y2="334.57" stroke="#0000C4" stroke-width="2.9"/>
<line x1="714.82" y1="342.93" x2="724.42" y2="342.93" stroke="#0000C4" stroke-width="2.9"/>
<line x1="741.06" y1="328.78" x2="741.06" y2="339.07" stroke="#0000C4" stroke-width="2.9"/>
<line x1="736.26" y1="328.78" x2="745.86" y2="328.78" stroke="#0000C4" stroke-width="2.9"/>
<line x1="736.26" y1="339.07" x2="745.86" y2="339.07" stroke="#0000C4" stroke-width="2.9"/>
<line x1="762.50" y1="338.91" x2="762.50" y2="349.21" stroke="#0000C4" stroke-width="2.9"/>
<line x1="757.70" y1="338.91" x2="767.30" y2="338.91" stroke="#0000C4" stroke-width="2.9"/>
<line x1="757.70" y1="349.21" x2="767.30" y2="349.21" stroke="#0000C4" stroke-width="2.9"/>
<path d="M522.51,489.01a4.15,3.9 0 1,0 8.3,0a4.15,3.9 0 1,0 -8.3,0M543.95,470.67a4.15,3.9 0 1,0 8.3,0a4.15,3.9 0 1,0 -8.3,0M565.39,471.32a4.15,3.9 0 1,0 8.3,0a4.15,3.9 0 1,0 -8.3,0M586.83,459.41a4.15,3.9 0 1,0 8.3,0a4.15,3.9 0 1,0 -8.3,0M608.27,448.95a4.15,3.9 0 1,0 8.3,0a4.15,3.9 0 1,0 -8.3,0M629.71,422.73a4.15,3.9 0 1,0 8.3,0a4.15,3.9 0 1,0 -8.3,0M651.15,401.82a4.15,3.9 0 1,0 8.3,0a4.15,3.9 0 1,0 -8.3,0M672.59,370.12a4.15,3.9 0 1,0 8.3,0a4.15,3.9 0 1,0 -8.3,0M694.03,337.14a4.15,3.9 0 1,0 8.3,0a4.15,3.9 0 1,0 -8.3,0M715.47,338.75a4.15,3.9 0 1,0 8.3,0a4.15,3.9 0 1,0 -8.3,0M736.91,333.92a4.15,3.9 0 1,0 8.3,0a4.15,3.9 0 1,0 -8.3,0M758.35,344.06a4.15,3.9 0 1,0 8.3,0a4.15,3.9 0 1,0 -8.3,0" fill="#0000C4"/>
<line x1="526.66" y1="448.31" x2="526.66" y2="457.18" stroke="#FF0000" stroke-width="2.9"/>
<line x1="526.66" y1="465.18" x2="526.66" y2="474.05" stroke="#FF0000" stroke-width="2.9"/>
<line x1="521.86" y1="448.31" x2="531.46" y2="448.31" stroke="#FF0000" stroke-width="2.9"/>
<line x1="521.86" y1="474.05" x2="531.46" y2="474.05" stroke="#FF0000" stroke-width="2.9"/>
<line x1="548.10" y1="476.46" x2="548.10" y2="476.97" stroke="#FF0000" stroke-width="2.9"/>
<line x1="548.10" y1="484.97" x2="548.10" y2="485.47" stroke="#FF0000" stroke-width="2.9"/>
<line x1="543.30" y1="476.46" x2="552.90" y2="476.46" stroke="#FF0000" stroke-width="2.9"/>
<line x1="543.30" y1="485.47" x2="552.90" y2="485.47" stroke="#FF0000" stroke-width="2.9"/>
<line x1="569.54" y1="482.58" x2="569.54" y2="485.50" stroke="#FF0000" stroke-width="2.9"/>
<line x1="569.54" y1="493.50" x2="569.54" y2="496.41" stroke="#FF0000" stroke-width="2.9"/>
<line x1="564.74" y1="482.58" x2="574.34" y2="482.58" stroke="#FF0000" stroke-width="2.9"/>
<line x1="564.74" y1="496.41" x2="574.34" y2="496.41" stroke="#FF0000" stroke-width="2.9"/>
<line x1="590.98" y1="448.63" x2="590.98" y2="452.03" stroke="#FF0000" stroke-width="2.9"/>
<line x1="590.98" y1="460.03" x2="590.98" y2="463.43" stroke="#FF0000" stroke-width="2.9"/>
<line x1="586.18" y1="448.63" x2="595.78" y2="448.63" stroke="#FF0000" stroke-width="2.9"/>
<line x1="586.18" y1="463.43" x2="595.78" y2="463.43" stroke="#FF0000" stroke-width="2.9"/>
<line x1="612.42" y1="448.95" x2="612.42" y2="451.39" stroke="#FF0000" stroke-width="2.9"/>
<line x1="612.42" y1="459.39" x2="612.42" y2="461.82" stroke="#FF0000" stroke-width="2.9"/>
<line x1="607.62" y1="448.95" x2="617.22" y2="448.95" stroke="#FF0000" stroke-width="2.9"/>
<line x1="607.62" y1="461.82" x2="617.22" y2="461.82" stroke="#FF0000" stroke-width="2.9"/>
<line x1="655.30" y1="405.19" x2="655.30" y2="406.02" stroke="#FF0000" stroke-width="2.9"/>
<line x1="655.30" y1="414.02" x2="655.30" y2="414.85" stroke="#FF0000" stroke-width="2.9"/>
<line x1="650.50" y1="405.19" x2="660.10" y2="405.19" stroke="#FF0000" stroke-width="2.9"/>
<line x1="650.50" y1="414.85" x2="660.10" y2="414.85" stroke="#FF0000" stroke-width="2.9"/>
<line x1="676.74" y1="363.85" x2="676.74" y2="367.89" stroke="#FF0000" stroke-width="2.9"/>
<line x1="676.74" y1="375.89" x2="676.74" y2="379.94" stroke="#FF0000" stroke-width="2.9"/>
<line x1="671.94" y1="363.85" x2="681.54" y2="363.85" stroke="#FF0000" stroke-width="2.9"/>
<line x1="671.94" y1="379.94" x2="681.54" y2="379.94" stroke="#FF0000" stroke-width="2.9"/>
<line x1="698.18" y1="331.03" x2="698.18" y2="336.20" stroke="#FF0000" stroke-width="2.9"/>
<line x1="698.18" y1="344.20" x2="698.18" y2="349.37" stroke="#FF0000" stroke-width="2.9"/>
<line x1="693.38" y1="331.03" x2="702.98" y2="331.03" stroke="#FF0000" stroke-width="2.9"/>
<line x1="693.38" y1="349.37" x2="702.98" y2="349.37" stroke="#FF0000" stroke-width="2.9"/>
<line x1="719.62" y1="327.17" x2="719.62" y2="328.80" stroke="#FF0000" stroke-width="2.9"/>
<line x1="719.62" y1="336.80" x2="719.62" y2="338.43" stroke="#FF0000" stroke-width="2.9"/>
<line x1="714.82" y1="327.17" x2="724.42" y2="327.17" stroke="#FF0000" stroke-width="2.9"/>
<line x1="714.82" y1="338.43" x2="724.42" y2="338.43" stroke="#FF0000" stroke-width="2.9"/>
<line x1="736.26" y1="329.10" x2="745.86" y2="329.10" stroke="#FF0000" stroke-width="2.9"/>
<line x1="736.26" y1="333.92" x2="745.86" y2="333.92" stroke="#FF0000" stroke-width="2.9"/>
<line x1="762.50" y1="328.13" x2="762.50" y2="329.12" stroke="#FF0000" stroke-width="2.9"/>
<line x1="762.50" y1="337.12" x2="762.50" y2="338.11" stroke="#FF0000" stroke-width="2.9"/>
<line x1="757.70" y1="328.13" x2="767.30" y2="328.13" stroke="#FF0000" stroke-width="2.9"/>
<line x1="757.70" y1="338.11" x2="767.30" y2="338.11" stroke="#FF0000" stroke-width="2.9"/>
<path d="M521.66,465.63L526.66,456.73L531.66,465.63ZM525.41,463.43L526.66,461.33L527.91,463.43ZM543.10,485.42L548.10,476.52L553.10,485.42ZM546.85,483.22L548.10,481.12L549.35,483.22ZM564.54,493.95L569.54,485.05L574.54,493.95ZM568.29,491.75L569.54,489.65L570.79,491.75ZM585.98,460.48L590.98,451.58L595.98,460.48ZM589.73,458.28L590.98,456.18L592.23,458.28ZM607.42,459.84L612.42,450.94L617.42,459.84ZM611.17,457.64L612.42,455.54L613.67,457.64ZM628.86,444.88L633.86,435.98L638.86,444.88ZM632.61,442.68L633.86,440.58L635.11,442.68ZM650.30,414.47L655.30,405.57L660.30,414.47ZM654.05,412.27L655.30,410.17L656.55,412.27ZM671.74,376.34L676.74,367.44L681.74,376.34ZM675.49,374.14L676.74,372.04L677.99,374.14ZM693.18,344.65L698.18,335.75L703.18,344.65ZM696.93,342.45L698.18,340.35L699.43,342.45ZM714.62,337.25L719.62,328.35L724.62,337.25ZM718.37,335.05L719.62,332.95L720.87,335.05ZM736.06,335.96L741.06,327.06L746.06,335.96ZM739.81,333.76L741.06,331.66L742.31,333.76ZM757.50,337.57L762.50,328.67L767.50,337.57ZM761.25,335.37L762.50,333.27L763.75,335.37Z" fill="#FF0000" fill-rule="evenodd"/>
<polyline points="521.0,477.19 522.0,477.14 523.0,477.09 524.0,477.03 525.0,476.98 526.0,476.92 527.0,476.86 528.0,476.79 529.0,476.73 530.0,476.66 531.0,476.59 532.0,476.51 533.0,476.44 534.0,476.36 535.0,476.28 536.0,476.19 537.0,476.10 538.0,476.01 539.0,475.92 540.0,475.82 541.0,475.71 542.0,475.61 543.0,475.50 544.0,475.39 545.0,475.27 546.0,475.15 547.0,475.02 548.0,474.89 549.0,474.75 550.0,474.61 551.0,474.47 552.0,474.32 553.0,474.16 554.0,474.00 555.0,473.83 556.0,473.66 557.0,473.48 558.0,473.29 559.0,473.10 560.0,472.90 561.0,472.69 562.0,472.48 563.0,472.26 564.0,472.03 565.0,471.79 566.0,471.55 567.0,471.29 568.0,471.03 569.0,470.76 570.0,470.48 571.0,470.19 572.0,469.89 573.0,469.59 574.0,469.27 575.0,468.94 576.0,468.60 577.0,468.24 578.0,467.88 579.0,467.51 580.0,467.12 581.0,466.72 582.0,466.31 583.0,465.88 584.0,465.44 585.0,464.99 586.0,464.53 587.0,464.04 588.0,463.55 589.0,463.04 590.0,462.52 591.0,461.97 592.0,461.42 593.0,460.85 594.0,460.26 595.0,459.65 596.0,459.03 597.0,458.39 598.0,457.73 599.0,457.06 600.0,456.36 601.0,455.65 602.0,454.92 603.0,454.17 604.0,453.41 605.0,452.62 606.0,451.82 607.0,450.99 608.0,450.15 609.0,449.28 610.0,448.40 611.0,447.50 612.0,446.57 613.0,445.63 614.0,444.67 615.0,443.69 616.0,442.69 617.0,441.67 618.0,440.63 619.0,439.57 620.0,438.50 621.0,437.40 622.0,436.29 623.0,435.16 624.0,434.01 625.0,432.85 626.0,431.67 627.0,430.47 628.0,429.26 629.0,428.03 630.0,426.79 631.0,425.54 632.0,424.27 633.0,422.99 634.0,421.70 635.0,420.40 636.0,419.08 637.0,417.76 638.0,416.43 639.0,415.10 640.0,413.75 641.0,412.40 642.0,411.05 643.0,409.69 644.0,408.33 645.0,406.96 646.0,405.60 647.0,404.23 648.0,402.87 649.0,401.51 650.0,400.15 651.0,398.79 652.0,397.44 653.0,396.09 654.0,394.75 655.0,393.42 656.0,392.10 657.0,390.78 658.0,389.48 659.0,388.18 660.0,386.90 661.0,385.62 662.0,384.36 663.0,383.12 664.0,381.89 665.0,380.67 666.0,379.47 667.0,378.28 668.0,377.11 669.0,375.96 670.0,374.82 671.0,373.70 672.0,372.60 673.0,371.52 674.0,370.45 675.0,369.41 676.0,368.38 677.0,367.38 678.0,366.39 679.0,365.42 680.0,364.47 681.0,363.54 682.0,362.63 683.0,361.74 684.0,360.87 685.0,360.02 686.0,359.19 687.0,358.38 688.0,357.58 689.0,356.81 690.0,356.05 691.0,355.32 692.0,354.60 693.0,353.90 694.0,353.22 695.0,352.55 696.0,351.91 697.0,351.28 698.0,350.67 699.0,350.07 700.0,349.49 701.0,348.93 702.0,348.39 703.0,347.86 704.0,347.34 705.0,346.84 706.0,346.36 707.0,345.88 708.0,345.43 709.0,344.98 710.0,344.55 711.0,344.14 712.0,343.73 713.0,343.34 714.0,342.96 715.0,342.59 716.0,342.24 717.0,341.89 718.0,341.56 719.0,341.24 720.0,340.93 721.0,340.62 722.0,340.33 723.0,340.05 724.0,339.77 725.0,339.51 726.0,339.25 727.0,339.00 728.0,338.76 729.0,338.53 730.0,338.31 731.0,338.09 732.0,337.88 733.0,337.68 734.0,337.49 735.0,337.30 736.0,337.12 737.0,336.94 738.0,336.77 739.0,336.61 740.0,336.45 741.0,336.30 742.0,336.15 743.0,336.01 744.0,335.87 745.0,335.74 746.0,335.61 747.0,335.49 748.0,335.37 749.0,335.25 750.0,335.14 751.0,335.03 752.0,334.93 753.0,334.83 754.0,334.73 755.0,334.64 756.0,334.55 757.0,334.46 758.0,334.38 759.0,334.30 760.0,334.22 761.0,334.15 762.0,334.08" fill="none" stroke="#0000C4" stroke-width="2.1"/>
<polyline points="521.0,473.56 522.0,473.55 523.0,473.54 524.0,473.53 525.0,473.52 526.0,473.51 527.0,473.50 528.0,473.49 529.0,473.48 530.0,473.46 531.0,473.45 532.0,473.44 533.0,473.42 534.0,473.41 535.0,473.39 536.0,473.37 537.0,473.36 538.0,473.34 539.0,473.32 540.0,473.30 541.0,473.28 542.0,473.25 543.0,473.23 544.0,473.20 545.0,473.18 546.0,473.15 547.0,473.12 548.0,473.09 549.0,473.06 550.0,473.03 551.0,472.99 552.0,472.96 553.0,472.92 554.0,472.88 555.0,472.84 556.0,472.79 557.0,472.74 558.0,472.70 559.0,472.65 560.0,472.59 561.0,472.54 562.0,472.48 563.0,472.41 564.0,472.35 565.0,472.28 566.0,472.21 567.0,472.14 568.0,472.06 569.0,471.97 570.0,471.89 571.0,471.80 572.0,471.70 573.0,471.60 574.0,471.50 575.0,471.39 576.0,471.27 577.0,471.15 578.0,471.03 579.0,470.90 580.0,470.76 581.0,470.61 582.0,470.46 583.0,470.30 584.0,470.13 585.0,469.96 586.0,469.78 587.0,469.59 588.0,469.39 589.0,469.18 590.0,468.96 591.0,468.73 592.0,468.49 593.0,468.23 594.0,467.97 595.0,467.70 596.0,467.41 597.0,467.11 598.0,466.79 599.0,466.46 600.0,466.12 601.0,465.76 602.0,465.39 603.0,465.00 604.0,464.59 605.0,464.16 606.0,463.72 607.0,463.26 608.0,462.77 609.0,462.27 610.0,461.74 611.0,461.20 612.0,460.63 613.0,460.04 614.0,459.42 615.0,458.78 616.0,458.12 617.0,457.42 618.0,456.71 619.0,455.96 620.0,455.19 621.0,454.38 622.0,453.55 623.0,452.69 624.0,451.80 625.0,450.88 626.0,449.92 627.0,448.94 628.0,447.92 629.0,446.87 630.0,445.79 631.0,444.67 632.0,443.52 633.0,442.34 634.0,441.12 635.0,439.87 636.0,438.59 637.0,437.27 638.0,435.93 639.0,434.55 640.0,433.13 641.0,431.69 642.0,430.22 643.0,428.72 644.0,427.19 645.0,425.63 646.0,424.04 647.0,422.44 648.0,420.80 649.0,419.15 650.0,417.47 651.0,415.78 652.0,414.07 653.0,412.34 654.0,410.60 655.0,408.85 656.0,407.09 657.0,405.32 658.0,403.54 659.0,401.76 660.0,399.98 661.0,398.20 662.0,396.42 663.0,394.65 664.0,392.89 665.0,391.13 666.0,389.39 667.0,387.65 668.0,385.94 669.0,384.23 670.0,382.55 671.0,380.89 672.0,379.25 673.0,377.63 674.0,376.04 675.0,374.47 676.0,372.93 677.0,371.41 678.0,369.93 679.0,368.47 680.0,367.05 681.0,365.66 682.0,364.30 683.0,362.97 684.0,361.67 685.0,360.41 686.0,359.18 687.0,357.99 688.0,356.83 689.0,355.70 690.0,354.60 691.0,353.54 692.0,352.51 693.0,351.51 694.0,350.54 695.0,349.61 696.0,348.70 697.0,347.83 698.0,346.99 699.0,346.18 700.0,345.39 701.0,344.63 702.0,343.91 703.0,343.20 704.0,342.53 705.0,341.88 706.0,341.25 707.0,340.65 708.0,340.07 709.0,339.52 710.0,338.99 711.0,338.48 712.0,337.99 713.0,337.51 714.0,337.06 715.0,336.63 716.0,336.22 717.0,335.82 718.0,335.44 719.0,335.07 720.0,334.72 721.0,334.39 722.0,334.07 723.0,333.76 724.0,333.47 725.0,333.19 726.0,332.92 727.0,332.67 728.0,332.42 729.0,332.19 730.0,331.96 731.0,331.75 732.0,331.55 733.0,331.35 734.0,331.17 735.0,330.99 736.0,330.82 737.0,330.66 738.0,330.50 739.0,330.35 740.0,330.21 741.0,330.08 742.0,329.95 743.0,329.83 744.0,329.71 745.0,329.60 746.0,329.49 747.0,329.39 748.0,329.30 749.0,329.20 750.0,329.12 751.0,329.03 752.0,328.95 753.0,328.88 754.0,328.80 755.0,328.73 756.0,328.67 757.0,328.60 758.0,328.54 759.0,328.49 760.0,328.43 761.0,328.38 762.0,328.33" fill="none" stroke="#FF0000" stroke-width="2.1"/>
</g>
<ellipse cx="542.1" cy="318.3" rx="4.15" ry="3.8" fill="#0000C4"/>
<path d="M536.10,342.20L541.10,333.30L546.10,342.20ZM539.85,340.00L541.10,337.90L542.35,340.00Z" fill="#FF0000" fill-rule="evenodd"/>
<text x="563.10" y="324.90" font-size="15" font-weight="bold" fill="#000" text-anchor="start" >Compound 1</text>
<text x="562.80" y="343.10" font-size="15" font-weight="bold" fill="#000" text-anchor="start" >Compound 2</text>
</svg>
</body></html>
